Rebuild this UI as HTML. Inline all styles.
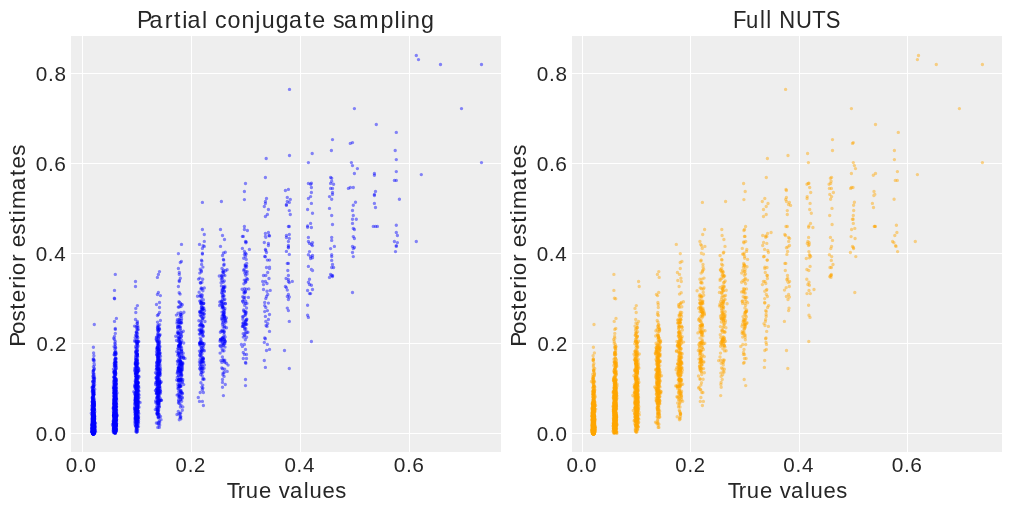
<!DOCTYPE html>
<html><head><meta charset="utf-8"><title>plot</title>
<style>
html,body{margin:0;padding:0;background:#fff;}
body{width:1011px;height:511px;overflow:hidden;font-family:"Liberation Sans",sans-serif;}
svg{display:block;position:absolute;left:0;top:0;will-change:transform;}
text{font-family:"Liberation Sans",sans-serif;fill:#262626;}
</style></head><body>
<svg width="1011" height="511" viewBox="0 0 1011 511">
<rect x="0" y="0" width="1011" height="511" fill="#ffffff"/>
<rect x="71" y="36" width="430" height="416" fill="#eeeeee"/>
<rect x="82" y="36" width="1" height="416" fill="#ffffff"/>
<rect x="191" y="36" width="1" height="416" fill="#ffffff"/>
<rect x="300" y="36" width="1" height="416" fill="#ffffff"/>
<rect x="409" y="36" width="1" height="416" fill="#ffffff"/>
<rect x="71" y="433" width="430" height="1" fill="#ffffff"/>
<rect x="71" y="343" width="430" height="1" fill="#ffffff"/>
<rect x="71" y="253" width="430" height="1" fill="#ffffff"/>
<rect x="71" y="163" width="430" height="1" fill="#ffffff"/>
<rect x="71" y="73" width="430" height="1" fill="#ffffff"/>
<rect x="572" y="36" width="430" height="416" fill="#eeeeee"/>
<rect x="582" y="36" width="1" height="416" fill="#ffffff"/>
<rect x="690" y="36" width="1" height="416" fill="#ffffff"/>
<rect x="799" y="36" width="1" height="416" fill="#ffffff"/>
<rect x="907" y="36" width="1" height="416" fill="#ffffff"/>
<rect x="572" y="433" width="430" height="1" fill="#ffffff"/>
<rect x="572" y="343" width="430" height="1" fill="#ffffff"/>
<rect x="572" y="253" width="430" height="1" fill="#ffffff"/>
<rect x="572" y="163" width="430" height="1" fill="#ffffff"/>
<rect x="572" y="73" width="430" height="1" fill="#ffffff"/>
<g fill="none" stroke="#0000ff" stroke-opacity="0.46" stroke-width="3.4" stroke-linecap="round">
<path d="M461.5 108.6h0M481.5 162.6h0M374.4 173.5h0M312.5 242.6h0M307.6 290.5h0M329.5 196.6h0M352.5 219.3h0M353.3 228.4h0M375.5 191.4h0M374.4 195.5h0M396.3 246.4h0M245.5 256.4h0M268.4 243.4h0M265.4 256.7h0M289.3 238.4h0M286.1 278.5h0M263.5 289.5h0M266.1 325.5h0M269.5 349.4h0M243.3 358.5h0M223.4 395.6h0M198.3 397.5h0M93.0 432.4h0M92.4 390.9h0M93.2 431.6h0M93.1 411.2h0M93.1 433.2h0M93.9 424.2h0M92.8 431.5h0M93.8 414.1h0M93.3 433.7h0M93.9 431.9h0M93.5 432.6h0M93.3 430.2h0M94.8 411.8h0M94.0 432.7h0M93.1 426.0h0M93.3 432.1h0M93.1 395.4h0M93.4 433.4h0M92.9 397.0h0M93.1 430.3h0M93.6 431.7h0M93.5 432.3h0M94.0 432.7h0M93.3 429.0h0M94.1 421.9h0M92.6 419.0h0M93.6 426.3h0M94.2 431.1h0M93.9 420.1h0M93.1 432.6h0M94.4 416.4h0M93.1 431.5h0M93.0 433.4h0M93.6 433.7h0M93.6 433.8h0M93.6 429.7h0M93.4 433.6h0M94.0 411.9h0M93.8 433.6h0M92.7 412.8h0M92.7 432.8h0M93.7 433.7h0M92.2 428.5h0M93.2 419.3h0M94.1 428.0h0M93.7 397.3h0M93.1 413.6h0M93.2 433.7h0M92.8 429.6h0M93.6 432.6h0M93.6 432.1h0M92.9 429.2h0M92.6 431.8h0M94.0 425.6h0M93.1 424.8h0M92.7 419.9h0M94.0 432.0h0M93.7 432.0h0M92.4 431.2h0M93.4 432.7h0M93.2 433.2h0M92.9 415.9h0M93.5 432.1h0M92.8 424.8h0M93.4 432.9h0M93.4 429.7h0M93.3 429.4h0M93.5 420.2h0M93.0 432.2h0M93.2 425.4h0M93.6 433.3h0M93.6 431.6h0M93.4 428.7h0M93.3 433.8h0M93.6 409.0h0M93.5 433.8h0M94.5 431.5h0M93.5 431.6h0M93.6 432.6h0M93.7 431.7h0M93.4 430.8h0M93.1 416.8h0M93.4 408.4h0M93.2 433.8h0M93.6 419.0h0M93.4 432.6h0M93.2 433.7h0M92.2 391.6h0M91.9 424.5h0M93.0 425.3h0M93.5 433.3h0M93.1 417.0h0M94.5 417.5h0M93.8 423.9h0M93.6 403.7h0M94.3 426.5h0M93.3 423.5h0M94.6 427.5h0M93.2 431.1h0M93.6 430.7h0M93.1 433.8h0M93.3 433.7h0M93.3 433.6h0M93.3 433.5h0M94.5 422.0h0M92.9 433.5h0M93.6 432.5h0M92.9 431.2h0M93.4 433.8h0M93.0 422.0h0M93.3 429.3h0M93.1 412.4h0M93.7 386.9h0M92.8 422.5h0M94.1 423.7h0M94.0 429.7h0M95.5 423.3h0M93.8 431.5h0M93.6 433.1h0M93.1 432.3h0M93.4 417.4h0M93.2 430.0h0M92.3 401.4h0M93.2 432.7h0M94.4 430.9h0M93.0 433.7h0M92.7 429.6h0M94.3 427.2h0M93.6 433.3h0M114.1 346.6h0M114.8 429.3h0M116.0 427.4h0M115.7 421.3h0M116.2 415.7h0M114.5 377.2h0M114.2 412.9h0M116.6 399.0h0M115.5 380.7h0M115.6 396.7h0M114.8 420.6h0M114.3 408.4h0M115.3 412.0h0M116.0 409.8h0M114.2 411.7h0M115.2 404.7h0M114.7 420.6h0M114.4 387.5h0M115.5 414.8h0M114.7 410.6h0M115.5 379.3h0M115.6 406.5h0M115.0 416.0h0M115.0 412.2h0M115.7 415.2h0M114.7 418.1h0M114.6 346.4h0M115.3 424.9h0M114.5 403.0h0M115.1 380.2h0M113.6 414.8h0M115.4 425.9h0M116.5 426.2h0M115.2 404.7h0M114.5 401.2h0M115.8 425.9h0M115.2 379.1h0M114.7 408.0h0M114.6 402.0h0M115.7 347.7h0M116.1 423.9h0M115.6 419.5h0M115.6 412.9h0M114.1 426.0h0M114.0 414.2h0M114.9 431.3h0M115.5 417.5h0M115.5 372.5h0M116.3 415.6h0M113.4 385.9h0M114.1 415.6h0M114.3 401.5h0M116.7 400.9h0M114.5 390.7h0M114.6 409.3h0M137.7 396.3h0M137.3 411.2h0M136.2 367.4h0M137.2 383.2h0M136.5 379.0h0M137.7 407.7h0M137.1 417.1h0M137.1 354.2h0M136.1 425.9h0M136.4 379.3h0M135.3 392.8h0M137.9 376.5h0M136.5 408.6h0M137.5 371.4h0M137.8 393.8h0M136.7 409.0h0M138.3 389.7h0M138.2 398.6h0M136.3 351.5h0M137.6 410.2h0M137.1 416.5h0M136.9 432.0h0M136.8 385.7h0M137.3 395.9h0M136.7 402.1h0M136.7 412.4h0M134.9 417.8h0M137.4 359.1h0M135.8 381.5h0M134.8 340.5h0M136.5 416.3h0M136.1 363.6h0M137.5 393.4h0M137.9 396.8h0M136.8 400.7h0M136.7 404.5h0M138.8 397.8h0M136.4 392.0h0M136.2 395.8h0M135.7 422.7h0M136.7 386.1h0M158.9 391.6h0M158.2 326.1h0M158.4 330.8h0M157.4 347.5h0M158.6 390.3h0M159.5 349.7h0M159.6 335.4h0M160.3 359.5h0M158.0 394.4h0M158.5 403.5h0M160.0 383.1h0M157.4 413.8h0M158.6 337.9h0M157.1 388.5h0M156.5 407.4h0M158.2 394.3h0M157.4 413.5h0M161.0 400.4h0M160.6 391.4h0M158.6 361.3h0M157.5 360.1h0M157.8 427.4h0M178.6 380.0h0M180.3 343.3h0M180.2 330.1h0M178.7 326.3h0M180.8 370.0h0M181.9 375.1h0M178.7 346.0h0M180.7 375.1h0M180.1 294.1h0M177.6 372.2h0M178.0 348.7h0M200.8 312.6h0M202.8 346.0h0M201.1 362.0h0M202.3 376.0h0M199.6 311.7h0M201.0 302.8h0M202.7 368.5h0M199.7 344.4h0M200.7 303.5h0M201.9 282.3h0M201.9 261.1h0M203.0 318.2h0M222.1 280.4h0M224.5 312.7h0M222.9 342.7h0M224.3 372.2h0M222.6 341.7h0M222.4 278.5h0M224.4 290.9h0M222.7 368.7h0M225.3 303.7h0M246.8 332.5h0M246.8 278.5h0M245.8 313.9h0M246.0 331.5h0M247.0 274.1h0M245.2 323.8h0M244.8 292.9h0M244.7 305.4h0"/>
<path d="M396.3 171.6h0M311.4 192.5h0M331.7 178.2h0M331.7 181.2h0M332.5 192.5h0M331.7 215.5h0M331.7 254.7h0M354.4 238.5h0M374.4 194.4h0M225.3 252.3h0M244.4 251.4h0M266.5 198.5h0M265.4 236.4h0M265.8 237.3h0M264.3 242.5h0M269.5 260.1h0M289.3 202.4h0M288.4 246.9h0M288.4 263.4h0M288.4 279.4h0M292.3 281.4h0M285.4 286.5h0M288.4 294.5h0M266.5 296.5h0M264.7 305.6h0M267.4 310.6h0M245.5 385.6h0M114.5 290.4h0M114.5 321.4h0M93.0 427.4h0M93.4 431.5h0M92.9 421.5h0M92.3 430.1h0M93.5 433.1h0M94.8 416.2h0M93.3 424.1h0M93.5 433.7h0M93.9 431.9h0M93.0 418.2h0M93.3 381.9h0M92.7 381.5h0M92.8 433.4h0M93.3 426.2h0M92.7 421.6h0M93.3 433.8h0M94.1 433.3h0M93.4 433.8h0M93.7 392.2h0M93.9 427.3h0M93.9 429.7h0M93.0 432.3h0M93.2 420.6h0M94.0 424.9h0M92.9 432.4h0M93.3 427.4h0M93.5 393.2h0M92.4 422.7h0M93.6 433.4h0M92.5 428.8h0M93.5 431.2h0M93.1 431.3h0M94.4 402.3h0M94.2 431.3h0M93.0 432.8h0M93.4 416.2h0M93.6 432.0h0M93.5 425.9h0M92.5 425.0h0M93.1 429.9h0M93.7 429.1h0M93.6 433.8h0M92.9 426.0h0M92.4 429.9h0M93.8 426.8h0M92.8 420.6h0M92.2 405.6h0M93.5 433.8h0M93.5 406.2h0M93.4 430.4h0M92.8 426.9h0M93.2 431.7h0M93.3 384.9h0M93.3 431.9h0M93.5 433.5h0M92.7 390.1h0M94.4 429.9h0M93.1 397.3h0M93.7 417.9h0M93.6 423.6h0M93.6 433.0h0M92.7 416.3h0M93.6 433.0h0M93.7 426.4h0M93.3 433.8h0M92.3 427.8h0M92.8 430.2h0M92.2 421.3h0M93.4 424.5h0M93.1 420.2h0M93.4 432.8h0M93.2 433.8h0M94.0 432.4h0M93.2 425.1h0M93.3 433.6h0M93.2 433.5h0M93.3 433.3h0M93.5 432.5h0M92.5 426.7h0M93.4 408.6h0M93.4 431.3h0M93.4 433.8h0M93.4 432.3h0M93.0 432.3h0M93.6 425.4h0M93.6 421.9h0M94.0 430.7h0M93.7 424.6h0M93.3 418.3h0M93.4 433.8h0M93.5 414.9h0M93.5 405.0h0M92.9 433.4h0M93.5 382.7h0M93.5 422.0h0M94.1 369.4h0M93.3 424.3h0M92.4 431.1h0M93.4 433.8h0M93.3 408.0h0M93.3 433.8h0M94.3 413.1h0M93.3 428.5h0M92.2 421.4h0M115.1 413.8h0M115.0 392.4h0M115.1 421.3h0M115.3 397.1h0M116.4 417.3h0M115.1 430.5h0M115.1 428.8h0M115.5 395.2h0M115.1 403.1h0M115.4 361.1h0M115.0 390.2h0M115.4 391.3h0M114.4 404.7h0M116.2 367.0h0M113.8 404.0h0M115.4 432.0h0M115.5 392.9h0M115.7 380.8h0M114.1 428.4h0M115.6 428.5h0M114.6 432.6h0M115.0 406.2h0M115.8 415.5h0M113.9 423.0h0M115.3 420.1h0M114.1 426.3h0M115.4 423.3h0M115.5 423.6h0M114.1 404.2h0M116.2 424.9h0M114.3 373.8h0M113.9 422.7h0M115.9 420.7h0M114.9 415.2h0M114.8 408.0h0M116.1 417.4h0M114.5 425.0h0M115.5 405.9h0M113.6 415.7h0M114.4 427.3h0M115.7 427.6h0M114.0 390.5h0M115.0 410.5h0M116.2 429.0h0M115.2 424.9h0M115.8 423.1h0M114.7 416.7h0M115.5 423.3h0M115.8 378.7h0M136.5 390.0h0M136.6 408.5h0M137.9 382.9h0M136.8 423.8h0M136.1 405.5h0M135.8 406.1h0M136.8 417.8h0M136.6 423.4h0M135.3 408.3h0M136.5 413.5h0M137.1 408.1h0M135.0 414.8h0M136.7 410.4h0M138.0 402.4h0M137.4 372.1h0M135.1 394.9h0M136.6 364.6h0M137.2 356.1h0M137.6 342.8h0M137.0 411.3h0M136.6 377.8h0M136.0 382.0h0M136.9 372.3h0M137.0 366.9h0M136.3 388.0h0M135.6 386.7h0M135.2 388.4h0M157.2 368.7h0M158.2 343.2h0M157.2 369.7h0M157.3 380.9h0M158.8 373.4h0M157.5 412.8h0M160.5 393.2h0M158.2 386.9h0M158.9 397.5h0M158.2 396.0h0M158.3 391.5h0M158.6 338.1h0M158.2 392.4h0M158.6 393.2h0M157.4 390.3h0M158.4 417.9h0M159.1 393.9h0M157.4 411.2h0M157.5 377.3h0M158.0 364.0h0M157.8 348.6h0M181.6 353.7h0M177.9 331.4h0M178.4 320.4h0M177.0 414.5h0M179.5 358.0h0M179.4 346.8h0M178.6 358.9h0M181.9 314.3h0M178.9 361.1h0M180.6 322.6h0M181.1 372.5h0M180.8 363.7h0M178.6 380.0h0M177.4 319.6h0M180.5 328.7h0M181.5 316.5h0M181.0 386.2h0M178.8 319.8h0M182.2 365.9h0M180.7 361.3h0M182.4 382.4h0M198.9 320.8h0M204.4 350.8h0M202.7 314.8h0M202.4 332.9h0M201.3 287.9h0M200.0 359.4h0M203.1 357.9h0M200.7 283.0h0M202.2 351.1h0M201.5 329.4h0M203.2 371.8h0M202.9 388.1h0M224.1 376.4h0M222.6 306.1h0M223.0 345.3h0M223.1 318.8h0M222.2 320.0h0M223.8 295.4h0M224.3 361.3h0M222.5 338.1h0M223.3 318.1h0M224.3 281.0h0M221.1 282.7h0M222.5 324.4h0M222.1 316.0h0M221.2 340.5h0M224.1 334.8h0M245.7 280.4h0M248.8 288.9h0M245.5 321.4h0M246.0 320.9h0"/>
<path d="M354.4 108.6h0M352.5 165.6h0M308.4 266.4h0M309.5 279.3h0M309.5 284.5h0M331.7 199.3h0M202.4 254.1h0M244.4 191.5h0M267.4 214.5h0M286.4 287.6h0M287.3 296.5h0M289.3 321.4h0M270.2 290.4h0M265.4 338.7h0M222.5 379.5h0M115.3 274.4h0M115.3 333.4h0M135.8 312.5h0M93.5 433.1h0M93.0 421.0h0M92.6 430.9h0M94.4 417.3h0M92.5 423.4h0M93.0 432.6h0M93.3 431.8h0M93.3 431.5h0M92.8 427.7h0M93.0 431.1h0M93.5 433.8h0M93.3 433.6h0M92.9 433.8h0M93.7 390.8h0M93.4 433.7h0M93.5 424.4h0M92.5 430.7h0M93.7 433.1h0M93.0 392.3h0M93.4 420.8h0M93.0 431.3h0M93.8 432.2h0M93.4 433.6h0M93.5 418.1h0M93.6 432.5h0M93.5 433.7h0M93.6 432.0h0M93.7 430.1h0M93.3 432.0h0M93.5 433.7h0M93.0 431.4h0M92.6 422.1h0M93.0 404.5h0M92.4 397.1h0M93.9 433.5h0M93.5 432.9h0M93.3 432.8h0M93.0 431.4h0M92.9 410.9h0M92.5 430.3h0M94.2 432.0h0M93.2 433.8h0M93.3 433.8h0M93.8 417.4h0M93.9 433.8h0M92.2 419.2h0M94.2 423.8h0M92.0 425.6h0M93.8 406.8h0M94.4 422.3h0M93.6 430.3h0M94.1 433.0h0M92.9 416.6h0M93.8 429.7h0M92.1 418.9h0M94.6 424.4h0M93.5 418.7h0M93.1 411.8h0M93.9 430.8h0M94.2 430.6h0M93.3 433.4h0M94.2 427.6h0M93.4 433.8h0M93.0 433.8h0M94.1 416.9h0M92.5 421.4h0M94.9 423.2h0M94.0 431.4h0M94.1 392.0h0M93.1 426.2h0M93.3 433.7h0M93.5 431.9h0M93.2 433.4h0M93.6 433.8h0M93.9 355.8h0M94.1 427.7h0M93.0 418.1h0M93.6 430.9h0M93.6 425.0h0M93.0 433.2h0M93.8 417.4h0M92.8 432.7h0M93.6 370.4h0M93.6 421.0h0M93.0 432.4h0M93.7 426.5h0M92.8 432.0h0M93.3 433.7h0M93.8 428.2h0M92.7 399.5h0M93.6 433.7h0M93.6 433.8h0M92.8 433.0h0M93.4 433.8h0M93.6 427.5h0M93.3 396.8h0M93.1 429.8h0M93.1 425.1h0M93.4 433.7h0M94.0 420.2h0M93.1 432.5h0M93.3 421.4h0M93.9 430.7h0M93.4 433.8h0M93.4 433.4h0M93.5 433.8h0M93.8 432.8h0M93.6 433.7h0M93.3 433.6h0M93.2 433.7h0M92.9 426.2h0M93.1 430.9h0M93.2 433.2h0M93.5 394.3h0M92.4 425.0h0M92.6 426.7h0M93.3 433.8h0M92.9 433.1h0M93.5 429.1h0M93.5 433.6h0M93.5 433.8h0M92.9 433.2h0M93.0 418.1h0M93.6 427.6h0M93.5 429.6h0M93.5 412.5h0M93.5 433.6h0M93.3 433.7h0M93.5 433.7h0M93.8 429.8h0M114.2 426.4h0M115.7 409.4h0M114.6 412.5h0M114.1 416.0h0M114.5 407.9h0M114.0 380.2h0M115.1 385.2h0M115.5 424.3h0M114.7 394.1h0M114.6 423.9h0M114.3 431.8h0M115.3 422.0h0M114.1 371.4h0M114.7 397.1h0M115.0 403.2h0M114.4 376.0h0M114.4 396.6h0M115.9 431.2h0M115.7 428.2h0M114.2 399.8h0M115.6 430.2h0M115.9 394.2h0M115.2 404.0h0M115.5 420.6h0M115.1 391.1h0M114.2 412.2h0M114.0 409.4h0M115.2 409.6h0M115.3 390.5h0M115.7 385.3h0M114.6 430.5h0M115.2 415.6h0M114.4 406.3h0M115.7 393.4h0M115.3 433.3h0M115.1 417.3h0M114.1 418.6h0M114.7 426.7h0M115.5 365.5h0M115.2 401.6h0M116.3 414.9h0M115.2 423.1h0M114.5 421.7h0M114.2 363.5h0M114.3 416.5h0M115.0 398.4h0M114.7 412.2h0M115.4 396.3h0M114.0 380.6h0M114.0 425.1h0M115.2 352.2h0M115.5 429.3h0M115.1 416.2h0M113.9 416.5h0M115.9 417.5h0M115.7 419.2h0M114.5 404.5h0M114.2 415.5h0M136.4 392.7h0M136.1 420.2h0M136.2 326.4h0M136.2 360.2h0M136.7 336.6h0M135.1 409.9h0M136.6 382.4h0M136.9 376.1h0M136.2 374.1h0M135.8 417.6h0M136.9 365.8h0M137.3 360.9h0M136.2 409.1h0M137.2 391.7h0M138.1 341.5h0M139.1 394.9h0M136.5 385.0h0M137.3 407.8h0M139.0 407.3h0M136.8 364.3h0M134.8 400.3h0M136.7 378.8h0M134.7 403.4h0M138.5 423.5h0M137.9 382.3h0M136.8 406.9h0M137.7 356.8h0M136.4 335.4h0M136.1 359.8h0M136.0 403.5h0M136.9 329.0h0M136.1 425.1h0M136.7 398.1h0M158.5 417.0h0M158.0 391.1h0M159.2 384.6h0M156.3 369.4h0M158.9 414.4h0M159.2 350.7h0M158.8 369.4h0M158.5 390.2h0M157.7 402.1h0M158.6 391.5h0M157.0 379.1h0M158.3 409.0h0M159.3 391.4h0M156.8 355.0h0M159.3 401.3h0M157.5 327.3h0M157.5 378.8h0M159.0 374.5h0M157.6 390.9h0M157.3 347.7h0M157.9 331.6h0M158.4 372.4h0M158.2 329.2h0M159.8 352.4h0M181.6 369.7h0M177.1 395.1h0M180.5 399.5h0M179.2 385.5h0M178.2 332.9h0M177.4 361.3h0M182.9 363.3h0M180.6 343.3h0M179.4 386.9h0M201.3 347.9h0M201.6 365.7h0M202.6 308.3h0M202.7 313.2h0M201.0 321.5h0M204.0 368.2h0M202.6 349.5h0M203.4 326.2h0M200.6 343.8h0M201.7 368.1h0M200.4 352.7h0M223.4 286.8h0M223.0 306.5h0M222.6 299.4h0M243.3 337.1h0M245.3 266.8h0M245.5 275.3h0M243.5 324.4h0M242.1 289.2h0M245.2 311.6h0"/>
<path d="M311.4 187.5h0M308.4 254.7h0M310.6 258.5h0M330.6 177.4h0M329.5 208.4h0M329.5 277.4h0M396.3 245.6h0M204.3 234.5h0M204.3 241.4h0M220.5 246.4h0M268.4 232.5h0M265.4 249.4h0M288.4 189.4h0M290.3 214.5h0M288.4 226.5h0M289.3 282.6h0M263.5 284.6h0M241.4 344.5h0M242.4 346.4h0M243.3 352.5h0M246.5 354.4h0M222.5 382.4h0M203.4 392.5h0M199.5 401.4h0M114.6 298.8h0M116.4 318.4h0M159.5 307.5h0M93.3 433.8h0M93.4 433.8h0M93.1 433.7h0M94.5 431.5h0M93.2 433.8h0M92.7 429.7h0M92.5 419.9h0M94.2 429.4h0M93.8 420.4h0M93.3 433.3h0M93.3 432.9h0M93.6 431.3h0M93.6 433.3h0M93.7 430.4h0M93.8 428.9h0M92.8 422.5h0M94.4 429.0h0M92.9 433.7h0M92.9 432.3h0M93.0 415.2h0M94.1 427.8h0M93.3 433.7h0M94.0 425.3h0M93.8 432.3h0M94.3 368.4h0M94.1 432.2h0M93.0 432.2h0M93.6 432.8h0M94.0 425.1h0M93.4 433.7h0M93.1 427.2h0M92.2 431.7h0M94.2 420.8h0M92.9 422.8h0M93.3 422.3h0M92.9 415.0h0M93.0 432.7h0M92.5 426.1h0M92.7 432.8h0M93.3 421.0h0M93.6 433.8h0M92.8 426.3h0M92.9 423.4h0M93.2 432.6h0M92.6 421.5h0M93.1 425.8h0M92.6 424.5h0M92.4 401.5h0M94.0 428.2h0M93.2 427.8h0M93.4 433.1h0M92.8 428.7h0M93.0 420.5h0M92.9 433.5h0M93.3 433.8h0M93.1 433.7h0M93.4 433.7h0M93.2 432.6h0M93.9 432.7h0M93.1 433.6h0M94.7 429.5h0M93.3 430.5h0M93.4 425.5h0M93.9 423.0h0M93.3 432.0h0M93.7 431.7h0M93.4 433.5h0M93.4 433.7h0M92.8 433.2h0M93.1 425.0h0M93.3 433.7h0M93.3 420.6h0M94.1 426.0h0M93.2 433.7h0M93.4 433.8h0M93.5 432.1h0M93.5 408.8h0M93.7 418.3h0M93.5 404.4h0M93.3 433.8h0M93.5 420.6h0M94.5 430.3h0M93.3 433.3h0M92.8 424.0h0M93.9 408.9h0M93.3 433.8h0M93.4 432.1h0M93.8 418.1h0M93.3 426.9h0M92.3 424.8h0M93.1 426.8h0M93.5 432.6h0M93.1 433.2h0M94.1 432.0h0M93.2 433.8h0M94.0 431.4h0M92.9 433.4h0M93.2 432.7h0M94.0 428.5h0M93.2 433.8h0M93.8 432.3h0M93.6 433.6h0M94.8 425.4h0M93.9 425.7h0M93.5 433.7h0M93.4 433.0h0M93.2 400.7h0M93.7 428.8h0M93.6 432.2h0M93.3 433.6h0M93.5 428.2h0M93.3 433.1h0M93.3 429.8h0M93.0 408.6h0M92.8 432.7h0M93.7 404.6h0M93.0 429.4h0M92.9 398.9h0M93.2 431.0h0M93.8 431.6h0M92.7 415.8h0M92.8 429.9h0M95.6 432.0h0M93.8 433.0h0M93.1 429.7h0M93.6 433.8h0M93.3 433.4h0M92.9 433.8h0M93.8 430.3h0M93.3 431.3h0M93.3 422.5h0M93.6 433.7h0M93.1 433.0h0M93.1 424.2h0M94.0 432.6h0M93.3 408.0h0M93.1 373.0h0M93.8 422.0h0M93.2 433.3h0M93.8 386.3h0M93.7 427.2h0M93.9 431.9h0M94.2 428.1h0M116.3 415.8h0M115.7 431.0h0M116.0 419.6h0M116.2 431.2h0M115.5 387.8h0M115.0 425.2h0M114.9 391.4h0M115.7 373.8h0M114.8 425.0h0M114.8 420.0h0M114.2 377.7h0M115.1 405.8h0M115.8 423.5h0M114.7 431.0h0M115.1 413.1h0M114.9 397.7h0M114.0 414.8h0M116.3 380.4h0M115.3 403.2h0M115.8 428.9h0M114.3 422.7h0M114.8 412.1h0M113.8 418.9h0M114.3 380.6h0M114.9 423.2h0M113.9 388.1h0M114.8 417.2h0M114.5 411.4h0M114.9 414.6h0M114.7 407.0h0M116.4 416.0h0M114.5 419.4h0M115.2 423.9h0M114.5 415.2h0M115.7 401.7h0M115.1 382.5h0M115.6 383.6h0M114.3 414.9h0M115.6 411.2h0M114.3 403.2h0M114.8 399.7h0M116.5 429.9h0M115.1 403.5h0M115.5 405.5h0M115.2 414.7h0M115.6 426.9h0M114.8 385.1h0M115.4 366.6h0M113.6 423.7h0M113.9 421.8h0M116.2 424.0h0M116.2 425.9h0M115.6 423.8h0M114.0 417.7h0M114.9 405.3h0M114.8 413.7h0M136.6 333.0h0M136.3 376.7h0M134.9 368.2h0M137.4 380.3h0M137.3 322.9h0M135.8 361.7h0M136.6 401.7h0M137.0 369.0h0M135.8 415.3h0M135.8 417.0h0M136.5 381.2h0M137.5 421.1h0M137.5 395.5h0M136.1 420.9h0M136.6 375.4h0M137.4 394.0h0M137.1 416.9h0M137.9 406.8h0M135.7 397.9h0M138.2 413.0h0M136.2 365.9h0M136.7 387.1h0M138.2 394.8h0M136.5 428.3h0M136.6 429.3h0M137.4 383.2h0M136.4 396.8h0M138.5 368.1h0M138.6 386.1h0M137.5 408.5h0M136.0 416.9h0M159.6 342.2h0M158.6 362.0h0M159.7 324.7h0M158.2 345.4h0M158.9 369.1h0M158.8 370.2h0M157.4 406.7h0M159.6 362.1h0M157.3 384.9h0M158.2 382.1h0M156.8 368.2h0M156.7 397.5h0M157.2 405.4h0M157.4 381.0h0M158.0 384.0h0M158.8 327.4h0M159.0 371.5h0M159.2 385.6h0M159.2 386.2h0M181.6 364.3h0M178.7 333.1h0M178.2 372.5h0M179.1 352.8h0M177.2 373.3h0M180.5 380.2h0M180.8 416.8h0M179.6 302.5h0M180.6 303.4h0M180.4 361.7h0M183.7 384.6h0M178.4 380.4h0M180.1 344.7h0M178.5 381.2h0M181.8 355.9h0M178.7 401.1h0M180.8 391.9h0M180.3 347.0h0M179.7 350.0h0M177.9 384.2h0M181.6 322.9h0M180.0 363.6h0M178.1 313.2h0M178.8 350.9h0M179.4 386.5h0M183.2 353.3h0M202.8 379.4h0M201.2 316.1h0M201.5 303.1h0M202.9 335.9h0M200.6 355.0h0M201.9 362.1h0M200.1 369.0h0M222.1 338.3h0M223.7 274.8h0M221.8 275.2h0M222.9 318.9h0M221.9 362.4h0M221.4 285.9h0M224.8 299.3h0M244.3 299.2h0M245.7 301.2h0M245.9 324.4h0"/>
<path d="M418.5 59.6h0M312.2 153.5h0M308.4 162.6h0M310.6 184.2h0M310.6 196.6h0M312.5 289.5h0M330.6 248.6h0M331.7 267.5h0M353.3 236.6h0M395.5 251.6h0M244.4 226.5h0M244.4 254.4h0M287.3 197.4h0M286.4 237.5h0M288.4 281.4h0M267.0 283.5h0M289.3 368.5h0M245.5 362.4h0M157.4 294.5h0M159.5 302.5h0M181.4 261.4h0M179.3 272.5h0M92.9 425.2h0M93.3 433.0h0M93.7 432.6h0M94.4 429.2h0M94.9 426.6h0M93.6 432.5h0M93.4 433.7h0M92.4 418.8h0M93.7 429.3h0M93.4 433.4h0M92.9 394.1h0M93.8 430.1h0M93.7 433.7h0M93.6 414.8h0M93.0 428.9h0M93.1 412.3h0M92.6 429.5h0M93.5 433.8h0M93.3 429.2h0M93.4 433.8h0M93.1 430.3h0M93.0 433.4h0M93.7 433.0h0M93.9 430.1h0M92.5 424.6h0M94.2 425.0h0M93.7 425.3h0M93.4 433.4h0M92.8 433.2h0M93.3 433.1h0M92.4 430.6h0M93.5 418.5h0M93.0 416.3h0M93.9 432.7h0M92.8 432.5h0M94.4 401.7h0M93.9 422.4h0M93.1 433.3h0M93.5 433.6h0M93.3 433.0h0M93.5 433.8h0M93.2 431.5h0M93.5 433.4h0M93.4 430.2h0M93.0 433.7h0M94.0 425.7h0M93.8 433.8h0M93.3 433.8h0M93.5 429.9h0M94.1 417.7h0M93.7 429.6h0M92.9 415.4h0M93.3 433.8h0M92.9 428.1h0M92.9 432.7h0M92.5 432.1h0M93.4 423.7h0M93.9 423.3h0M93.2 433.8h0M93.3 429.7h0M93.0 432.6h0M93.3 431.3h0M94.3 432.6h0M93.0 429.6h0M94.2 423.5h0M93.5 433.8h0M93.7 431.2h0M93.3 433.6h0M93.7 427.4h0M93.8 424.5h0M92.9 433.3h0M92.8 429.0h0M93.5 433.1h0M93.5 427.6h0M93.3 409.0h0M93.5 433.8h0M94.4 409.9h0M93.7 433.6h0M93.5 433.4h0M94.4 431.0h0M93.4 433.7h0M92.9 432.6h0M94.6 429.7h0M93.8 400.8h0M92.2 397.9h0M93.4 433.7h0M94.4 430.6h0M94.2 427.4h0M93.8 429.4h0M93.4 433.0h0M93.5 433.4h0M93.9 426.6h0M93.4 392.1h0M93.5 432.3h0M92.6 400.9h0M93.9 428.6h0M93.7 430.6h0M93.5 426.8h0M93.1 430.0h0M93.0 418.3h0M92.9 432.1h0M93.0 431.9h0M94.2 403.3h0M92.9 427.9h0M93.8 415.6h0M93.3 426.4h0M114.9 431.6h0M116.3 429.9h0M115.7 406.2h0M116.1 417.4h0M115.8 402.4h0M115.3 399.1h0M114.6 425.7h0M114.5 429.8h0M115.4 417.5h0M114.7 408.7h0M115.8 431.6h0M115.0 374.8h0M116.1 354.0h0M115.5 416.9h0M114.6 373.4h0M114.6 403.2h0M115.1 379.7h0M115.0 400.2h0M115.1 424.0h0M114.9 432.2h0M113.7 425.3h0M115.9 431.3h0M114.9 363.1h0M114.7 401.6h0M115.0 433.4h0M116.1 425.6h0M116.4 420.4h0M115.3 414.8h0M114.7 425.7h0M115.0 416.9h0M115.2 420.7h0M115.3 382.4h0M114.5 384.1h0M115.5 384.6h0M114.5 398.8h0M113.9 423.5h0M115.7 429.4h0M114.9 403.1h0M116.3 413.2h0M112.5 424.5h0M114.4 422.6h0M115.1 414.2h0M136.9 406.8h0M137.6 429.7h0M135.2 397.5h0M136.0 393.5h0M134.7 393.7h0M134.8 412.2h0M135.1 392.4h0M136.3 370.8h0M137.1 401.4h0M135.4 368.0h0M135.9 394.1h0M135.8 388.2h0M138.7 368.9h0M136.5 390.0h0M137.3 371.8h0M136.6 391.8h0M137.3 402.2h0M136.5 343.1h0M136.1 417.0h0M136.9 383.8h0M138.0 327.4h0M136.9 376.1h0M136.7 372.7h0M136.3 392.3h0M137.5 401.8h0M135.9 395.1h0M135.8 357.0h0M134.5 326.1h0M137.1 385.1h0M138.1 329.3h0M136.1 364.4h0M136.2 396.5h0M136.5 403.4h0M135.9 362.0h0M137.5 333.5h0M137.0 336.1h0M136.0 376.6h0M135.9 383.3h0M136.1 414.2h0M138.7 397.8h0M157.8 409.3h0M159.5 381.2h0M157.6 353.9h0M157.7 414.2h0M159.1 407.1h0M159.5 329.2h0M160.1 390.4h0M158.3 359.4h0M158.7 409.9h0M155.3 409.6h0M157.2 354.9h0M158.6 392.0h0M156.6 349.1h0M158.7 383.8h0M158.4 343.2h0M160.1 334.6h0M159.6 400.2h0M157.2 347.2h0M182.8 379.5h0M179.7 355.9h0M180.3 371.3h0M178.1 368.0h0M177.4 332.9h0M178.9 346.3h0M180.4 369.1h0M180.2 334.5h0M182.3 304.8h0M179.9 326.6h0M180.7 314.8h0M177.2 321.3h0M178.9 370.1h0M180.1 380.8h0M180.1 362.8h0M183.4 358.2h0M203.1 361.9h0M202.9 290.7h0M204.2 343.8h0M200.8 353.3h0M203.3 378.6h0M202.8 326.7h0M201.0 332.4h0M199.1 292.2h0M201.4 271.8h0M199.9 342.6h0M202.4 359.5h0M201.8 297.1h0M204.3 287.9h0M201.1 350.2h0M224.7 327.7h0M224.8 343.8h0M221.8 368.0h0M223.3 272.1h0M224.6 310.1h0M223.9 314.2h0M219.3 276.0h0M223.6 287.4h0M222.9 307.3h0M245.3 265.5h0M245.3 291.9h0M246.9 303.4h0M246.5 289.1h0"/>
<path d="M357.4 168.6h0M312.5 245.6h0M394.4 180.4h0M399.4 199.3h0M202.4 202.4h0M202.4 253.3h0M223.4 259.4h0M265.8 250.5h0M289.3 226.5h0M287.3 308.1h0M267.7 294.5h0M222.5 387.2h0M115.3 329.4h0M113.7 338.3h0M158.4 274.4h0M156.5 304.5h0M160.4 320.5h0M93.9 431.3h0M93.0 399.6h0M93.5 433.7h0M93.5 428.8h0M92.9 428.2h0M93.5 433.8h0M93.7 414.4h0M92.6 429.7h0M92.9 424.1h0M93.1 428.2h0M92.3 431.4h0M93.9 419.9h0M93.1 433.8h0M94.1 428.3h0M94.5 430.6h0M94.4 427.8h0M93.2 433.8h0M93.4 433.7h0M93.3 426.8h0M93.0 415.9h0M93.9 423.3h0M93.9 429.6h0M94.7 389.2h0M94.4 415.9h0M94.1 432.2h0M93.6 433.4h0M92.4 429.8h0M93.3 433.8h0M92.8 429.3h0M93.4 433.5h0M93.0 432.4h0M93.1 431.7h0M93.2 421.7h0M94.3 376.5h0M93.7 432.1h0M92.9 425.5h0M93.7 425.3h0M93.0 425.5h0M92.6 416.3h0M93.3 432.9h0M93.3 414.2h0M92.1 428.8h0M94.0 432.4h0M92.9 424.2h0M94.3 430.1h0M93.8 431.8h0M93.8 433.4h0M93.6 422.4h0M93.5 420.0h0M93.5 410.9h0M93.9 428.3h0M94.3 418.0h0M93.5 417.2h0M93.6 433.1h0M92.6 431.8h0M93.6 433.8h0M92.4 418.1h0M92.7 420.8h0M93.8 433.7h0M93.2 433.5h0M93.5 427.7h0M93.9 428.3h0M93.1 430.3h0M92.7 422.6h0M93.0 433.5h0M94.4 429.4h0M93.0 433.5h0M93.4 432.5h0M93.7 429.1h0M93.3 433.3h0M93.0 391.2h0M94.5 423.4h0M93.3 433.3h0M93.7 427.4h0M93.2 433.7h0M93.3 433.8h0M93.5 433.6h0M93.5 432.1h0M92.8 432.8h0M92.6 432.9h0M93.6 432.4h0M93.9 407.8h0M92.7 420.3h0M94.5 429.3h0M92.6 419.0h0M93.3 410.4h0M93.5 416.4h0M92.9 429.4h0M93.6 433.3h0M92.5 412.4h0M93.4 426.3h0M93.3 433.6h0M93.2 410.2h0M93.6 433.7h0M93.6 432.0h0M93.6 433.4h0M93.2 431.6h0M94.0 433.1h0M94.4 426.8h0M93.6 419.7h0M93.1 433.8h0M93.0 429.2h0M94.1 425.6h0M93.4 423.1h0M93.9 399.5h0M94.0 428.7h0M93.2 429.3h0M93.4 366.8h0M93.9 423.9h0M94.0 427.9h0M92.9 391.0h0M94.0 421.7h0M93.6 432.5h0M94.3 405.6h0M92.6 430.6h0M93.4 432.0h0M93.0 433.5h0M92.8 420.0h0M93.4 433.6h0M93.4 432.6h0M92.8 430.7h0M93.1 433.1h0M94.2 423.5h0M93.1 433.8h0M93.0 375.9h0M92.8 420.5h0M93.4 409.3h0M93.2 425.9h0M94.1 430.2h0M93.2 433.5h0M93.2 433.8h0M93.2 428.8h0M93.3 433.8h0M93.1 391.6h0M93.4 433.8h0M92.5 430.8h0M93.3 399.5h0M114.6 425.2h0M114.7 417.8h0M115.7 415.9h0M116.2 394.4h0M115.4 419.6h0M115.3 414.8h0M114.2 400.9h0M115.1 423.4h0M115.3 414.7h0M116.0 365.2h0M115.0 409.9h0M114.7 405.0h0M114.7 389.1h0M114.6 431.2h0M114.8 410.1h0M115.4 387.9h0M115.3 425.6h0M115.3 408.5h0M116.1 398.8h0M114.7 431.3h0M115.5 401.2h0M115.1 392.5h0M114.1 354.8h0M113.5 382.3h0M115.3 398.4h0M114.7 424.2h0M115.8 415.5h0M114.4 410.8h0M113.6 428.0h0M115.4 414.3h0M113.6 392.9h0M115.0 381.7h0M115.8 413.7h0M114.7 397.2h0M116.0 396.9h0M113.2 420.9h0M114.6 419.7h0M114.6 352.6h0M114.9 413.7h0M114.9 399.1h0M116.0 424.8h0M115.4 404.0h0M115.4 432.9h0M114.7 387.4h0M115.9 411.2h0M114.8 424.6h0M115.2 391.4h0M115.6 390.9h0M115.7 404.0h0M116.0 407.2h0M115.4 387.2h0M114.6 406.7h0M115.2 395.9h0M135.3 409.1h0M136.9 397.3h0M136.7 405.9h0M136.9 360.0h0M136.2 414.1h0M137.0 421.7h0M137.5 396.8h0M137.1 419.7h0M136.8 404.7h0M136.4 398.2h0M138.9 370.8h0M136.2 359.4h0M136.0 363.5h0M135.7 398.3h0M137.9 383.0h0M137.4 373.9h0M137.3 400.7h0M135.8 399.2h0M137.6 384.2h0M137.7 418.3h0M138.3 375.9h0M137.1 377.9h0M137.2 345.4h0M136.9 387.6h0M136.9 354.0h0M135.9 352.8h0M137.4 426.8h0M156.4 340.0h0M157.1 388.6h0M158.4 405.8h0M158.1 403.5h0M158.2 364.7h0M157.7 351.3h0M157.6 400.6h0M160.5 368.3h0M158.0 362.0h0M157.1 337.3h0M159.2 402.2h0M157.9 356.7h0M159.0 340.5h0M159.8 383.2h0M159.4 380.3h0M159.2 368.7h0M157.6 365.6h0M157.5 380.7h0M159.7 345.9h0M159.3 378.8h0M178.3 307.1h0M183.3 356.6h0M179.6 365.3h0M182.2 397.3h0M180.4 379.6h0M181.5 392.6h0M181.2 320.5h0M178.2 380.5h0M179.2 387.1h0M179.5 403.5h0M181.7 349.5h0M178.8 340.6h0M181.0 383.1h0M179.6 396.0h0M180.2 343.4h0M181.6 347.9h0M177.9 388.5h0M179.2 402.4h0M178.3 341.5h0M203.7 313.7h0M201.5 301.1h0M200.2 343.6h0M201.6 342.8h0M203.0 309.2h0M201.8 368.6h0M201.2 294.7h0M200.8 331.1h0M200.9 370.6h0M202.9 267.1h0M203.3 299.7h0M201.6 264.4h0M200.3 338.1h0M202.8 343.3h0M222.7 337.6h0M223.7 272.4h0M222.4 294.0h0M224.7 369.2h0M225.7 320.8h0M222.1 348.7h0M224.1 316.5h0M223.1 360.2h0M223.1 326.6h0M224.1 264.3h0M222.0 268.5h0M225.5 270.7h0M245.2 314.0h0M243.7 326.2h0M245.8 281.7h0M244.0 293.0h0M247.6 279.4h0M245.3 339.7h0"/>
<path d="M352.5 142.6h0M311.4 203.4h0M312.5 255.5h0M332.5 224.5h0M221.4 201.5h0M223.4 253.0h0M246.2 254.1h0M269.0 235.5h0M289.3 210.6h0M269.0 278.5h0M269.5 331.4h0M178.4 268.5h0M178.4 253.6h0M94.7 422.1h0M93.3 406.8h0M93.4 433.8h0M93.3 433.7h0M93.9 428.4h0M93.4 433.8h0M93.1 412.7h0M94.4 404.8h0M93.6 406.5h0M94.4 431.6h0M93.2 433.1h0M93.1 432.2h0M93.3 432.7h0M92.4 424.5h0M93.5 415.5h0M93.1 431.0h0M94.4 414.6h0M92.9 430.4h0M93.4 433.7h0M94.4 424.2h0M93.1 433.8h0M93.6 430.1h0M93.6 432.8h0M93.0 430.8h0M93.2 359.3h0M93.7 426.5h0M92.2 429.6h0M93.2 424.8h0M93.9 431.1h0M93.4 428.4h0M93.2 433.6h0M92.8 431.3h0M94.2 429.4h0M93.2 421.5h0M93.9 421.6h0M94.4 429.1h0M93.4 432.3h0M93.1 433.3h0M93.9 433.2h0M93.3 433.8h0M93.5 406.8h0M93.1 428.0h0M94.3 430.5h0M93.6 431.5h0M94.1 418.6h0M93.0 433.4h0M93.6 427.8h0M93.4 432.7h0M92.7 432.7h0M93.6 430.2h0M92.7 426.7h0M93.1 409.0h0M93.3 432.1h0M93.9 413.0h0M93.1 419.5h0M93.3 424.5h0M93.2 432.6h0M93.4 422.1h0M93.4 433.1h0M93.9 432.6h0M94.3 433.2h0M93.0 433.1h0M93.4 433.5h0M93.5 433.8h0M93.2 413.1h0M93.6 426.4h0M93.4 433.8h0M93.8 430.3h0M93.5 427.6h0M93.8 415.2h0M92.7 413.9h0M93.0 433.1h0M92.7 397.1h0M92.6 431.3h0M93.1 432.9h0M93.4 433.8h0M93.4 432.5h0M94.6 427.2h0M93.8 431.3h0M94.1 427.7h0M93.1 432.0h0M94.1 431.1h0M93.3 421.7h0M93.3 433.8h0M94.0 429.8h0M93.7 433.1h0M94.2 381.0h0M93.1 406.2h0M93.2 428.8h0M92.7 426.4h0M93.7 419.2h0M93.1 432.8h0M93.6 432.7h0M94.1 422.5h0M92.8 432.6h0M93.3 426.3h0M94.0 431.5h0M94.6 378.3h0M94.6 419.0h0M94.3 427.4h0M93.4 431.6h0M93.2 432.6h0M93.2 428.6h0M93.2 410.2h0M92.7 403.8h0M94.1 429.1h0M93.5 433.1h0M94.2 404.7h0M92.6 410.1h0M93.6 425.2h0M93.5 430.2h0M93.2 407.7h0M93.3 433.4h0M93.4 415.6h0M93.3 433.5h0M93.3 433.7h0M93.5 432.2h0M94.4 427.7h0M93.0 425.3h0M93.2 431.1h0M93.8 430.8h0M94.6 426.0h0M93.2 383.6h0M93.3 433.8h0M93.4 427.6h0M93.3 411.3h0M92.8 415.3h0M93.1 433.8h0M92.4 428.7h0M92.7 396.9h0M93.4 433.8h0M92.8 433.7h0M92.9 429.8h0M93.4 425.2h0M93.6 428.8h0M93.7 423.9h0M93.4 431.0h0M93.1 432.6h0M94.1 424.9h0M93.8 425.5h0M93.3 386.7h0M93.8 421.6h0M93.6 432.4h0M93.4 433.0h0M114.9 418.2h0M114.7 406.5h0M115.9 399.7h0M115.6 425.2h0M115.2 426.0h0M114.5 419.7h0M115.3 359.0h0M114.7 430.7h0M114.8 420.8h0M114.9 416.6h0M114.7 394.3h0M115.4 390.9h0M114.0 427.4h0M116.4 417.6h0M114.5 380.6h0M114.3 377.2h0M114.8 421.2h0M114.2 421.3h0M115.0 411.4h0M115.1 397.6h0M114.3 403.1h0M115.7 420.4h0M114.3 401.8h0M113.4 415.4h0M115.1 432.0h0M115.3 426.5h0M114.1 402.7h0M114.9 422.6h0M115.5 374.9h0M114.9 420.4h0M115.3 400.4h0M114.7 417.0h0M116.0 418.3h0M114.3 413.9h0M113.9 401.3h0M115.2 415.8h0M114.7 420.6h0M114.0 417.3h0M115.1 405.9h0M114.6 364.6h0M115.3 427.1h0M115.5 420.5h0M115.0 376.9h0M114.9 387.8h0M114.6 418.6h0M114.7 428.9h0M114.4 420.5h0M116.4 382.7h0M116.8 416.1h0M114.5 388.0h0M115.7 379.1h0M115.3 429.6h0M115.8 416.3h0M114.9 416.7h0M116.1 388.0h0M113.9 393.1h0M113.5 395.8h0M114.9 428.9h0M114.3 396.1h0M140.1 402.5h0M136.9 419.1h0M136.8 368.5h0M135.6 425.7h0M137.0 344.4h0M137.1 403.0h0M137.5 407.5h0M137.1 396.6h0M136.1 419.5h0M136.7 408.8h0M137.1 390.4h0M135.7 335.1h0M135.9 431.8h0M136.2 396.9h0M136.9 339.3h0M137.9 415.5h0M136.8 374.5h0M137.5 420.4h0M136.0 401.2h0M137.3 412.2h0M136.8 416.4h0M137.2 384.0h0M135.7 359.1h0M136.6 388.4h0M138.8 387.8h0M136.7 400.6h0M135.7 397.4h0M137.4 398.3h0M135.9 382.2h0M137.5 405.1h0M157.7 402.5h0M158.7 352.2h0M158.1 375.8h0M158.0 375.3h0M156.4 337.3h0M158.1 417.1h0M157.1 398.0h0M158.9 350.8h0M156.7 377.0h0M156.9 362.4h0M157.1 402.0h0M160.2 382.8h0M157.2 377.4h0M157.3 374.7h0M156.7 393.0h0M158.1 397.8h0M158.2 371.0h0M159.6 372.3h0M158.3 348.6h0M158.1 375.0h0M159.8 353.5h0M158.5 363.7h0M157.8 371.2h0M180.5 386.6h0M177.7 355.3h0M178.9 323.1h0M179.7 364.8h0M180.3 327.1h0M181.6 318.9h0M179.8 396.5h0M180.6 399.8h0M178.4 338.1h0M181.0 306.5h0M180.2 417.9h0M177.6 327.3h0M178.6 399.9h0M181.7 332.6h0M179.4 345.3h0M178.6 326.6h0M179.9 379.6h0M180.2 361.6h0M201.3 309.2h0M202.2 318.2h0M201.9 369.7h0M201.9 359.4h0M199.8 330.0h0M204.1 379.2h0M200.6 356.6h0M201.0 300.7h0M204.6 310.6h0M201.3 363.9h0M222.7 271.7h0M222.2 343.2h0M224.1 332.2h0M220.3 346.3h0M222.9 290.3h0M226.4 317.9h0M223.1 282.3h0M223.6 288.6h0M219.6 305.5h0M223.3 303.3h0M222.4 356.9h0M223.4 308.8h0M223.1 315.0h0M245.3 324.2h0M246.9 319.2h0"/>
<path d="M416.3 55.5h0M332.5 139.6h0M396.3 159.6h0M308.4 241.5h0M332.5 188.4h0M350.3 187.5h0M307.6 315.2h0M311.4 341.5h0M204.3 246.4h0M224.5 239.5h0M265.4 177.5h0M268.4 209.5h0M265.4 233.4h0M264.7 256.4h0M286.4 205.4h0M286.4 235.5h0M286.4 251.4h0M267.0 326.4h0M267.4 344.4h0M245.8 363.2h0M114.3 298.3h0M114.5 336.4h0M114.5 339.4h0M137.4 321.4h0M180.3 278.2h0M93.1 415.4h0M93.0 428.9h0M94.4 424.4h0M93.3 386.8h0M94.1 407.1h0M93.1 399.6h0M93.0 422.1h0M93.0 423.0h0M93.2 428.2h0M93.9 429.2h0M92.9 418.4h0M93.3 430.9h0M93.5 427.5h0M93.2 415.2h0M93.6 432.2h0M93.1 432.0h0M94.7 419.1h0M93.7 429.2h0M93.6 433.1h0M94.1 404.3h0M93.6 423.5h0M93.9 433.1h0M93.9 428.8h0M92.9 431.1h0M93.2 429.4h0M94.0 431.0h0M93.5 433.6h0M92.7 433.1h0M93.5 424.3h0M93.3 431.1h0M93.3 433.1h0M93.3 422.5h0M93.5 433.1h0M92.6 424.7h0M93.3 396.5h0M94.1 399.0h0M93.4 432.5h0M94.0 431.3h0M93.4 433.7h0M94.2 432.1h0M93.1 426.9h0M93.3 432.8h0M92.6 433.0h0M92.8 429.0h0M93.3 432.9h0M93.8 419.1h0M93.5 425.0h0M92.9 428.1h0M93.5 433.6h0M94.6 428.6h0M93.8 432.1h0M94.3 423.9h0M93.0 424.1h0M93.2 433.5h0M93.2 432.6h0M93.1 427.7h0M93.1 433.5h0M92.1 428.7h0M93.5 433.8h0M93.1 432.2h0M92.7 431.0h0M93.0 401.2h0M93.2 431.4h0M93.6 427.9h0M93.4 429.2h0M93.5 431.7h0M93.6 374.3h0M93.7 420.6h0M92.8 413.3h0M93.2 433.0h0M93.1 433.5h0M93.3 430.0h0M93.4 410.7h0M93.8 410.3h0M93.3 433.1h0M92.8 428.9h0M93.7 374.9h0M93.2 432.6h0M93.7 433.5h0M94.1 429.0h0M94.0 429.5h0M94.1 401.3h0M92.7 428.4h0M93.1 433.4h0M93.2 433.5h0M93.1 371.2h0M92.3 426.9h0M94.5 426.1h0M93.2 414.4h0M93.5 402.2h0M92.9 404.3h0M93.0 419.4h0M94.3 406.5h0M93.0 428.7h0M92.6 422.7h0M93.7 431.6h0M93.5 433.7h0M93.2 433.6h0M93.5 429.1h0M92.1 432.4h0M92.5 431.0h0M93.2 428.5h0M93.0 432.2h0M93.3 393.1h0M94.1 408.6h0M94.0 420.8h0M93.0 414.8h0M93.4 433.8h0M93.7 433.8h0M93.1 432.9h0M94.4 406.2h0M92.9 419.1h0M93.3 428.3h0M92.4 431.2h0M94.0 432.9h0M92.7 427.0h0M93.1 433.7h0M93.3 432.3h0M93.5 431.7h0M93.3 432.2h0M93.7 433.0h0M93.8 431.8h0M92.5 431.1h0M93.4 426.1h0M93.9 426.6h0M115.5 362.2h0M115.3 398.3h0M114.8 372.8h0M113.4 422.0h0M114.8 417.3h0M114.8 373.1h0M115.5 413.1h0M115.1 384.9h0M114.8 417.4h0M115.7 418.3h0M113.4 432.4h0M116.6 410.2h0M115.3 389.0h0M114.5 414.7h0M114.3 388.7h0M115.9 421.6h0M114.3 403.7h0M115.6 407.8h0M115.4 406.9h0M114.5 423.1h0M114.4 384.2h0M114.9 407.3h0M115.5 419.7h0M114.8 374.3h0M115.6 426.2h0M114.3 407.2h0M114.5 366.8h0M116.5 421.5h0M115.3 404.1h0M115.2 399.5h0M115.8 426.2h0M114.2 426.3h0M114.2 393.3h0M116.1 399.4h0M115.2 408.6h0M114.9 400.9h0M115.7 417.4h0M114.5 354.8h0M115.1 429.3h0M115.2 413.4h0M115.3 388.7h0M115.3 406.0h0M115.7 417.1h0M115.1 426.3h0M115.6 429.0h0M114.5 425.7h0M115.0 393.9h0M114.6 423.1h0M116.0 363.7h0M115.7 416.4h0M114.6 420.1h0M114.8 394.7h0M116.0 396.0h0M115.3 400.9h0M115.3 403.8h0M114.0 424.9h0M116.5 423.4h0M115.1 395.9h0M114.3 415.0h0M115.1 426.9h0M137.9 393.7h0M136.7 350.4h0M135.2 400.4h0M136.2 416.0h0M137.6 412.1h0M137.7 417.3h0M137.8 371.3h0M136.6 403.9h0M137.9 401.0h0M137.1 403.1h0M135.7 418.9h0M137.2 392.1h0M135.6 420.4h0M137.3 421.4h0M137.2 370.9h0M135.8 363.4h0M136.3 389.9h0M135.6 374.1h0M136.7 390.8h0M135.9 412.7h0M136.7 396.9h0M138.1 393.4h0M136.5 406.1h0M136.5 392.1h0M134.6 370.7h0M137.4 401.3h0M136.1 402.9h0M137.8 377.3h0M135.7 420.8h0M137.0 389.2h0M138.0 402.2h0M138.1 404.0h0M136.0 376.6h0M138.0 421.4h0M136.7 420.2h0M136.1 379.3h0M137.6 407.7h0M137.0 371.9h0M136.7 428.4h0M136.3 384.6h0M135.9 413.8h0M137.0 343.8h0M136.6 399.0h0M137.1 336.2h0M157.8 358.3h0M155.5 372.7h0M157.5 329.4h0M159.6 386.9h0M158.3 392.8h0M157.9 358.5h0M157.2 404.0h0M159.2 416.9h0M157.8 411.2h0M156.9 412.9h0M157.5 408.3h0M158.8 366.5h0M158.1 393.2h0M158.8 371.6h0M158.8 384.4h0M158.8 358.5h0M158.6 370.3h0M159.6 422.7h0M159.1 372.5h0M155.6 382.7h0M160.0 375.3h0M158.7 400.8h0M157.7 385.6h0M156.2 378.2h0M157.9 423.3h0M160.1 365.8h0M158.8 349.9h0M181.0 367.3h0M179.7 370.8h0M181.8 363.3h0M180.1 369.7h0M180.2 416.5h0M180.2 353.1h0M181.1 375.1h0M182.2 367.5h0M179.1 366.7h0M181.7 351.2h0M178.6 388.5h0M178.9 340.0h0M179.8 345.0h0M181.0 346.6h0M183.7 343.0h0M180.6 362.3h0M200.9 303.0h0M201.6 322.6h0M200.2 269.3h0M202.6 330.7h0M202.3 334.3h0M202.9 330.6h0M201.9 328.1h0M201.2 327.3h0M199.8 368.4h0M199.9 362.7h0M202.0 325.7h0M202.7 385.1h0M199.4 362.0h0M224.1 323.4h0M222.7 322.8h0M224.1 331.0h0M220.1 353.1h0M224.0 350.7h0M221.6 318.5h0M223.4 345.4h0M224.4 339.5h0M221.2 301.2h0M223.5 314.0h0M245.9 320.7h0M246.4 267.3h0M246.6 266.3h0M244.5 288.8h0M243.6 310.0h0"/>
<path d="M396.3 132.4h0M374.4 175.2h0M307.6 209.5h0M311.4 244.5h0M310.6 256.6h0M330.6 188.4h0M334.4 246.4h0M332.5 276.6h0M353.3 205.3h0M353.3 256.6h0M375.5 207.5h0M397.4 235.5h0M308.4 317.4h0M222.5 235.5h0M223.7 260.1h0M242.4 236.4h0M290.3 199.4h0M289.3 234.5h0M288.4 247.8h0M289.3 254.4h0M265.8 275.5h0M264.7 338.0h0M265.4 367.4h0M115.3 344.4h0M180.3 262.5h0M178.4 286.5h0M93.7 431.9h0M92.8 423.7h0M94.7 426.6h0M93.4 433.1h0M93.3 429.5h0M93.8 422.8h0M93.6 433.1h0M93.8 427.8h0M93.2 408.2h0M93.8 433.8h0M93.0 433.0h0M93.0 432.9h0M93.0 431.1h0M93.5 433.7h0M93.3 428.2h0M93.6 402.6h0M93.4 432.9h0M94.3 430.1h0M93.1 433.0h0M93.1 431.2h0M93.5 433.8h0M93.3 433.8h0M93.3 433.7h0M93.9 432.6h0M93.1 433.3h0M91.3 413.3h0M93.6 433.4h0M93.4 420.2h0M93.2 433.2h0M93.8 420.9h0M93.2 425.3h0M94.2 430.2h0M93.2 433.7h0M93.5 429.1h0M93.5 427.8h0M93.3 427.2h0M92.4 427.7h0M94.2 414.5h0M93.4 433.4h0M94.0 428.3h0M94.0 422.7h0M93.1 432.4h0M93.7 432.6h0M93.3 433.8h0M93.1 433.7h0M93.1 433.8h0M93.2 431.0h0M94.1 429.3h0M93.3 430.4h0M93.2 412.0h0M92.5 416.7h0M93.5 433.7h0M94.3 360.5h0M92.2 431.1h0M92.9 431.7h0M93.8 433.4h0M92.8 432.9h0M93.2 433.8h0M94.2 426.2h0M93.6 433.1h0M93.4 403.8h0M93.9 425.9h0M94.4 425.1h0M93.1 429.4h0M93.4 427.2h0M93.4 430.2h0M92.8 429.1h0M93.3 415.9h0M92.7 420.7h0M93.0 433.6h0M93.5 403.5h0M93.3 433.8h0M94.0 430.4h0M93.9 425.5h0M93.4 433.5h0M93.2 415.1h0M92.9 419.3h0M93.8 418.8h0M93.4 430.8h0M94.0 426.8h0M94.2 423.6h0M93.2 433.3h0M94.2 421.5h0M93.3 430.6h0M92.6 403.1h0M93.7 433.6h0M94.0 432.7h0M92.9 433.4h0M93.5 430.8h0M94.1 431.1h0M92.7 432.8h0M94.7 426.9h0M93.7 422.2h0M93.4 433.7h0M93.3 433.8h0M92.4 425.0h0M93.8 428.7h0M93.1 418.8h0M93.9 421.1h0M92.5 422.2h0M92.5 428.4h0M93.5 433.2h0M93.2 433.2h0M93.9 420.2h0M93.6 433.5h0M93.6 428.2h0M93.6 424.5h0M93.5 433.8h0M93.6 430.6h0M94.1 415.0h0M93.2 433.4h0M114.6 409.4h0M114.8 428.6h0M115.0 394.9h0M114.7 401.6h0M116.2 403.6h0M115.2 427.9h0M114.9 429.3h0M115.2 421.6h0M115.3 428.6h0M114.3 412.6h0M114.6 420.4h0M115.7 367.1h0M115.7 430.9h0M114.8 360.2h0M113.7 372.2h0M114.9 422.7h0M115.1 424.5h0M114.7 409.5h0M115.2 353.0h0M114.6 426.1h0M115.7 402.5h0M114.7 408.9h0M116.1 384.1h0M114.7 431.8h0M114.2 423.8h0M115.4 371.8h0M115.1 421.6h0M114.7 405.5h0M113.5 408.0h0M113.9 405.9h0M115.2 393.0h0M115.5 429.8h0M115.4 406.3h0M116.3 425.3h0M114.7 423.5h0M114.5 397.3h0M115.7 413.0h0M116.2 368.6h0M114.6 414.9h0M114.2 422.6h0M115.0 405.8h0M115.0 419.2h0M114.4 420.8h0M114.6 415.2h0M115.2 422.4h0M113.6 415.7h0M115.5 417.0h0M116.4 379.3h0M114.3 389.0h0M115.9 404.5h0M114.8 418.5h0M113.9 398.9h0M113.7 387.8h0M115.8 417.8h0M114.8 428.0h0M136.1 386.8h0M136.4 357.7h0M137.7 417.1h0M135.2 398.5h0M135.7 408.2h0M137.6 383.2h0M136.9 360.5h0M137.4 350.9h0M134.6 407.2h0M135.0 405.5h0M136.2 385.9h0M136.0 393.5h0M135.7 402.9h0M137.4 390.6h0M137.8 363.6h0M135.1 409.8h0M136.1 371.7h0M137.8 406.6h0M138.2 411.2h0M137.1 323.6h0M136.1 359.8h0M135.8 402.8h0M135.3 362.8h0M136.5 358.4h0M135.6 405.7h0M135.9 357.8h0M138.3 382.5h0M136.8 432.1h0M136.4 341.2h0M134.8 386.4h0M137.0 410.3h0M136.9 425.5h0M135.9 416.3h0M158.0 376.1h0M160.1 398.3h0M160.5 416.5h0M157.5 357.7h0M159.4 421.0h0M155.6 384.5h0M157.9 390.5h0M158.6 403.7h0M159.3 343.8h0M158.4 393.4h0M159.7 381.4h0M157.6 397.2h0M159.4 396.4h0M159.1 401.3h0M158.5 378.7h0M155.9 402.8h0M159.4 400.4h0M159.7 425.1h0M155.4 390.4h0M156.7 381.4h0M157.9 396.9h0M158.2 393.2h0M181.3 350.1h0M176.7 380.0h0M180.3 379.0h0M180.0 371.3h0M180.7 371.4h0M178.0 361.2h0M182.5 393.6h0M180.2 323.5h0M185.0 358.4h0M178.8 345.3h0M180.8 380.6h0M180.1 391.3h0M182.2 362.4h0M180.7 413.0h0M177.0 323.1h0M181.1 370.8h0M198.5 279.1h0M200.3 334.1h0M199.6 355.3h0M202.3 325.4h0M199.8 273.1h0M203.0 307.1h0M201.2 332.9h0M202.7 332.0h0M200.5 324.4h0M201.3 372.6h0M203.4 332.1h0M200.1 315.0h0M199.9 342.9h0M201.2 311.7h0M220.9 360.6h0M221.3 330.9h0M222.1 290.6h0M220.0 341.3h0M225.0 362.6h0M224.0 299.9h0M227.1 269.7h0M222.3 301.6h0M220.7 339.6h0M223.3 288.4h0M224.6 316.3h0M225.3 341.2h0M222.9 360.0h0M223.4 311.7h0M222.1 307.9h0M224.8 286.3h0M242.9 319.3h0M244.6 329.2h0M242.8 326.3h0"/>
<path d="M354.4 173.5h0M310.6 223.4h0M312.5 257.7h0M309.5 293.6h0M332.5 194.4h0M331.7 240.4h0M353.3 187.5h0M352.5 210.5h0M375.5 226.4h0M394.4 241.5h0M416.3 241.5h0M247.4 230.5h0M245.8 242.7h0M265.4 203.5h0M265.4 216.5h0M266.5 252.5h0M267.7 272.5h0M203.4 405.5h0M94.3 324.5h0M179.3 280.5h0M93.4 347.2h0M93.4 433.7h0M93.6 433.1h0M93.6 433.1h0M92.8 424.0h0M93.4 428.6h0M93.2 427.2h0M92.8 430.6h0M93.3 433.3h0M93.9 426.6h0M93.1 430.2h0M92.7 415.5h0M93.4 433.8h0M92.8 426.9h0M93.0 433.8h0M93.8 433.1h0M93.5 433.7h0M93.4 433.3h0M93.3 433.1h0M93.2 433.6h0M93.7 392.6h0M93.5 432.1h0M92.8 429.6h0M93.7 433.8h0M93.3 432.6h0M92.1 408.5h0M93.2 378.5h0M93.2 423.4h0M93.8 425.8h0M93.3 433.5h0M93.4 433.5h0M93.4 416.5h0M92.5 419.8h0M92.5 422.3h0M93.3 426.8h0M93.5 420.8h0M93.1 423.9h0M94.6 384.7h0M93.4 433.1h0M93.1 421.8h0M93.4 433.8h0M94.1 431.8h0M91.6 431.9h0M93.0 410.2h0M93.2 429.6h0M92.4 424.1h0M92.8 411.4h0M93.0 423.6h0M93.6 433.0h0M94.0 422.6h0M92.9 429.7h0M93.3 433.8h0M93.1 431.3h0M92.6 425.4h0M93.8 433.0h0M93.3 423.1h0M94.6 409.7h0M93.8 425.0h0M93.8 432.9h0M93.6 433.8h0M93.3 432.8h0M94.6 429.0h0M92.4 426.8h0M93.2 429.7h0M92.6 430.4h0M93.1 433.6h0M94.6 428.7h0M94.3 424.8h0M93.2 433.8h0M93.0 430.6h0M93.7 432.7h0M93.6 433.3h0M93.1 432.3h0M94.0 429.5h0M93.0 413.9h0M93.2 431.2h0M94.0 427.1h0M93.4 427.4h0M93.2 433.3h0M93.5 431.3h0M93.7 433.7h0M93.7 433.7h0M93.3 381.3h0M94.1 431.4h0M92.2 402.2h0M93.5 431.4h0M93.7 432.1h0M94.0 431.8h0M92.5 420.6h0M93.6 413.1h0M93.5 424.7h0M93.5 411.3h0M92.5 430.4h0M93.6 422.8h0M93.5 429.8h0M93.1 433.3h0M92.8 387.1h0M92.8 430.5h0M93.0 432.1h0M92.8 411.8h0M93.7 433.7h0M93.3 429.3h0M93.0 433.7h0M93.9 417.4h0M92.9 412.2h0M93.0 418.2h0M92.9 423.9h0M93.3 432.9h0M93.7 395.3h0M93.0 433.8h0M93.3 429.1h0M93.4 433.2h0M93.7 431.9h0M93.5 430.5h0M93.7 433.5h0M93.5 432.7h0M93.4 427.9h0M93.8 432.5h0M94.2 429.4h0M92.9 417.2h0M93.5 406.1h0M93.3 424.8h0M92.8 430.7h0M93.2 413.5h0M93.0 390.3h0M92.9 428.3h0M93.5 433.8h0M93.1 413.4h0M92.7 427.3h0M93.6 426.5h0M92.8 428.1h0M94.5 427.4h0M93.1 430.9h0M93.4 370.6h0M94.1 422.4h0M93.5 431.2h0M92.8 433.6h0M93.4 421.6h0M92.9 431.0h0M115.0 348.8h0M115.3 416.0h0M116.1 352.6h0M115.0 418.8h0M115.8 369.0h0M115.2 430.0h0M115.4 417.3h0M115.3 417.2h0M114.4 431.1h0M115.2 364.1h0M114.4 405.3h0M114.1 417.3h0M115.4 420.8h0M115.5 391.6h0M115.5 357.9h0M114.9 422.1h0M114.7 377.6h0M113.0 426.0h0M115.3 418.7h0M114.3 426.5h0M115.8 406.4h0M114.4 410.2h0M115.4 426.0h0M116.0 417.1h0M115.1 402.4h0M115.3 416.5h0M114.0 416.6h0M114.4 399.3h0M114.7 433.0h0M114.6 420.4h0M113.7 423.6h0M115.4 362.5h0M114.6 413.9h0M114.8 349.1h0M115.8 425.0h0M114.7 380.0h0M114.9 408.1h0M114.0 428.4h0M115.5 403.3h0M115.5 420.4h0M116.3 398.6h0M113.5 408.2h0M114.2 397.0h0M115.9 391.7h0M114.0 414.3h0M114.4 426.4h0M115.2 413.6h0M115.1 421.0h0M116.0 403.2h0M115.2 403.2h0M115.5 425.6h0M114.4 383.2h0M116.4 390.7h0M114.5 409.5h0M115.3 428.6h0M114.2 419.9h0M114.8 429.4h0M115.1 414.2h0M114.3 417.7h0M115.6 403.3h0M115.5 389.8h0M137.5 347.6h0M136.7 407.4h0M137.4 387.0h0M136.0 364.5h0M136.6 422.3h0M136.4 385.5h0M137.2 415.5h0M136.8 379.4h0M137.2 405.2h0M137.7 325.7h0M136.2 427.0h0M135.5 375.7h0M134.5 408.5h0M137.0 353.9h0M135.7 395.5h0M136.9 386.1h0M137.8 330.1h0M135.3 425.4h0M138.1 387.3h0M137.2 431.5h0M136.2 399.5h0M137.8 404.8h0M137.8 337.8h0M135.6 346.5h0M135.2 381.3h0M136.2 426.7h0M136.9 424.3h0M136.5 407.5h0M137.0 381.4h0M136.4 379.8h0M138.0 400.1h0M135.2 404.4h0M135.4 374.0h0M135.7 351.2h0M136.4 365.9h0M137.4 426.8h0M135.5 418.5h0M137.7 394.3h0M137.0 407.6h0M136.8 404.9h0M136.0 411.4h0M136.0 401.8h0M135.0 424.3h0M136.8 421.6h0M158.1 353.7h0M156.3 393.8h0M158.0 373.5h0M158.3 383.2h0M158.6 403.4h0M158.0 396.2h0M159.3 427.4h0M158.0 374.8h0M158.0 368.8h0M158.9 356.8h0M158.2 388.0h0M157.5 360.8h0M159.2 405.7h0M159.1 347.9h0M160.1 373.2h0M157.8 347.8h0M158.7 422.1h0M158.9 383.5h0M159.5 392.9h0M156.9 414.0h0M158.2 346.2h0M158.1 401.3h0M158.0 390.3h0M156.9 409.5h0M159.1 392.4h0M179.0 319.6h0M180.4 361.2h0M180.6 338.1h0M180.3 363.8h0M179.0 307.0h0M177.7 370.7h0M180.9 373.6h0M182.6 381.1h0M181.7 340.5h0M180.4 407.0h0M181.6 335.4h0M179.5 306.8h0M178.5 402.9h0M180.4 339.7h0M178.6 375.7h0M181.3 357.5h0M182.3 410.2h0M203.2 303.6h0M202.3 389.5h0M202.0 372.8h0M201.4 347.8h0M202.0 343.3h0M200.6 362.5h0M202.3 389.9h0M200.8 341.9h0M202.5 366.4h0M201.3 270.5h0M201.4 307.3h0M200.2 325.1h0M223.9 296.1h0M224.9 341.3h0M222.2 289.3h0M223.8 331.9h0M221.3 279.1h0M225.0 347.1h0M223.8 311.7h0M226.5 327.8h0M242.4 326.4h0M243.8 297.5h0M243.9 311.3h0M245.8 328.8h0M245.1 321.5h0M245.1 315.4h0"/>
<path d="M309.5 243.4h0M309.5 251.6h0M333.6 184.2h0M331.7 256.6h0M331.7 260.4h0M353.3 215.5h0M352.5 223.4h0M352.5 246.4h0M377.4 226.4h0M396.3 225.3h0M181.5 244.4h0M199.5 244.4h0M203.1 245.7h0M201.5 260.1h0M222.5 255.5h0M245.5 183.5h0M264.3 206.5h0M285.4 190.5h0M288.4 275.5h0M288.4 299.5h0M288.4 310.6h0M262.7 281.5h0M265.4 316.4h0M266.5 350.5h0M244.4 354.4h0M200.2 392.5h0M115.3 328.5h0M179.3 274.4h0M93.9 429.4h0M92.8 432.8h0M93.8 415.9h0M92.9 432.1h0M93.6 433.0h0M93.6 433.5h0M93.2 433.8h0M93.4 433.4h0M93.3 427.1h0M93.9 423.3h0M92.7 416.4h0M93.6 431.4h0M93.5 384.7h0M94.3 432.6h0M93.3 424.8h0M93.5 432.9h0M94.1 414.8h0M93.3 432.8h0M93.1 431.3h0M92.7 431.9h0M92.9 386.5h0M93.1 419.4h0M93.3 430.4h0M93.2 414.3h0M94.1 430.7h0M93.6 433.8h0M93.4 430.5h0M93.4 426.0h0M92.7 429.2h0M92.6 432.4h0M94.1 427.9h0M93.5 429.5h0M92.8 426.2h0M93.4 418.5h0M92.7 431.1h0M92.6 432.7h0M94.1 431.0h0M94.0 428.8h0M93.4 431.1h0M93.5 412.5h0M94.4 419.5h0M93.8 427.3h0M92.8 422.9h0M93.0 422.1h0M93.5 425.1h0M93.1 405.2h0M93.7 417.4h0M92.8 410.1h0M93.1 433.5h0M93.5 433.8h0M93.6 430.9h0M93.3 433.8h0M92.7 419.5h0M93.7 415.3h0M93.4 433.4h0M92.7 432.3h0M93.0 419.2h0M93.4 430.7h0M93.0 421.1h0M93.1 433.7h0M93.6 425.9h0M93.7 429.0h0M94.6 429.6h0M94.0 404.0h0M93.4 433.7h0M92.9 431.3h0M93.1 388.6h0M94.2 426.8h0M93.3 432.1h0M94.0 402.2h0M93.1 418.0h0M93.1 433.2h0M93.9 432.4h0M94.2 426.4h0M92.7 432.1h0M93.2 432.4h0M93.3 433.8h0M92.6 410.9h0M93.3 406.4h0M93.2 432.9h0M92.3 427.6h0M93.1 432.6h0M93.6 417.6h0M93.6 425.6h0M94.2 430.0h0M94.1 412.4h0M94.2 417.0h0M93.5 433.4h0M93.5 420.8h0M92.9 431.9h0M92.4 428.7h0M93.1 432.9h0M93.4 433.7h0M92.8 394.4h0M93.6 432.9h0M91.7 430.0h0M94.6 430.8h0M92.1 425.3h0M93.6 429.0h0M93.4 433.8h0M93.5 433.7h0M93.2 431.8h0M93.6 427.7h0M93.7 432.4h0M93.6 352.9h0M92.9 430.7h0M94.0 430.6h0M93.6 428.6h0M92.9 432.0h0M93.5 433.5h0M92.9 432.3h0M92.9 424.6h0M92.5 423.3h0M93.5 423.8h0M93.3 433.6h0M93.5 433.8h0M92.9 432.0h0M93.0 433.6h0M93.4 431.2h0M93.5 433.0h0M93.5 431.9h0M92.3 409.1h0M93.8 433.0h0M93.5 424.6h0M92.7 429.9h0M92.8 430.4h0M93.6 428.3h0M92.7 421.8h0M93.2 433.8h0M94.4 430.6h0M93.4 433.2h0M93.7 433.8h0M93.3 431.4h0M93.2 433.6h0M93.9 433.2h0M93.5 427.2h0M92.8 432.6h0M93.2 431.6h0M93.3 401.8h0M93.7 432.7h0M92.8 433.1h0M94.1 431.3h0M93.4 433.6h0M93.3 432.6h0M116.2 395.8h0M113.6 377.1h0M114.6 371.0h0M113.8 430.4h0M116.1 406.5h0M115.2 425.2h0M115.7 395.5h0M113.6 403.6h0M114.8 397.7h0M114.5 419.7h0M116.1 390.8h0M115.3 426.0h0M114.4 408.9h0M116.7 414.7h0M114.8 432.3h0M114.2 431.7h0M115.2 424.4h0M115.7 425.9h0M114.9 429.4h0M115.5 421.9h0M114.1 421.5h0M116.0 409.8h0M115.1 417.4h0M114.1 428.2h0M113.4 369.1h0M114.2 397.8h0M113.9 420.1h0M114.3 406.5h0M115.2 429.7h0M115.4 428.8h0M115.6 421.8h0M114.3 421.1h0M115.0 409.4h0M114.5 386.3h0M113.6 427.5h0M114.3 408.6h0M115.6 430.0h0M115.2 417.7h0M115.2 423.5h0M115.8 395.0h0M115.5 421.6h0M115.2 417.5h0M114.6 426.1h0M113.8 412.9h0M115.8 358.2h0M136.2 411.0h0M136.5 420.8h0M136.2 395.2h0M138.2 418.6h0M136.9 409.4h0M135.8 394.9h0M136.6 389.6h0M138.6 419.3h0M136.8 409.9h0M136.2 370.6h0M135.4 372.7h0M136.5 416.4h0M137.9 405.1h0M135.5 379.3h0M137.3 365.1h0M138.0 383.1h0M136.3 364.3h0M138.8 341.6h0M137.8 390.8h0M135.2 410.5h0M137.3 415.9h0M137.1 385.5h0M136.8 416.7h0M138.8 413.6h0M135.7 355.2h0M136.6 392.0h0M136.5 404.7h0M136.1 392.7h0M137.6 425.5h0M137.9 398.0h0M137.0 354.1h0M138.0 415.5h0M136.5 396.6h0M137.5 423.8h0M136.8 388.6h0M136.2 376.9h0M136.6 347.8h0M136.3 385.6h0M135.9 394.1h0M137.0 400.1h0M135.7 400.2h0M136.3 384.9h0M136.9 404.2h0M134.9 341.6h0M136.7 408.0h0M135.6 373.4h0M157.8 334.5h0M157.0 364.3h0M158.4 400.0h0M158.6 380.9h0M157.5 398.4h0M158.2 373.3h0M157.1 398.5h0M158.0 325.0h0M158.6 355.0h0M158.5 390.3h0M156.4 423.0h0M158.2 391.5h0M158.1 363.9h0M158.9 341.3h0M157.5 409.6h0M157.9 412.3h0M158.0 357.0h0M157.7 396.3h0M156.6 389.4h0M157.2 401.2h0M159.5 384.0h0M159.5 354.3h0M157.8 340.8h0M157.5 399.3h0M159.8 347.0h0M159.2 382.0h0M157.3 366.6h0M156.1 390.8h0M178.9 301.8h0M181.4 363.2h0M181.7 401.3h0M181.5 351.8h0M178.2 336.6h0M179.7 359.8h0M181.5 366.5h0M179.3 380.7h0M179.4 394.0h0M182.6 364.3h0M178.3 411.4h0M180.4 390.4h0M179.2 337.9h0M178.8 369.8h0M180.7 312.5h0M178.9 326.7h0M178.5 334.9h0M178.5 367.7h0M181.2 322.5h0M181.0 304.1h0M200.3 282.7h0M202.0 353.8h0M201.9 387.1h0M202.7 309.4h0M200.8 340.9h0M199.7 301.1h0M201.1 342.8h0M203.5 303.5h0M223.1 292.4h0M222.9 374.7h0M220.7 339.1h0M224.4 317.0h0M225.3 319.3h0M224.3 291.8h0M222.5 296.2h0M226.5 363.3h0M219.8 301.9h0M227.2 371.4h0M225.9 322.1h0M245.8 271.7h0M244.6 335.4h0M245.2 333.2h0M242.5 316.7h0M243.5 302.7h0M242.7 301.3h0M246.4 319.4h0"/>
<path d="M440.5 64.5h0M311.4 183.2h0M311.4 227.5h0M308.4 282.3h0M332.5 264.5h0M354.4 247.5h0M352.5 252.5h0M374.4 203.4h0M396.3 180.4h0M396.3 232.5h0M244.4 199.6h0M245.5 241.4h0M286.4 204.5h0M266.5 267.5h0M263.5 275.5h0M265.8 298.6h0M264.7 311.6h0M264.3 360.5h0M135.5 281.5h0M137.4 305.6h0M93.6 426.7h0M92.8 431.5h0M93.3 409.0h0M93.5 429.3h0M92.9 416.9h0M93.2 433.3h0M94.0 432.6h0M92.7 431.1h0M93.0 402.9h0M93.3 433.8h0M93.0 427.1h0M92.7 424.8h0M93.3 432.3h0M93.3 433.1h0M93.6 433.8h0M93.0 433.1h0M93.2 426.8h0M92.8 433.6h0M93.5 433.6h0M93.6 427.6h0M93.6 428.6h0M93.5 433.7h0M94.3 429.2h0M92.7 398.5h0M92.9 433.1h0M92.3 431.7h0M93.3 433.7h0M92.9 429.9h0M93.1 406.8h0M94.6 429.3h0M93.2 416.4h0M92.6 429.0h0M92.6 388.3h0M94.9 431.2h0M93.6 431.5h0M92.7 420.3h0M94.2 379.2h0M93.3 433.8h0M93.6 422.5h0M91.9 423.4h0M94.1 424.7h0M92.9 410.1h0M93.2 406.2h0M93.3 427.0h0M93.0 421.0h0M93.1 416.5h0M93.3 433.6h0M93.4 433.0h0M93.5 427.2h0M93.9 432.5h0M92.3 423.1h0M93.2 408.8h0M93.7 394.3h0M93.5 432.3h0M93.6 427.4h0M93.9 433.2h0M94.6 427.9h0M93.9 433.0h0M93.6 433.8h0M94.0 428.6h0M93.5 433.3h0M93.2 432.0h0M93.5 431.6h0M93.3 412.9h0M93.1 430.0h0M93.2 433.8h0M93.2 427.0h0M93.4 430.5h0M92.5 419.7h0M94.1 424.9h0M93.6 418.0h0M93.4 433.2h0M93.7 418.1h0M93.4 433.8h0M92.9 432.4h0M93.4 418.9h0M93.6 409.3h0M93.7 433.3h0M93.5 391.2h0M93.2 433.4h0M92.9 433.1h0M93.2 415.2h0M93.5 433.7h0M93.5 433.3h0M93.2 402.1h0M93.4 406.0h0M93.5 430.5h0M92.4 431.8h0M92.8 381.6h0M92.5 425.8h0M93.4 393.4h0M93.5 431.5h0M93.5 431.8h0M93.5 430.9h0M93.2 428.8h0M93.9 373.7h0M93.4 430.2h0M93.5 429.3h0M93.3 430.1h0M93.6 430.6h0M93.2 428.8h0M93.5 433.7h0M93.3 432.1h0M92.9 427.4h0M94.1 419.0h0M92.7 430.8h0M93.5 430.1h0M93.4 433.8h0M94.0 403.6h0M93.4 431.1h0M93.4 433.3h0M93.5 424.8h0M92.5 427.7h0M94.1 423.2h0M93.3 422.3h0M92.3 425.2h0M93.1 403.6h0M93.1 409.3h0M92.8 419.7h0M92.7 427.3h0M92.9 429.1h0M93.6 432.6h0M92.2 427.8h0M92.6 419.2h0M94.0 432.8h0M93.7 422.8h0M92.6 433.4h0M93.6 433.2h0M93.5 413.9h0M93.3 433.8h0M93.4 432.7h0M93.7 425.1h0M92.9 432.9h0M93.5 419.3h0M93.1 416.0h0M92.6 432.3h0M92.2 428.1h0M93.4 433.7h0M93.9 416.4h0M93.3 432.7h0M93.3 433.6h0M93.3 433.6h0M94.1 379.8h0M93.5 433.0h0M93.2 431.7h0M93.8 428.7h0M92.8 409.2h0M93.7 433.4h0M93.3 425.9h0M93.7 433.8h0M92.8 430.8h0M93.2 423.6h0M113.5 410.1h0M114.8 392.6h0M115.1 405.9h0M115.6 414.0h0M114.5 403.0h0M114.9 409.8h0M114.5 392.5h0M114.9 410.8h0M114.5 427.2h0M114.7 423.2h0M115.1 417.8h0M115.2 418.9h0M115.2 421.4h0M115.3 431.2h0M115.3 426.4h0M114.1 424.9h0M115.7 431.5h0M113.6 429.3h0M114.1 420.8h0M114.1 420.5h0M116.1 430.6h0M114.3 430.0h0M113.8 423.9h0M116.4 428.8h0M115.5 416.8h0M114.2 405.9h0M115.1 406.8h0M115.0 409.4h0M115.5 351.0h0M115.2 427.5h0M114.5 406.1h0M115.4 428.1h0M115.0 426.5h0M117.0 392.9h0M114.8 420.9h0M115.1 407.7h0M115.8 390.4h0M116.1 408.8h0M114.1 392.5h0M115.0 427.4h0M114.8 406.3h0M116.5 388.6h0M114.8 423.3h0M114.0 415.5h0M114.8 430.9h0M115.6 429.2h0M115.5 392.5h0M113.8 423.6h0M114.2 404.4h0M114.7 397.4h0M114.5 400.9h0M115.2 378.1h0M115.6 407.1h0M115.3 354.9h0M115.2 408.5h0M114.9 394.4h0M115.4 423.3h0M114.9 353.6h0M115.0 413.1h0M115.6 362.1h0M114.5 386.7h0M114.1 426.8h0M115.0 413.7h0M116.1 359.0h0M115.0 394.4h0M115.1 410.3h0M115.0 409.2h0M137.0 395.9h0M136.6 411.4h0M137.9 341.2h0M137.0 390.5h0M136.0 348.3h0M136.1 383.6h0M136.4 411.5h0M135.5 399.1h0M135.5 414.1h0M136.0 389.0h0M137.1 416.2h0M136.6 360.2h0M136.7 407.7h0M136.0 418.7h0M136.9 416.7h0M136.4 394.9h0M136.8 429.6h0M138.9 391.1h0M137.4 417.5h0M136.4 424.5h0M138.8 402.1h0M137.4 355.5h0M136.2 430.4h0M136.8 397.2h0M137.4 399.9h0M136.0 413.8h0M135.2 337.6h0M135.5 372.9h0M136.6 341.5h0M135.6 418.7h0M136.6 362.2h0M136.1 410.2h0M137.1 408.5h0M135.7 415.9h0M138.6 416.9h0M157.7 375.8h0M157.7 381.5h0M161.0 419.8h0M161.5 400.3h0M157.1 341.0h0M158.0 350.3h0M158.1 390.5h0M159.8 375.4h0M158.5 424.2h0M158.1 360.7h0M157.5 322.1h0M157.0 362.1h0M157.2 386.3h0M157.5 391.4h0M159.2 407.1h0M158.1 376.0h0M159.3 362.3h0M157.9 378.2h0M158.4 393.0h0M159.4 387.6h0M157.7 391.8h0M160.0 390.4h0M157.3 393.0h0M176.4 315.1h0M179.2 337.5h0M178.9 353.0h0M183.4 357.7h0M181.0 365.0h0M178.4 333.1h0M180.7 314.5h0M177.3 377.3h0M179.5 385.9h0M180.3 367.7h0M180.2 367.2h0M180.0 368.8h0M180.9 373.0h0M176.5 340.5h0M179.6 341.8h0M178.2 370.1h0M181.7 379.2h0M178.2 394.4h0M179.2 292.8h0M205.0 321.5h0M203.4 359.0h0M204.3 314.0h0M200.6 366.8h0M201.2 324.4h0M203.9 308.5h0M203.2 347.6h0M203.7 362.0h0M201.1 339.8h0M201.6 351.0h0M199.9 278.1h0M201.3 330.7h0M201.7 356.6h0M224.4 339.8h0M221.8 277.0h0M221.0 304.2h0M224.6 318.0h0M221.5 302.0h0M222.4 340.0h0M223.6 270.3h0M224.9 308.5h0M247.2 271.6h0M248.4 297.4h0M245.5 291.4h0"/>
<path d="M395.2 150.5h0M351.4 162.6h0M289.5 89.4h0M266.2 158.5h0M307.6 227.3h0M330.6 183.4h0M333.6 267.5h0M330.6 274.4h0M332.5 275.5h0M354.4 229.5h0M397.4 242.6h0M288.4 245.5h0M269.5 267.1h0M269.5 268.5h0M267.0 291.2h0M268.4 303.1h0M245.5 349.4h0M245.5 379.5h0M225.3 384.5h0M114.8 343.3h0M135.5 286.5h0M135.5 319.5h0M160.4 295.6h0M92.7 424.0h0M93.2 433.7h0M93.6 426.5h0M93.1 429.9h0M94.7 431.0h0M93.7 427.4h0M93.3 433.6h0M93.2 433.8h0M93.2 433.0h0M93.6 432.7h0M92.9 433.4h0M93.9 408.5h0M93.5 430.7h0M93.1 430.5h0M92.7 427.9h0M92.9 428.7h0M93.6 420.3h0M92.7 411.6h0M92.2 432.1h0M94.1 433.0h0M93.7 422.8h0M92.8 430.6h0M94.5 431.0h0M92.6 430.2h0M92.6 427.9h0M93.5 433.4h0M93.4 403.9h0M93.6 432.2h0M93.5 433.3h0M92.9 432.4h0M92.9 422.9h0M92.1 410.0h0M93.6 433.7h0M93.9 433.2h0M93.5 430.7h0M93.6 391.3h0M93.6 424.0h0M92.4 428.3h0M93.3 432.9h0M94.0 422.2h0M92.8 429.4h0M93.5 421.0h0M93.9 427.4h0M93.5 411.1h0M94.3 427.6h0M93.6 432.3h0M93.2 433.2h0M93.9 424.6h0M93.0 427.1h0M93.6 427.0h0M93.1 431.2h0M93.8 427.7h0M93.2 433.8h0M93.1 424.4h0M94.8 428.4h0M93.8 433.3h0M93.3 430.1h0M92.7 410.4h0M93.9 430.0h0M94.1 429.4h0M92.9 417.9h0M93.4 432.5h0M93.3 430.4h0M93.9 430.6h0M92.9 417.4h0M94.2 430.3h0M93.2 432.6h0M94.0 405.7h0M93.6 432.9h0M93.4 428.0h0M93.6 425.3h0M92.0 387.4h0M93.9 412.8h0M92.7 404.0h0M93.4 430.3h0M92.8 433.7h0M93.2 413.3h0M93.3 429.9h0M93.2 431.5h0M94.0 417.8h0M92.0 405.8h0M93.5 431.6h0M93.1 426.0h0M93.5 403.1h0M93.1 433.1h0M94.1 423.8h0M93.4 433.7h0M92.4 417.0h0M93.7 425.7h0M93.5 390.6h0M93.2 432.7h0M93.7 431.5h0M93.9 431.5h0M93.9 432.3h0M93.3 431.1h0M94.5 382.2h0M93.5 433.7h0M94.0 378.7h0M92.7 423.0h0M93.2 424.7h0M93.1 432.8h0M92.8 432.9h0M93.3 433.8h0M94.3 420.3h0M93.4 425.8h0M94.1 428.8h0M93.3 433.4h0M93.1 422.9h0M93.2 430.8h0M93.2 433.7h0M93.3 411.7h0M93.3 433.3h0M93.4 431.2h0M93.0 428.5h0M93.3 433.4h0M93.1 428.7h0M93.8 433.8h0M94.0 432.3h0M93.3 433.7h0M94.2 422.2h0M93.8 432.4h0M93.9 409.1h0M93.4 433.8h0M93.1 418.4h0M93.5 431.9h0M93.5 433.6h0M93.3 432.0h0M93.2 432.4h0M93.5 427.0h0M93.4 427.7h0M92.2 407.1h0M93.1 433.7h0M92.6 429.9h0M94.0 381.0h0M93.0 412.4h0M114.6 400.5h0M115.4 369.2h0M114.0 415.1h0M116.0 409.7h0M113.4 411.8h0M114.3 406.7h0M115.4 426.7h0M115.1 362.2h0M115.1 402.9h0M115.0 411.5h0M115.4 384.1h0M114.9 391.9h0M114.6 397.0h0M115.5 408.9h0M114.7 402.4h0M114.3 389.0h0M115.9 403.3h0M115.2 429.0h0M115.2 388.4h0M114.5 417.8h0M114.2 399.3h0M114.7 405.1h0M116.3 384.4h0M115.2 423.6h0M114.7 402.2h0M115.2 393.9h0M114.7 401.5h0M115.2 409.7h0M116.1 426.0h0M114.8 383.6h0M114.2 410.6h0M114.3 419.6h0M115.8 397.7h0M114.2 383.9h0M114.2 404.4h0M115.5 381.6h0M115.7 388.5h0M114.1 416.1h0M115.2 409.0h0M115.7 431.5h0M114.4 389.7h0M114.9 415.7h0M114.5 417.8h0M113.3 431.0h0M115.2 426.2h0M114.6 426.8h0M115.5 417.6h0M113.9 402.5h0M114.5 429.8h0M136.7 418.0h0M136.3 410.1h0M135.9 407.9h0M136.5 396.8h0M135.6 397.8h0M137.5 391.6h0M134.8 422.0h0M134.9 419.8h0M136.3 402.4h0M136.7 400.6h0M136.4 397.2h0M136.6 388.3h0M137.4 362.9h0M138.5 421.5h0M137.0 390.7h0M136.5 404.3h0M137.5 385.7h0M138.1 386.7h0M138.5 391.2h0M137.5 410.2h0M137.1 419.1h0M136.6 406.9h0M137.5 381.7h0M137.5 343.6h0M136.0 352.3h0M137.5 349.9h0M136.6 383.8h0M137.4 416.6h0M137.0 400.5h0M136.3 332.4h0M136.4 386.7h0M137.2 383.3h0M137.5 372.2h0M135.5 401.5h0M157.4 348.4h0M157.8 382.4h0M160.8 400.1h0M158.3 398.8h0M157.7 327.9h0M156.8 353.8h0M157.1 379.1h0M158.1 333.7h0M157.1 372.0h0M158.1 378.0h0M159.4 336.0h0M158.3 357.8h0M157.8 344.4h0M159.9 360.7h0M158.5 336.1h0M160.1 373.6h0M157.3 341.8h0M157.4 410.4h0M158.4 369.3h0M160.1 388.4h0M156.2 338.9h0M157.0 382.3h0M159.9 353.2h0M157.9 374.7h0M158.6 357.0h0M158.0 384.8h0M158.5 365.6h0M157.3 355.0h0M157.7 385.3h0M156.8 363.0h0M157.0 368.4h0M180.7 358.0h0M180.0 316.4h0M178.9 368.1h0M177.7 328.0h0M179.5 384.0h0M182.0 369.6h0M178.7 397.3h0M181.5 376.2h0M177.7 325.9h0M178.7 391.5h0M180.0 413.8h0M178.8 375.7h0M180.7 379.2h0M180.6 342.9h0M178.2 353.2h0M203.6 345.1h0M200.8 343.4h0M202.1 288.8h0M201.0 311.9h0M202.0 312.3h0M199.1 330.0h0M199.4 351.1h0M201.9 331.5h0M204.4 365.0h0M201.1 316.2h0M220.1 345.4h0M221.2 346.0h0M223.6 314.6h0M222.7 330.0h0M223.1 373.1h0M225.3 303.4h0M225.1 336.9h0M222.5 350.9h0M223.3 315.2h0M243.2 333.8h0M246.5 308.0h0M244.1 269.4h0M244.0 291.1h0M244.5 334.7h0"/>
<path d="M289.5 155.5h0M312.5 213.3h0M307.6 225.9h0M308.4 237.4h0M311.4 285.3h0M310.6 293.6h0M307.6 305.3h0M331.7 237.4h0M348.4 188.4h0M355.5 202.3h0M356.3 219.3h0M202.4 229.5h0M244.4 229.5h0M246.2 241.9h0M242.4 248.4h0M249.4 249.4h0M245.5 253.3h0M246.2 259.4h0M269.5 235.9h0M267.4 260.1h0M287.3 263.4h0M265.4 281.5h0M265.8 307.5h0M268.4 319.5h0M265.8 321.4h0M264.3 342.4h0M284.5 350.5h0M135.8 308.4h0M159.5 271.6h0M157.4 277.4h0M179.3 281.5h0M93.3 419.5h0M93.5 415.9h0M93.7 433.2h0M92.9 407.0h0M93.7 417.2h0M93.0 425.9h0M93.5 433.8h0M94.2 414.9h0M93.2 429.8h0M94.1 418.0h0M93.7 424.4h0M92.9 433.1h0M93.4 408.3h0M92.5 429.8h0M92.8 404.0h0M93.5 427.8h0M93.2 433.7h0M93.5 406.3h0M93.6 433.5h0M94.0 407.2h0M93.5 414.8h0M92.6 412.1h0M93.4 360.5h0M93.6 433.2h0M93.2 427.0h0M94.0 433.2h0M93.5 414.5h0M92.6 431.2h0M93.3 418.0h0M92.8 431.9h0M93.1 404.4h0M92.9 423.6h0M94.0 430.5h0M92.5 422.4h0M93.3 430.3h0M92.9 431.3h0M93.6 433.3h0M93.2 420.2h0M93.5 433.0h0M93.7 404.7h0M94.2 432.2h0M93.1 428.4h0M93.5 427.1h0M93.9 425.0h0M93.2 427.6h0M93.4 430.0h0M94.3 431.6h0M93.3 421.8h0M92.7 419.9h0M93.3 433.8h0M93.9 430.9h0M93.4 411.5h0M93.3 432.8h0M92.5 425.6h0M92.3 425.4h0M94.1 393.9h0M93.7 425.7h0M93.4 431.7h0M93.7 431.4h0M93.0 422.6h0M93.6 432.3h0M93.9 431.6h0M93.1 433.8h0M94.1 406.1h0M93.2 429.0h0M93.1 433.0h0M93.7 430.0h0M92.4 431.9h0M93.8 433.6h0M92.4 430.7h0M92.5 431.8h0M93.4 419.8h0M93.3 433.6h0M94.3 426.5h0M93.9 427.5h0M93.7 428.2h0M93.3 428.4h0M93.6 420.4h0M93.3 427.3h0M93.5 400.1h0M93.5 433.7h0M94.3 431.7h0M93.5 377.7h0M94.0 406.3h0M92.5 412.6h0M93.4 428.8h0M93.2 433.5h0M93.4 413.1h0M93.2 433.8h0M92.9 427.5h0M93.8 410.0h0M93.4 433.1h0M93.1 424.5h0M93.1 433.5h0M92.6 429.1h0M92.6 424.4h0M92.7 427.1h0M93.9 431.9h0M92.8 418.5h0M93.9 433.1h0M93.4 433.7h0M93.2 432.0h0M92.4 418.5h0M93.6 416.4h0M93.2 431.9h0M94.1 420.0h0M93.1 433.8h0M93.4 433.7h0M93.5 433.4h0M94.8 429.8h0M93.5 433.7h0M93.7 432.4h0M93.1 433.1h0M93.6 428.9h0M93.6 431.5h0M93.0 433.8h0M93.2 430.4h0M93.5 428.0h0M94.0 424.2h0M115.1 392.0h0M114.5 415.7h0M113.9 418.3h0M114.6 422.4h0M113.5 407.0h0M116.2 415.8h0M114.3 402.8h0M116.0 397.6h0M115.3 414.1h0M114.9 370.3h0M115.8 422.5h0M114.4 425.5h0M115.8 419.4h0M115.6 417.8h0M115.5 372.3h0M113.5 423.1h0M115.2 421.8h0M115.6 396.0h0M115.4 419.6h0M114.7 426.9h0M113.4 428.6h0M114.6 393.3h0M114.6 429.7h0M116.6 413.8h0M114.8 365.1h0M115.5 406.3h0M114.5 411.2h0M114.8 428.7h0M115.0 405.0h0M115.5 375.1h0M116.0 428.4h0M115.5 411.1h0M114.7 408.3h0M113.6 429.0h0M116.1 418.0h0M116.1 381.0h0M114.8 413.6h0M114.1 405.8h0M114.3 365.7h0M114.6 417.4h0M115.6 397.8h0M114.9 412.9h0M114.2 399.6h0M116.6 419.4h0M114.1 421.2h0M114.9 408.1h0M115.3 380.4h0M114.7 431.7h0M115.8 416.7h0M115.7 373.3h0M114.7 419.4h0M115.1 417.4h0M136.7 400.3h0M136.4 331.8h0M136.0 422.2h0M137.3 354.0h0M136.8 412.8h0M138.2 400.9h0M137.1 403.5h0M136.3 399.9h0M137.2 361.0h0M139.1 376.7h0M136.3 403.5h0M136.7 367.4h0M137.7 362.9h0M137.7 410.2h0M136.0 417.3h0M137.7 406.0h0M136.0 408.9h0M135.7 413.0h0M135.2 364.0h0M136.3 383.9h0M137.0 422.5h0M137.0 327.8h0M136.3 361.5h0M137.8 408.7h0M136.5 420.9h0M136.9 388.4h0M137.7 368.7h0M136.2 429.2h0M136.5 368.3h0M138.0 377.9h0M137.4 419.8h0M135.5 401.6h0M137.9 395.4h0M134.9 386.7h0M135.6 386.6h0M136.9 366.7h0M157.0 365.8h0M159.3 369.1h0M158.5 353.3h0M159.5 382.6h0M159.3 393.0h0M156.8 388.9h0M161.3 381.9h0M155.6 401.0h0M156.5 351.6h0M159.8 363.9h0M159.5 328.9h0M157.0 393.7h0M158.1 388.4h0M159.8 361.2h0M157.2 383.2h0M158.0 390.9h0M158.1 403.0h0M157.7 341.6h0M158.2 413.8h0M159.0 369.6h0M179.5 338.2h0M178.7 372.6h0M181.0 332.2h0M182.8 406.9h0M179.6 344.6h0M178.7 368.1h0M182.2 398.2h0M179.2 379.1h0M178.7 322.2h0M180.8 379.0h0M181.7 364.9h0M179.9 360.2h0M176.8 351.6h0M180.9 364.5h0M200.2 345.4h0M202.1 308.3h0M201.7 306.8h0M201.5 297.0h0M200.1 311.6h0M202.4 360.3h0M202.5 361.5h0M197.5 296.2h0M202.3 295.2h0M203.3 359.1h0M202.3 343.2h0M200.5 295.9h0M201.3 302.6h0M199.4 334.1h0M222.3 331.4h0M223.4 339.9h0M224.9 320.2h0M222.0 312.1h0M220.3 339.8h0M221.9 276.0h0M223.8 265.2h0M224.9 342.1h0M224.8 287.4h0M222.1 304.0h0M244.8 327.8h0M244.9 297.1h0M242.7 296.8h0M246.6 337.2h0M245.3 264.6h0M246.1 265.6h0M245.6 303.4h0M246.7 263.4h0"/>
<path d="M308.4 183.4h0M331.7 275.5h0M353.3 248.6h0M373.3 226.4h0M202.4 248.4h0M220.5 229.5h0M243.3 236.4h0M265.4 201.5h0M264.7 302.5h0M267.7 323.6h0M244.4 344.5h0M115.3 341.4h0M158.4 314.5h0M93.8 417.4h0M93.4 433.1h0M93.3 433.6h0M93.2 422.1h0M92.6 411.2h0M93.6 433.3h0M92.9 425.7h0M92.7 432.9h0M93.4 411.1h0M93.9 426.5h0M93.5 433.0h0M93.5 433.7h0M92.0 428.4h0M93.1 431.8h0M93.8 421.8h0M93.2 433.8h0M94.0 433.1h0M94.1 431.3h0M93.6 421.6h0M94.1 427.2h0M93.1 433.8h0M93.0 409.0h0M93.2 422.6h0M91.7 428.1h0M92.8 431.6h0M93.0 429.2h0M93.4 433.7h0M93.6 411.0h0M93.5 416.8h0M94.0 433.1h0M93.6 422.8h0M93.6 424.0h0M93.8 394.7h0M93.9 402.9h0M93.6 433.0h0M93.8 431.5h0M92.3 417.4h0M92.9 422.8h0M93.4 432.8h0M93.3 424.3h0M94.5 417.1h0M94.0 421.0h0M94.0 432.5h0M94.1 424.6h0M93.1 418.3h0M92.2 420.9h0M93.6 433.8h0M93.4 421.1h0M92.6 403.6h0M93.1 433.4h0M94.3 409.7h0M93.6 433.3h0M93.7 429.5h0M93.6 432.9h0M93.1 433.4h0M94.1 431.7h0M92.6 428.8h0M93.4 433.3h0M93.6 403.6h0M93.1 423.9h0M93.3 427.3h0M93.3 424.3h0M93.2 433.5h0M93.9 427.3h0M93.5 433.0h0M93.5 415.6h0M93.0 432.7h0M93.3 433.8h0M93.5 433.7h0M93.1 431.8h0M93.6 433.6h0M92.0 410.1h0M93.8 430.1h0M93.2 407.6h0M93.0 430.0h0M93.7 426.7h0M92.8 431.5h0M93.2 430.5h0M93.1 427.5h0M93.4 433.0h0M93.9 433.4h0M93.9 428.2h0M93.7 425.6h0M93.4 433.5h0M92.9 432.6h0M93.6 408.9h0M92.7 432.2h0M94.4 424.4h0M93.8 430.6h0M94.0 416.2h0M93.9 432.2h0M95.0 427.0h0M93.3 433.7h0M93.2 432.5h0M93.9 417.9h0M93.7 433.7h0M93.1 433.4h0M93.8 424.6h0M92.7 430.4h0M93.8 431.2h0M93.2 433.4h0M92.9 430.0h0M94.3 428.1h0M92.5 426.4h0M92.8 399.0h0M93.2 424.3h0M93.7 425.7h0M93.0 416.0h0M94.0 431.9h0M94.1 433.5h0M93.3 433.7h0M92.7 413.8h0M93.9 428.6h0M92.1 431.7h0M93.4 429.9h0M93.5 433.6h0M92.9 429.6h0M93.3 401.1h0M93.5 427.6h0M93.8 424.5h0M93.4 430.5h0M94.5 416.3h0M92.7 429.5h0M93.0 430.2h0M93.4 431.4h0M93.0 432.2h0M92.8 433.7h0M92.9 407.9h0M91.8 414.9h0M93.4 433.5h0M93.2 431.0h0M93.2 433.8h0M93.1 430.5h0M93.4 432.5h0M93.7 432.7h0M93.7 427.1h0M93.2 433.6h0M93.0 432.6h0M93.4 433.7h0M93.3 433.5h0M93.2 433.8h0M93.5 432.7h0M115.1 408.3h0M114.4 408.1h0M115.7 405.3h0M114.3 372.0h0M115.8 424.1h0M114.6 388.3h0M115.7 424.8h0M115.0 409.0h0M116.5 386.8h0M115.3 346.9h0M113.8 415.9h0M114.6 427.7h0M117.2 415.4h0M113.8 428.4h0M115.1 424.5h0M114.7 417.6h0M115.7 354.3h0M114.7 423.2h0M115.9 419.3h0M116.6 404.3h0M115.2 394.4h0M114.1 395.2h0M115.3 398.7h0M114.7 428.3h0M115.9 412.4h0M115.0 415.8h0M113.2 408.3h0M114.2 409.7h0M115.3 415.1h0M116.4 406.8h0M115.0 407.8h0M115.8 383.7h0M115.4 407.1h0M114.8 399.0h0M114.3 431.2h0M115.3 424.1h0M115.9 425.5h0M115.0 383.3h0M115.4 415.9h0M114.6 413.7h0M115.4 423.7h0M115.1 419.8h0M114.9 419.7h0M115.6 382.1h0M115.4 418.6h0M115.9 383.9h0M114.8 431.0h0M115.3 390.8h0M115.0 408.1h0M113.7 413.3h0M115.2 405.6h0M114.3 400.0h0M115.3 371.3h0M115.5 406.2h0M114.4 426.4h0M114.1 423.0h0M114.5 404.5h0M115.7 407.7h0M114.9 421.2h0M114.2 429.3h0M114.4 402.7h0M113.7 414.8h0M115.7 403.8h0M136.3 353.3h0M137.4 354.6h0M137.0 351.9h0M136.9 341.8h0M135.3 412.2h0M138.1 404.8h0M136.7 391.3h0M136.7 392.8h0M137.1 355.3h0M138.5 370.7h0M135.5 396.2h0M136.3 384.8h0M137.6 412.8h0M137.3 390.0h0M136.9 410.9h0M136.7 378.0h0M136.0 370.9h0M138.2 411.1h0M137.6 418.5h0M136.1 411.4h0M136.2 422.4h0M136.3 422.0h0M137.2 394.5h0M134.8 384.8h0M138.0 346.0h0M136.3 373.6h0M160.5 356.2h0M158.9 394.8h0M159.1 404.2h0M157.8 369.1h0M158.6 351.1h0M158.5 393.4h0M158.4 399.6h0M158.8 401.2h0M156.5 365.9h0M158.8 348.8h0M159.8 386.5h0M159.7 371.5h0M158.4 411.3h0M157.3 379.4h0M158.9 374.1h0M158.3 359.1h0M180.7 372.0h0M183.3 331.2h0M180.1 385.9h0M179.0 414.0h0M181.1 342.1h0M179.0 367.9h0M182.2 392.9h0M183.9 312.2h0M180.9 405.1h0M177.8 364.2h0M181.4 336.7h0M179.9 345.3h0M175.7 336.2h0M178.2 348.4h0M182.1 370.3h0M179.6 356.3h0M181.1 374.2h0M180.8 335.8h0M179.7 348.7h0M182.1 368.4h0M203.2 336.0h0M202.5 319.5h0M199.5 343.2h0M199.4 325.6h0M200.1 312.6h0M199.9 296.0h0M199.7 365.1h0M202.1 319.9h0M201.8 309.6h0M222.8 297.1h0M223.6 321.8h0M224.6 326.2h0M224.1 343.7h0M228.1 365.1h0M222.7 304.1h0M224.9 275.6h0M224.8 360.1h0M222.4 306.8h0M223.6 337.2h0M244.3 280.1h0M245.6 282.3h0M245.2 312.0h0M243.4 322.6h0M247.9 332.2h0"/>
<path d="M481.5 64.5h0M376.3 124.5h0M350.3 143.4h0M331.4 150.5h0M421.3 174.6h0M308.4 198.5h0M311.4 269.5h0M312.5 270.5h0M352.5 292.5h0M243.7 258.3h0M268.4 245.5h0M287.3 201.5h0M288.4 241.4h0M287.8 270.5h0M287.3 290.1h0M289.3 297.0h0M269.5 314.5h0M246.5 358.5h0M202.4 401.4h0M158.4 292.4h0M159.5 312.5h0M157.4 315.5h0M92.7 392.3h0M93.0 432.2h0M93.8 405.5h0M93.2 432.9h0M93.2 433.6h0M94.2 418.9h0M93.9 432.3h0M94.1 424.4h0M93.3 427.8h0M93.2 432.1h0M93.1 433.0h0M94.0 428.1h0M93.2 376.5h0M93.5 432.7h0M92.9 424.8h0M93.6 433.6h0M93.2 432.8h0M93.1 433.2h0M93.7 419.3h0M94.5 425.9h0M93.9 432.3h0M93.3 428.6h0M93.5 432.9h0M93.1 431.9h0M92.9 426.1h0M93.5 429.0h0M93.1 433.4h0M92.8 431.7h0M94.0 431.8h0M92.4 419.4h0M93.7 433.5h0M93.3 433.3h0M93.4 432.3h0M93.6 433.7h0M94.3 426.0h0M93.3 433.7h0M93.4 431.7h0M93.3 431.5h0M94.3 425.6h0M94.1 363.4h0M93.6 433.5h0M92.7 425.5h0M93.9 430.3h0M93.5 433.8h0M93.7 433.8h0M93.0 424.4h0M92.8 427.1h0M93.2 422.0h0M92.7 424.9h0M92.8 432.3h0M93.5 424.5h0M93.1 422.1h0M93.3 414.8h0M93.4 417.7h0M93.9 433.0h0M93.2 433.7h0M93.3 424.0h0M93.4 433.7h0M94.3 404.7h0M92.1 426.1h0M93.8 394.2h0M93.5 433.4h0M93.6 428.4h0M93.4 433.3h0M94.3 427.6h0M94.8 425.6h0M93.1 433.0h0M93.5 429.2h0M92.9 405.9h0M93.6 430.0h0M93.3 402.1h0M93.3 432.3h0M93.2 419.5h0M92.9 423.1h0M93.2 427.0h0M94.0 431.2h0M92.9 429.3h0M93.7 429.1h0M93.4 416.1h0M94.5 418.3h0M93.1 415.4h0M93.9 423.9h0M95.0 430.9h0M93.8 425.9h0M92.6 425.4h0M93.3 433.5h0M93.8 432.2h0M93.9 428.4h0M93.5 414.0h0M93.3 432.5h0M93.9 415.7h0M93.5 433.8h0M93.6 433.1h0M93.8 408.6h0M93.3 408.2h0M93.6 359.0h0M93.4 429.4h0M93.7 433.8h0M93.1 433.8h0M93.1 431.6h0M93.4 432.2h0M93.6 429.8h0M93.4 432.5h0M93.6 410.7h0M93.1 433.8h0M93.4 433.8h0M92.8 390.2h0M93.5 433.7h0M93.9 413.0h0M92.8 429.3h0M93.2 421.6h0M93.2 422.2h0M92.1 431.9h0M93.4 433.1h0M93.0 427.2h0M93.2 432.8h0M92.6 429.7h0M94.4 365.1h0M93.3 429.0h0M93.4 433.8h0M93.5 422.6h0M93.0 433.5h0M93.1 433.5h0M94.3 427.8h0M93.0 431.2h0M93.5 433.5h0M93.3 431.5h0M92.9 429.5h0M93.2 433.5h0M94.4 428.4h0M93.4 409.8h0M94.0 429.7h0M92.5 424.5h0M93.4 432.8h0M116.6 423.8h0M115.6 430.2h0M114.6 421.1h0M114.6 422.8h0M116.6 412.0h0M115.9 424.8h0M114.8 404.6h0M116.2 361.9h0M113.7 390.7h0M114.3 428.7h0M115.7 428.3h0M115.7 411.8h0M115.0 359.2h0M115.0 372.7h0M115.2 385.7h0M113.4 431.1h0M114.8 415.7h0M115.2 426.0h0M114.9 412.7h0M115.1 361.8h0M116.5 420.0h0M114.5 423.0h0M114.8 361.9h0M113.3 423.7h0M116.6 406.8h0M114.4 413.2h0M114.5 396.6h0M115.0 426.3h0M113.4 388.1h0M115.5 412.9h0M115.1 365.4h0M115.8 403.7h0M114.7 415.2h0M114.3 420.6h0M115.9 392.9h0M114.4 420.2h0M115.4 418.6h0M114.8 397.7h0M114.9 409.4h0M113.8 400.7h0M113.3 429.9h0M115.8 398.4h0M113.9 432.2h0M114.8 403.7h0M115.8 406.4h0M115.0 432.4h0M114.6 418.0h0M114.8 427.6h0M114.3 398.2h0M116.2 404.4h0M114.8 401.8h0M114.9 371.8h0M114.7 392.3h0M136.9 408.4h0M133.8 391.8h0M136.1 365.8h0M136.4 403.8h0M138.0 378.5h0M136.8 424.1h0M136.0 414.9h0M136.3 380.5h0M136.2 388.5h0M135.2 369.7h0M136.9 370.6h0M136.1 395.5h0M136.7 402.3h0M137.8 378.4h0M137.3 366.9h0M135.2 402.6h0M136.1 387.5h0M136.1 414.5h0M135.8 387.4h0M138.5 426.6h0M135.3 385.7h0M137.2 425.6h0M136.3 399.1h0M136.2 426.9h0M138.3 418.3h0M137.8 385.2h0M135.5 364.6h0M159.0 355.6h0M156.1 377.4h0M156.5 392.8h0M160.5 370.3h0M158.8 388.3h0M157.7 414.9h0M158.4 345.0h0M157.6 383.8h0M159.3 372.8h0M158.0 350.5h0M158.8 366.2h0M159.7 380.6h0M159.0 414.5h0M156.7 373.9h0M157.3 383.5h0M158.3 330.3h0M158.7 361.4h0M158.7 362.1h0M158.4 403.4h0M158.4 353.3h0M157.9 355.5h0M158.6 330.8h0M157.9 374.7h0M159.0 360.0h0M158.9 367.6h0M158.0 376.7h0M158.3 396.4h0M158.2 335.4h0M181.2 390.8h0M178.6 354.3h0M178.1 386.3h0M179.7 369.4h0M180.9 395.6h0M179.7 319.9h0M180.5 385.4h0M179.0 379.7h0M180.8 393.3h0M179.4 396.7h0M179.3 419.8h0M178.4 345.9h0M179.6 397.0h0M180.8 418.9h0M180.0 385.2h0M179.5 341.5h0M179.7 322.6h0M200.9 382.8h0M200.7 374.5h0M201.8 360.2h0M202.7 279.2h0M201.0 289.1h0M202.5 325.0h0M203.9 317.0h0M201.8 351.0h0M200.8 332.1h0M203.3 350.5h0M202.9 358.2h0M201.5 304.2h0M203.8 303.3h0M220.4 332.2h0M221.6 292.8h0M242.8 323.5h0M242.8 301.2h0M243.9 283.8h0M246.7 324.2h0M246.3 312.2h0M244.8 273.1h0M243.4 316.6h0M246.3 312.3h0M243.8 270.4h0"/>
</g>
<g fill="none" stroke="#ffa500" stroke-opacity="0.46" stroke-width="3.4" stroke-linecap="round">
<path d="M832.5 139.6h0M855.5 168.6h0M811.3 213.3h0M830.4 237.4h0M831.3 260.4h0M853.2 219.3h0M765.7 237.3h0M763.6 242.5h0M786.4 197.4h0M785.5 235.5h0M767.4 278.5h0M765.0 281.5h0M765.7 310.6h0M743.5 363.2h0M744.2 379.5h0M615.4 344.4h0M638.5 321.4h0M681.3 281.5h0M593.5 417.4h0M593.0 421.5h0M592.8 428.8h0M592.3 429.5h0M593.7 431.5h0M593.8 433.3h0M592.5 426.6h0M593.6 417.2h0M593.8 431.1h0M593.5 430.4h0M593.7 433.2h0M594.0 399.6h0M593.8 432.8h0M593.8 424.4h0M594.1 433.1h0M593.6 428.2h0M594.4 411.8h0M592.7 414.8h0M593.2 433.4h0M593.5 426.9h0M593.4 433.0h0M593.6 433.4h0M593.1 431.6h0M592.6 426.5h0M593.6 433.8h0M592.9 431.7h0M593.6 430.5h0M592.6 432.0h0M593.1 431.5h0M594.0 429.0h0M593.5 420.1h0M592.8 417.1h0M593.4 431.7h0M593.8 425.0h0M593.4 433.8h0M593.4 433.8h0M593.4 433.8h0M593.6 432.4h0M593.7 384.7h0M593.5 424.5h0M593.8 431.7h0M593.7 433.8h0M594.5 396.5h0M592.8 430.0h0M593.6 433.8h0M593.2 432.3h0M593.4 419.2h0M593.7 432.8h0M593.2 425.6h0M593.7 430.3h0M593.7 433.5h0M593.4 432.7h0M593.3 430.1h0M593.7 402.1h0M594.4 417.9h0M593.9 427.4h0M593.2 432.5h0M594.2 415.9h0M594.2 429.7h0M594.6 427.6h0M593.7 432.2h0M594.6 420.6h0M595.1 419.8h0M592.3 413.3h0M593.5 433.8h0M593.4 430.0h0M593.4 427.2h0M592.7 432.5h0M593.3 412.4h0M592.4 431.5h0M593.1 427.0h0M593.5 419.0h0M593.6 433.7h0M593.6 413.1h0M593.6 433.8h0M593.2 432.2h0M592.9 428.8h0M594.1 421.0h0M593.6 401.3h0M592.8 378.7h0M593.7 409.9h0M593.3 432.4h0M593.4 433.4h0M592.8 415.6h0M593.7 433.4h0M593.9 433.5h0M593.8 430.7h0M593.9 431.1h0M593.4 433.4h0M593.6 431.9h0M593.5 431.7h0M594.0 431.6h0M592.2 414.9h0M593.6 433.6h0M592.8 395.3h0M593.3 433.7h0M592.5 432.7h0M593.4 422.2h0M593.0 430.7h0M593.2 433.8h0M593.4 422.2h0M593.2 432.0h0M593.8 431.4h0M593.5 432.9h0M593.6 423.5h0M592.7 428.7h0M593.8 423.7h0M593.2 432.3h0M593.7 430.6h0M594.5 423.3h0M594.6 430.0h0M594.5 428.9h0M593.3 432.6h0M592.6 431.9h0M594.1 430.4h0M594.1 431.3h0M592.3 431.9h0M615.8 408.1h0M614.6 415.8h0M616.1 409.0h0M614.5 369.2h0M616.6 431.6h0M615.5 430.2h0M614.9 426.7h0M614.9 364.1h0M616.6 395.2h0M616.3 422.0h0M614.9 420.6h0M615.3 380.6h0M614.8 418.3h0M615.4 389.0h0M614.1 403.3h0M615.0 411.7h0M615.1 397.6h0M616.1 398.7h0M615.2 414.7h0M615.2 384.4h0M613.8 420.6h0M614.6 422.7h0M614.6 402.7h0M615.6 427.5h0M615.4 416.9h0M614.3 426.5h0M615.6 372.3h0M614.6 420.9h0M614.5 415.5h0M615.2 400.2h0M614.2 424.2h0M615.3 407.2h0M615.8 385.3h0M615.6 407.0h0M615.2 383.3h0M616.2 426.3h0M614.8 425.6h0M616.0 422.7h0M614.5 354.8h0M615.2 414.9h0M613.4 411.2h0M615.9 399.7h0M614.3 376.9h0M615.7 409.4h0M615.1 405.5h0M615.3 406.2h0M613.6 409.5h0M615.8 406.4h0M616.1 423.7h0M615.8 402.7h0M616.0 425.1h0M615.2 414.8h0M614.0 426.8h0M614.8 403.3h0M637.5 411.4h0M637.0 367.4h0M637.4 415.5h0M638.4 405.2h0M634.8 403.5h0M636.0 376.1h0M637.0 404.7h0M637.0 419.8h0M635.4 392.8h0M636.6 362.9h0M637.6 405.5h0M637.6 385.9h0M634.8 402.9h0M637.7 371.7h0M634.7 420.4h0M637.0 410.2h0M635.3 417.0h0M636.6 363.4h0M636.5 408.7h0M637.7 405.7h0M635.4 428.3h0M637.1 342.8h0M637.3 399.9h0M637.4 382.0h0M635.2 416.3h0M636.2 333.5h0M635.6 386.4h0M636.7 352.8h0M636.4 388.0h0M657.6 326.1h0M657.6 358.3h0M656.4 364.3h0M655.6 369.7h0M661.5 375.8h0M659.3 329.4h0M655.9 369.1h0M657.5 358.5h0M656.9 351.6h0M657.7 390.5h0M659.1 338.1h0M657.2 374.7h0M656.1 374.7h0M657.8 365.6h0M658.3 372.5h0M658.6 409.5h0M659.9 396.4h0M658.9 393.2h0M680.3 414.5h0M681.3 302.5h0M681.3 395.6h0M682.1 327.1h0M680.7 379.1h0M679.1 366.5h0M679.8 367.9h0M678.9 405.1h0M678.7 341.8h0M680.3 335.4h0M679.6 380.0h0M680.7 319.6h0M678.3 375.1h0M679.0 334.9h0M681.5 396.0h0M678.3 346.0h0M679.8 345.3h0M676.4 350.9h0M700.9 282.7h0M701.7 374.5h0M699.6 303.1h0M700.7 332.1h0M699.4 296.2h0M702.5 271.8h0M701.4 326.2h0M702.1 339.8h0M701.5 372.6h0M703.5 310.6h0M701.0 316.2h0M699.5 366.4h0M719.4 292.4h0M723.0 296.1h0M723.5 320.2h0M722.1 294.0h0M726.1 350.7h0M720.2 279.1h0M724.2 286.8h0M723.2 360.0h0M722.4 286.3h0M725.1 315.0h0M744.1 271.7h0M746.7 297.4h0"/>
<path d="M832.5 150.5h0M810.1 255.5h0M809.3 257.7h0M831.4 188.4h0M832.5 240.4h0M853.3 223.4h0M874.8 194.4h0M873.9 195.5h0M872.4 203.4h0M875.4 226.4h0M894.1 199.3h0M810.0 317.4h0M704.9 246.4h0M702.2 248.4h0M723.3 253.0h0M743.6 183.5h0M766.3 177.5h0M766.2 206.5h0M764.2 256.4h0M786.5 201.5h0M787.3 214.5h0M766.3 311.6h0M677.4 272.5h0M594.6 431.9h0M593.3 426.7h0M593.4 433.1h0M593.7 429.9h0M593.5 431.5h0M593.4 433.8h0M593.3 432.3h0M593.8 433.4h0M592.7 431.0h0M593.2 431.6h0M593.5 433.4h0M593.0 394.1h0M593.9 431.1h0M593.2 433.6h0M594.0 418.2h0M594.0 428.4h0M593.2 431.3h0M592.8 430.2h0M592.8 415.9h0M592.7 425.9h0M593.4 427.8h0M593.6 402.6h0M594.7 427.5h0M593.4 433.8h0M593.6 433.7h0M593.9 431.9h0M592.2 430.6h0M593.3 415.9h0M593.5 433.4h0M593.6 433.8h0M593.8 411.0h0M593.2 427.2h0M592.4 403.9h0M593.3 424.8h0M593.1 429.1h0M592.4 416.4h0M593.4 431.1h0M592.5 431.2h0M593.5 402.3h0M593.7 429.5h0M593.2 433.3h0M594.7 431.5h0M593.6 379.2h0M593.9 428.0h0M594.3 431.5h0M593.9 423.4h0M593.7 432.9h0M592.9 412.8h0M592.9 431.1h0M594.4 424.4h0M593.2 425.8h0M594.0 422.5h0M594.8 429.6h0M593.6 433.8h0M593.4 432.1h0M593.8 433.0h0M593.5 433.2h0M593.7 433.5h0M593.5 428.6h0M592.9 433.0h0M593.8 433.6h0M592.9 425.5h0M593.2 433.8h0M593.3 433.2h0M595.0 427.5h0M593.3 428.7h0M593.5 433.3h0M593.6 432.6h0M592.7 416.9h0M593.2 432.9h0M593.0 430.0h0M593.5 433.8h0M593.5 433.8h0M593.3 425.6h0M594.3 415.2h0M593.4 423.5h0M594.6 421.7h0M593.9 408.9h0M593.2 422.5h0M594.0 381.3h0M593.8 426.0h0M594.0 420.8h0M593.8 433.1h0M593.4 432.2h0M594.2 431.4h0M593.5 431.6h0M593.5 433.8h0M593.7 429.0h0M592.6 430.0h0M593.5 428.8h0M593.2 433.4h0M593.8 429.0h0M593.4 433.8h0M593.1 433.1h0M594.3 406.3h0M594.1 430.5h0M593.4 433.5h0M592.5 425.4h0M594.6 417.0h0M593.4 433.8h0M594.3 425.6h0M593.6 415.1h0M593.6 382.2h0M593.3 432.4h0M593.3 424.8h0M593.1 426.5h0M593.2 433.1h0M593.9 424.4h0M593.6 426.5h0M592.9 428.8h0M593.0 418.3h0M593.1 404.3h0M594.0 421.6h0M594.2 421.7h0M593.2 428.7h0M593.4 433.8h0M593.6 433.5h0M593.7 432.9h0M593.7 433.1h0M593.1 432.4h0M594.1 429.6h0M593.7 433.2h0M594.0 428.5h0M593.2 420.0h0M593.9 393.1h0M593.4 433.0h0M593.1 425.1h0M594.0 429.7h0M593.5 433.8h0M594.2 431.0h0M592.4 426.5h0M593.6 427.6h0M593.7 432.7h0M593.0 428.5h0M591.8 424.5h0M594.1 386.3h0M593.2 409.2h0M593.3 415.6h0M593.6 430.8h0M616.5 406.5h0M614.0 428.6h0M615.0 417.3h0M615.3 401.6h0M616.2 403.6h0M614.7 421.6h0M614.3 402.8h0M615.0 397.0h0M616.3 412.6h0M615.8 354.3h0M615.4 419.7h0M616.0 391.3h0M615.8 419.6h0M615.1 397.7h0M615.1 357.9h0M615.7 399.3h0M615.1 405.1h0M614.8 405.9h0M615.3 389.1h0M615.0 354.0h0M616.0 416.6h0M614.6 403.2h0M615.2 405.5h0M615.7 425.0h0M616.4 380.0h0M615.0 397.8h0M615.1 423.3h0M614.9 426.9h0M615.5 399.5h0M614.1 433.4h0M615.7 399.4h0M615.0 420.7h0M615.6 408.6h0M615.3 381.7h0M616.8 433.3h0M616.4 392.9h0M614.5 389.7h0M614.6 426.2h0M615.2 420.9h0M614.0 404.7h0M615.0 406.0h0M614.5 414.9h0M615.6 426.7h0M614.1 428.7h0M615.6 418.6h0M614.9 405.8h0M615.6 419.5h0M614.5 412.9h0M615.1 412.2h0M616.7 366.6h0M614.8 426.8h0M614.4 407.2h0M614.9 413.7h0M614.1 380.4h0M615.3 413.2h0M614.4 404.4h0M616.1 424.5h0M614.8 409.2h0M636.4 396.3h0M635.6 407.9h0M638.7 422.2h0M636.4 393.7h0M636.3 361.0h0M636.7 398.2h0M636.0 416.0h0M636.5 395.5h0M636.0 431.5h0M636.5 398.6h0M637.2 424.5h0M636.5 406.1h0M636.5 415.5h0M636.8 368.1h0M636.8 346.0h0M635.2 359.1h0M637.6 394.1h0M635.9 377.9h0M636.1 403.5h0M635.0 400.7h0M636.0 418.5h0M636.3 397.8h0M636.9 336.2h0M637.5 398.1h0M659.9 376.1h0M658.7 343.2h0M660.1 353.9h0M660.0 381.5h0M657.7 372.0h0M658.2 427.4h0M657.9 412.8h0M657.9 377.0h0M658.3 341.8h0M658.0 390.5h0M659.7 411.2h0M658.2 354.9h0M658.7 401.2h0M657.2 390.2h0M657.8 388.4h0M657.3 393.2h0M658.3 391.4h0M659.5 396.4h0M659.3 383.2h0M655.9 330.8h0M657.8 422.7h0M658.2 380.7h0M659.2 381.4h0M679.4 390.8h0M679.5 355.9h0M680.1 398.2h0M678.6 304.8h0M681.6 338.1h0M679.8 369.6h0M679.8 320.5h0M678.5 373.6h0M679.0 322.2h0M680.4 413.8h0M679.3 379.0h0M679.6 358.4h0M680.7 348.4h0M680.0 382.4h0M701.8 345.1h0M699.9 343.4h0M703.2 292.2h0M698.6 308.3h0M700.4 357.9h0M700.2 343.3h0M702.9 335.9h0M700.0 368.1h0M723.6 339.8h0M721.9 297.1h0M724.4 345.4h0M724.4 338.3h0M725.5 320.8h0M723.3 361.3h0M724.2 282.3h0M724.3 342.1h0M722.6 340.0h0M722.9 362.4h0M723.3 308.8h0M723.1 304.0h0M745.2 293.0h0M744.3 264.6h0"/>
<path d="M875.5 124.5h0M898.3 132.4h0M767.4 158.5h0M810.1 203.4h0M810.7 256.6h0M807.9 284.5h0M830.8 248.6h0M830.9 275.5h0M745.6 226.5h0M744.6 256.4h0M785.7 199.4h0M787.3 226.5h0M789.6 238.4h0M788.7 241.4h0M787.7 278.5h0M786.2 287.6h0M766.3 294.5h0M786.5 350.5h0M745.7 344.5h0M740.8 346.4h0M745.7 385.6h0M702.9 392.5h0M657.4 274.4h0M657.6 295.6h0M658.4 315.5h0M681.9 261.4h0M593.2 424.0h0M595.6 405.5h0M592.3 428.9h0M592.9 417.3h0M593.5 407.0h0M593.6 433.1h0M593.6 433.1h0M594.1 433.3h0M593.3 433.8h0M593.6 433.3h0M594.2 429.3h0M593.0 412.7h0M593.7 423.3h0M592.9 431.5h0M594.0 430.4h0M594.4 424.2h0M593.0 415.5h0M594.8 429.6h0M593.5 427.3h0M592.5 429.7h0M593.1 432.1h0M594.6 389.2h0M591.8 408.3h0M593.8 431.0h0M593.8 430.1h0M593.9 433.4h0M592.9 404.3h0M593.7 426.0h0M593.6 431.2h0M593.5 421.9h0M593.6 431.5h0M593.4 433.2h0M593.3 432.1h0M592.6 431.2h0M593.3 420.3h0M593.8 432.8h0M593.7 404.4h0M592.9 429.9h0M593.1 426.8h0M592.5 411.9h0M594.0 433.3h0M592.7 421.0h0M592.3 430.2h0M593.8 405.2h0M593.2 433.1h0M593.8 428.3h0M592.4 422.1h0M593.8 427.3h0M593.5 432.6h0M592.4 427.9h0M593.2 432.1h0M593.8 431.2h0M593.5 432.0h0M592.9 419.1h0M593.8 428.3h0M593.2 432.6h0M593.8 417.7h0M593.5 433.8h0M593.9 433.2h0M594.5 423.6h0M593.5 425.6h0M593.5 432.1h0M593.4 432.9h0M594.2 429.4h0M593.4 432.9h0M593.7 432.4h0M593.7 433.7h0M593.5 433.6h0M594.2 431.6h0M593.8 417.6h0M593.8 433.3h0M593.5 429.4h0M593.3 432.6h0M593.6 426.9h0M593.8 420.6h0M593.0 415.9h0M593.5 420.7h0M594.1 423.8h0M593.6 433.7h0M593.0 416.8h0M593.5 408.4h0M593.0 430.4h0M592.8 429.8h0M593.4 431.6h0M593.6 433.7h0M593.2 387.1h0M593.4 432.7h0M593.6 412.6h0M593.2 433.8h0M594.5 431.1h0M593.6 417.5h0M593.7 433.8h0M592.9 425.2h0M593.5 407.7h0M593.7 433.7h0M593.3 390.2h0M593.6 433.7h0M593.4 433.7h0M592.6 413.0h0M592.9 424.5h0M593.2 424.6h0M593.9 429.1h0M592.7 425.1h0M593.0 430.6h0M594.1 429.9h0M592.4 431.9h0M593.4 405.0h0M593.8 433.4h0M592.4 415.8h0M593.4 432.5h0M593.9 433.1h0M594.0 430.2h0M593.4 426.6h0M593.7 432.7h0M593.7 432.2h0M593.6 433.5h0M593.3 425.9h0M593.8 430.7h0M592.5 431.2h0M593.5 418.1h0M593.5 432.5h0M593.8 432.7h0M592.0 412.5h0M593.2 401.8h0M593.7 370.6h0M614.3 418.2h0M614.0 392.6h0M613.5 405.9h0M615.6 413.8h0M613.6 416.0h0M615.8 386.8h0M614.8 407.9h0M615.1 417.3h0M613.8 371.0h0M615.6 427.9h0M615.0 359.0h0M615.1 431.8h0M614.3 415.8h0M613.3 397.7h0M614.0 424.9h0M615.4 361.1h0M614.2 385.7h0M616.4 360.2h0M615.1 421.3h0M614.3 410.2h0M615.5 404.3h0M613.9 423.4h0M615.2 426.0h0M615.8 432.0h0M616.1 388.7h0M614.1 426.5h0M616.4 405.0h0M615.1 391.1h0M614.5 415.8h0M614.7 409.7h0M615.9 428.5h0M614.3 431.8h0M614.9 417.1h0M614.5 380.6h0M615.6 417.0h0M614.8 417.4h0M614.5 409.4h0M614.9 431.2h0M615.1 423.0h0M615.0 398.4h0M615.6 417.2h0M615.8 413.2h0M615.4 366.8h0M614.1 432.2h0M613.1 431.3h0M616.7 393.3h0M614.6 427.4h0M615.5 420.2h0M614.9 429.3h0M614.5 403.2h0M615.7 382.4h0M614.4 423.1h0M615.1 421.7h0M615.5 418.0h0M615.3 397.4h0M614.1 383.2h0M615.4 428.6h0M615.4 429.4h0M614.9 417.5h0M614.9 403.8h0M615.5 416.7h0M615.1 431.7h0M615.7 400.9h0M615.5 358.2h0M637.3 351.9h0M636.4 391.8h0M635.2 379.0h0M637.2 383.6h0M636.4 344.4h0M636.8 379.3h0M636.4 390.7h0M636.5 370.6h0M636.5 395.5h0M635.2 418.9h0M637.1 389.9h0M637.0 390.4h0M636.8 416.7h0M636.7 381.3h0M636.1 410.9h0M635.9 370.7h0M635.8 407.3h0M636.5 372.7h0M635.4 362.8h0M634.9 351.2h0M637.4 388.6h0M636.3 345.4h0M636.3 387.8h0M637.1 404.9h0M636.7 398.3h0M637.5 421.6h0M659.7 340.0h0M658.4 377.4h0M658.7 353.3h0M657.4 379.1h0M657.7 404.2h0M659.0 383.2h0M658.0 405.8h0M658.2 403.5h0M657.7 421.0h0M660.0 386.9h0M656.5 351.3h0M658.0 338.9h0M659.2 383.5h0M657.6 391.5h0M659.1 366.5h0M657.6 356.7h0M657.5 377.4h0M656.7 384.0h0M655.3 353.3h0M655.5 422.1h0M657.4 383.2h0M658.3 371.5h0M659.8 365.6h0M660.6 340.8h0M660.2 341.6h0M659.1 371.2h0M658.2 359.1h0M658.7 360.1h0M659.4 348.6h0M680.9 357.7h0M678.5 365.0h0M682.7 401.3h0M679.0 326.6h0M679.6 344.7h0M678.9 399.8h0M680.3 312.2h0M679.5 380.7h0M677.6 364.3h0M680.0 393.6h0M678.6 328.7h0M680.8 340.6h0M680.9 343.4h0M680.3 322.5h0M681.0 319.8h0M677.0 341.5h0M700.5 321.5h0M701.9 297.0h0M699.5 346.0h0M701.5 332.4h0M699.9 279.2h0M700.4 351.0h0M700.3 362.5h0M701.4 362.0h0M723.1 271.7h0M724.4 369.2h0M720.6 360.2h0M722.7 265.2h0M723.3 290.9h0M723.0 301.2h0M722.6 341.2h0M724.2 324.4h0M721.4 322.1h0M744.4 289.2h0M745.6 324.4h0M745.2 337.2h0"/>
<path d="M936.3 64.5h0M853.3 162.6h0M829.1 184.2h0M831.6 196.6h0M853.6 248.6h0M874.0 191.4h0M896.4 225.3h0M721.7 259.4h0M762.7 245.5h0M789.4 202.4h0M787.5 275.5h0M786.8 279.4h0M788.0 299.5h0M765.8 283.5h0M766.8 289.5h0M721.1 382.4h0M701.8 392.5h0M593.4 347.2h0M593.1 422.1h0M593.2 423.4h0M593.6 426.5h0M593.2 433.1h0M593.6 433.8h0M593.7 433.8h0M593.8 433.0h0M593.4 433.3h0M593.4 427.1h0M594.3 429.8h0M593.2 418.0h0M592.5 428.2h0M593.3 432.3h0M592.4 429.8h0M593.6 433.7h0M593.4 429.5h0M594.1 429.2h0M594.0 431.7h0M593.5 431.8h0M593.0 429.2h0M593.5 433.5h0M593.7 428.8h0M593.6 429.2h0M593.2 421.7h0M593.3 376.5h0M592.7 414.5h0M593.7 424.6h0M594.1 420.2h0M593.8 421.1h0M592.3 422.9h0M593.5 432.7h0M594.3 433.1h0M592.6 426.8h0M593.2 427.2h0M592.6 412.5h0M593.5 433.3h0M593.4 422.0h0M594.4 425.1h0M592.8 410.9h0M593.4 432.1h0M593.4 414.8h0M593.6 431.7h0M594.0 433.0h0M593.1 433.1h0M593.2 433.8h0M593.4 433.5h0M593.3 433.8h0M592.8 404.7h0M593.2 430.3h0M593.5 424.9h0M593.7 393.9h0M593.4 431.0h0M593.6 433.0h0M593.4 416.6h0M593.8 432.3h0M593.5 426.8h0M593.9 423.3h0M593.3 418.9h0M593.2 426.0h0M593.7 409.3h0M592.8 432.4h0M592.7 417.4h0M593.5 433.8h0M593.4 432.7h0M593.4 433.8h0M593.7 432.2h0M592.9 427.4h0M592.8 402.1h0M594.7 408.9h0M593.7 425.1h0M593.6 433.4h0M593.5 432.7h0M593.3 433.7h0M593.6 429.3h0M593.5 403.5h0M593.7 429.1h0M593.8 428.1h0M594.2 429.8h0M594.4 429.0h0M593.2 433.3h0M593.4 433.7h0M593.1 400.7h0M593.7 371.2h0M593.5 429.3h0M593.1 403.6h0M594.0 429.1h0M593.8 416.0h0M593.4 433.7h0M594.1 430.6h0M593.5 433.1h0M593.6 419.4h0M593.3 433.6h0M593.4 413.8h0M593.3 428.6h0M593.0 423.9h0M594.1 404.6h0M593.2 430.8h0M593.2 432.0h0M592.9 430.6h0M594.1 432.0h0M593.4 433.8h0M593.6 433.7h0M594.2 432.8h0M593.3 433.6h0M593.2 433.8h0M593.8 429.3h0M593.4 433.7h0M593.6 433.2h0M592.3 430.2h0M593.6 433.2h0M593.4 428.7h0M592.9 427.0h0M593.6 433.6h0M593.3 433.8h0M592.8 432.4h0M592.9 427.4h0M592.9 430.9h0M594.2 432.7h0M593.4 429.9h0M592.4 427.9h0M594.0 425.9h0M615.4 348.8h0M614.6 421.3h0M614.8 403.0h0M614.6 415.9h0M614.4 391.4h0M614.8 421.4h0M615.3 431.2h0M616.1 397.6h0M615.2 428.3h0M615.0 377.2h0M615.7 430.9h0M615.5 413.1h0M616.1 396.6h0M614.9 412.0h0M616.5 388.4h0M614.5 414.8h0M614.7 353.0h0M614.1 428.8h0M615.0 404.0h0M613.8 406.8h0M615.8 412.1h0M615.9 424.4h0M613.8 425.6h0M614.2 419.4h0M614.5 407.3h0M615.0 423.8h0M615.4 383.7h0M614.6 423.0h0M614.6 379.7h0M615.2 423.7h0M615.2 424.1h0M615.1 410.8h0M614.0 405.9h0M616.8 424.9h0M615.5 406.3h0M614.6 406.3h0M614.8 415.2h0M613.8 403.7h0M616.1 365.1h0M615.9 364.6h0M615.5 415.5h0M615.0 421.8h0M615.5 409.4h0M615.7 430.9h0M614.5 411.1h0M615.3 387.4h0M614.2 408.1h0M614.8 429.0h0M614.2 426.9h0M615.0 416.1h0M615.5 423.5h0M615.3 432.4h0M616.9 398.2h0M614.7 416.7h0M614.1 387.8h0M615.8 416.2h0M614.9 416.7h0M616.2 415.0h0M615.6 421.6h0M615.4 422.6h0M636.8 400.3h0M635.6 410.1h0M635.1 408.4h0M636.2 411.2h0M638.5 364.5h0M638.1 383.2h0M637.2 412.8h0M637.7 385.5h0M636.3 396.8h0M635.2 412.2h0M638.0 423.4h0M637.4 370.6h0M637.5 399.1h0M637.1 407.5h0M637.6 379.3h0M635.5 371.3h0M635.9 368.9h0M636.9 402.3h0M636.9 407.7h0M636.7 416.7h0M634.8 402.6h0M636.7 383.8h0M638.8 406.8h0M636.5 397.9h0M637.0 424.3h0M636.9 392.7h0M636.3 403.4h0M637.8 394.8h0M636.8 416.4h0M636.8 389.2h0M636.7 386.7h0M636.2 383.2h0M636.3 422.0h0M636.9 372.3h0M637.0 372.9h0M634.9 407.7h0M636.9 432.1h0M636.4 418.7h0M634.4 359.8h0M636.0 396.8h0M638.2 426.8h0M636.4 400.2h0M637.4 336.1h0M635.9 397.4h0M635.8 388.4h0M657.5 334.5h0M657.7 416.5h0M657.6 414.2h0M657.8 333.7h0M657.6 419.8h0M659.2 392.8h0M657.4 400.3h0M657.3 350.8h0M658.1 350.3h0M657.7 396.0h0M657.7 413.8h0M659.6 392.4h0M658.5 337.9h0M659.2 362.0h0M658.3 365.9h0M657.3 361.4h0M659.0 348.8h0M658.5 381.4h0M658.1 397.5h0M656.8 357.0h0M657.9 383.8h0M657.8 334.6h0M657.4 378.2h0M657.8 387.6h0M658.7 353.5h0M657.9 367.6h0M657.8 364.0h0M678.8 350.1h0M680.3 307.1h0M679.2 356.6h0M679.2 323.1h0M677.9 320.4h0M680.3 371.3h0M680.1 369.4h0M679.4 358.0h0M681.1 395.1h0M680.1 385.9h0M679.0 306.5h0M678.8 379.7h0M679.0 321.3h0M679.1 370.7h0M681.2 340.5h0M680.5 375.1h0M679.4 419.8h0M680.9 366.7h0M681.8 306.8h0M678.3 351.6h0M679.6 370.3h0M678.9 349.5h0M679.5 379.2h0M680.5 362.4h0M678.5 343.3h0M677.6 386.9h0M700.8 309.2h0M705.0 330.7h0M698.6 319.5h0M700.3 366.8h0M700.8 389.9h0M699.8 328.1h0M700.0 368.5h0M701.2 297.1h0M702.2 302.6h0M702.6 270.5h0M723.8 331.4h0M723.8 326.2h0M722.6 332.2h0M721.8 331.0h0M722.9 272.4h0M724.6 350.9h0M723.7 282.7h0M721.6 268.5h0M720.3 334.8h0M744.9 326.4h0M741.6 282.3h0M742.3 331.5h0M746.4 316.7h0M747.6 302.7h0M743.5 288.8h0M745.0 312.3h0M744.4 289.1h0"/>
<path d="M959.4 108.6h0M806.8 279.3h0M831.3 274.4h0M853.0 187.5h0M874.3 226.4h0M725.0 246.4h0M762.3 201.5h0M787.3 210.6h0M764.9 267.1h0M768.4 326.4h0M766.0 342.4h0M787.8 368.5h0M658.8 271.6h0M657.5 314.5h0M680.3 268.5h0M593.9 432.2h0M592.4 419.5h0M593.5 390.9h0M593.4 433.1h0M593.0 430.9h0M593.8 428.2h0M594.0 414.4h0M593.7 433.8h0M594.1 406.5h0M593.5 433.8h0M594.3 432.6h0M592.6 430.6h0M593.7 433.8h0M593.8 419.3h0M593.3 433.4h0M594.6 426.0h0M593.4 415.2h0M592.9 426.8h0M593.5 433.8h0M594.1 433.1h0M594.2 427.6h0M593.4 428.6h0M593.4 429.0h0M593.1 428.1h0M593.2 433.7h0M594.1 429.3h0M592.5 431.3h0M593.3 433.8h0M593.7 433.3h0M593.3 360.5h0M592.9 428.8h0M594.4 432.6h0M593.6 433.2h0M593.3 425.5h0M592.5 418.0h0M593.7 433.4h0M594.2 422.3h0M593.7 432.9h0M594.0 432.8h0M593.4 433.0h0M593.7 432.9h0M593.2 433.8h0M593.5 433.8h0M592.6 431.5h0M593.3 408.8h0M593.0 409.0h0M593.5 424.5h0M593.4 428.7h0M592.5 425.0h0M594.4 422.6h0M593.3 417.7h0M593.3 419.5h0M594.1 415.3h0M593.7 433.8h0M593.4 432.6h0M594.1 418.1h0M593.9 406.8h0M593.3 394.2h0M593.7 432.8h0M594.0 426.4h0M593.3 433.6h0M594.9 430.5h0M593.8 423.0h0M592.9 432.0h0M593.2 418.1h0M592.5 416.7h0M594.1 413.9h0M593.6 432.4h0M592.9 423.4h0M592.5 429.7h0M593.1 423.9h0M593.7 433.5h0M594.8 430.4h0M593.6 433.0h0M593.5 432.3h0M592.8 427.0h0M593.2 391.2h0M593.8 430.6h0M593.5 433.8h0M593.7 432.9h0M593.4 433.1h0M593.9 431.8h0M593.4 431.4h0M594.1 427.1h0M594.4 431.2h0M593.0 432.2h0M593.4 432.1h0M594.1 431.3h0M593.9 427.4h0M593.1 432.8h0M593.0 424.5h0M593.7 430.2h0M594.8 406.0h0M592.3 414.0h0M592.4 416.4h0M593.8 403.1h0M594.3 431.5h0M593.3 425.8h0M593.3 433.0h0M593.6 431.4h0M593.1 355.8h0M593.2 433.6h0M593.6 432.6h0M593.7 432.5h0M592.7 426.8h0M593.2 432.1h0M593.1 425.7h0M593.3 413.1h0M593.8 429.2h0M594.1 419.3h0M593.6 433.5h0M593.1 425.7h0M593.7 432.9h0M594.4 419.7h0M593.3 427.5h0M593.3 433.7h0M593.3 418.5h0M593.9 432.0h0M592.6 422.2h0M593.4 433.5h0M593.9 430.7h0M593.7 411.7h0M592.8 429.1h0M593.5 427.4h0M594.1 432.8h0M593.3 422.0h0M593.6 431.9h0M593.7 432.5h0M593.3 433.8h0M592.3 426.2h0M594.2 431.1h0M592.9 433.7h0M593.6 433.8h0M592.8 425.0h0M594.0 400.9h0M594.0 408.0h0M593.3 430.6h0M593.9 431.7h0M593.3 433.1h0M593.8 433.7h0M593.4 433.7h0M593.9 433.8h0M593.6 426.1h0M593.8 432.6h0M593.8 433.7h0M594.0 403.3h0M593.4 433.6h0M593.4 433.8h0M613.3 409.4h0M615.0 352.6h0M615.3 409.8h0M614.3 424.3h0M614.6 410.8h0M615.2 408.9h0M614.7 420.8h0M615.0 403.2h0M615.4 372.7h0M614.8 429.8h0M615.2 417.8h0M613.7 380.4h0M613.9 399.8h0M614.9 430.2h0M614.8 416.8h0M616.0 406.4h0M615.3 409.4h0M615.4 403.7h0M615.1 402.4h0M614.9 384.2h0M616.7 416.5h0M615.5 429.4h0M615.5 399.3h0M614.7 406.2h0M615.3 423.6h0M614.4 411.4h0M614.6 416.0h0M616.0 419.4h0M615.5 408.2h0M614.7 397.0h0M614.7 425.3h0M615.0 400.9h0M615.5 413.7h0M615.0 417.3h0M614.6 368.6h0M614.8 383.9h0M615.6 413.7h0M616.2 371.3h0M614.8 347.7h0M615.4 424.6h0M615.6 398.4h0M614.9 408.5h0M614.1 402.5h0M613.8 424.9h0M614.1 420.1h0M614.7 424.9h0M615.8 390.7h0M616.3 417.7h0M635.1 390.0h0M635.9 409.1h0M637.8 418.6h0M636.7 361.7h0M635.1 401.7h0M636.7 391.3h0M635.2 424.1h0M636.3 394.1h0M638.3 359.4h0M635.4 406.0h0M635.5 393.5h0M636.8 371.8h0M639.3 414.8h0M637.2 391.8h0M637.4 370.9h0M634.3 384.8h0M636.4 355.2h0M637.5 323.6h0M636.2 395.1h0M637.1 357.0h0M635.3 384.0h0M637.0 422.4h0M635.8 421.4h0M636.5 381.5h0M636.0 365.9h0M636.3 371.9h0M636.8 397.8h0M635.6 386.7h0M635.3 422.7h0M657.3 368.7h0M656.9 352.2h0M656.9 369.1h0M658.1 393.8h0M658.0 375.3h0M657.3 403.4h0M658.1 369.1h0M654.7 386.9h0M657.9 406.7h0M659.0 368.8h0M658.1 384.5h0M658.2 383.1h0M658.0 388.4h0M659.8 403.7h0M658.3 417.9h0M656.7 393.0h0M658.7 384.8h0M657.3 371.5h0M658.9 355.0h0M658.2 403.4h0M656.1 376.0h0M659.0 355.5h0M658.5 370.3h0M657.4 346.2h0M655.7 354.3h0M658.5 401.3h0M658.8 378.2h0M678.3 372.6h0M680.5 373.3h0M679.1 328.0h0M680.5 361.7h0M679.9 379.0h0M678.3 371.3h0M681.4 384.6h0M679.3 338.1h0M682.0 363.7h0M680.7 381.1h0M679.6 367.5h0M678.2 360.2h0M679.6 326.6h0M681.2 353.2h0M678.5 386.5h0M700.1 378.6h0M701.7 309.4h0M701.4 288.8h0M701.5 318.2h0M702.3 324.4h0M702.6 317.0h0M700.9 360.3h0M701.2 361.5h0M702.4 347.6h0M701.4 334.3h0M702.5 312.6h0M702.5 341.9h0M703.1 267.1h0M700.7 303.5h0M699.6 318.2h0M701.2 307.3h0M724.0 314.6h0M719.5 306.1h0M722.1 291.8h0M721.2 343.8h0M725.0 331.9h0M723.3 365.1h0M724.3 296.2h0M724.2 339.6h0M720.4 326.6h0M723.8 276.0h0M723.5 316.3h0M723.7 301.9h0M720.6 270.3h0M723.6 287.4h0M745.2 299.2h0M742.5 301.2h0M745.1 269.4h0"/>
<path d="M808.4 162.6h0M873.3 175.2h0M809.7 187.5h0M809.2 244.5h0M807.0 293.6h0M832.0 208.4h0M853.7 210.5h0M851.6 229.5h0M873.5 207.5h0M744.5 236.4h0M763.5 209.5h0M765.7 235.9h0M767.2 260.1h0M789.0 308.1h0M784.4 321.4h0M767.0 267.5h0M763.4 281.5h0M767.6 307.5h0M766.3 349.4h0M743.5 352.5h0M744.5 358.5h0M720.9 384.5h0M721.2 387.2h0M700.9 397.5h0M639.2 286.5h0M679.5 274.4h0M680.3 253.6h0M594.0 429.4h0M594.1 421.0h0M593.9 433.8h0M593.9 399.6h0M593.4 433.8h0M593.7 415.9h0M593.1 433.0h0M593.9 427.8h0M593.9 432.6h0M593.9 433.0h0M593.9 433.0h0M593.3 432.7h0M593.1 428.9h0M593.1 376.5h0M593.2 433.0h0M594.4 422.5h0M593.5 433.7h0M593.4 433.8h0M593.1 433.4h0M593.8 421.8h0M593.6 433.7h0M593.7 433.8h0M594.1 432.7h0M594.2 421.6h0M593.6 414.8h0M593.3 433.8h0M593.0 426.1h0M593.5 422.8h0M593.6 430.2h0M594.3 420.6h0M592.6 432.2h0M593.1 427.9h0M593.5 432.4h0M593.3 433.7h0M593.4 418.1h0M594.2 398.5h0M594.1 422.8h0M593.6 393.2h0M593.3 392.6h0M594.3 432.3h0M592.9 426.3h0M593.5 432.8h0M594.4 432.4h0M593.6 431.3h0M593.1 432.7h0M594.0 424.6h0M594.2 429.7h0M593.0 426.1h0M592.9 433.2h0M592.6 419.8h0M593.9 404.5h0M593.8 425.5h0M593.7 433.5h0M594.0 420.8h0M594.6 416.3h0M593.1 432.5h0M594.3 424.2h0M593.9 430.1h0M594.2 427.8h0M593.4 433.4h0M593.1 422.9h0M593.4 431.9h0M593.3 433.1h0M593.9 429.4h0M593.6 433.7h0M593.9 433.5h0M593.1 427.4h0M593.7 419.5h0M593.6 433.8h0M593.4 433.5h0M593.3 433.8h0M592.5 417.2h0M593.4 433.2h0M593.6 433.0h0M594.5 422.1h0M593.7 390.1h0M594.0 423.1h0M593.2 432.6h0M593.5 433.8h0M592.4 426.1h0M592.2 417.9h0M593.9 433.0h0M594.0 431.7h0M593.5 428.6h0M593.6 431.3h0M594.2 424.8h0M593.3 418.7h0M593.9 418.9h0M594.1 426.7h0M593.6 433.7h0M593.1 433.6h0M593.9 411.8h0M593.7 433.5h0M593.6 433.3h0M593.0 432.1h0M592.7 431.2h0M592.8 415.4h0M594.1 430.9h0M593.1 431.0h0M593.2 387.4h0M593.4 430.3h0M593.2 381.0h0M593.3 417.8h0M594.2 431.4h0M593.4 433.7h0M593.6 433.8h0M594.1 429.3h0M592.9 431.4h0M593.7 410.4h0M593.5 433.8h0M592.9 431.9h0M593.4 431.6h0M593.8 429.4h0M594.3 426.3h0M593.7 433.8h0M593.2 431.8h0M592.5 427.4h0M593.9 432.1h0M593.6 419.0h0M592.5 391.6h0M594.0 428.9h0M593.3 431.5h0M592.9 427.5h0M593.5 433.8h0M593.2 427.7h0M592.7 430.8h0M593.6 433.0h0M592.6 425.2h0M593.5 433.4h0M593.9 432.2h0M592.5 403.1h0M593.5 429.8h0M593.4 432.5h0M593.2 433.1h0M593.7 398.9h0M594.2 419.2h0M593.3 433.4h0M593.6 431.2h0M593.2 431.2h0M593.7 433.0h0M592.9 419.1h0M593.5 425.0h0M594.5 428.3h0M594.1 431.4h0M594.2 373.0h0M593.7 432.3h0M593.5 433.2h0M593.7 431.0h0M593.6 433.7h0M593.4 432.8h0M615.6 414.0h0M615.8 427.4h0M615.3 400.5h0M615.1 369.0h0M614.6 419.6h0M614.3 431.2h0M615.3 422.4h0M616.2 387.8h0M614.3 417.3h0M614.8 415.4h0M613.9 406.5h0M614.8 431.1h0M615.7 394.1h0M615.0 416.6h0M616.2 405.8h0M615.2 428.7h0M613.5 423.5h0M614.9 396.7h0M615.2 397.1h0M614.2 390.8h0M614.4 429.0h0M613.7 422.5h0M615.7 431.2h0M614.0 409.5h0M615.5 389.0h0M615.3 412.7h0M616.2 387.5h0M613.5 380.8h0M613.7 407.8h0M614.4 433.0h0M615.2 419.6h0M615.6 407.7h0M614.9 414.6h0M615.9 426.3h0M613.1 392.5h0M616.5 415.2h0M615.1 416.1h0M614.0 409.0h0M614.5 408.0h0M615.6 419.8h0M614.4 397.2h0M613.8 418.6h0M615.6 388.7h0M615.9 397.7h0M614.8 414.9h0M615.1 405.9h0M615.2 424.8h0M615.6 429.0h0M615.0 363.5h0M614.0 413.6h0M613.9 428.9h0M614.9 426.0h0M615.2 429.6h0M614.4 417.6h0M615.1 418.0h0M616.3 419.4h0M615.7 425.9h0M613.7 395.9h0M614.4 423.3h0M614.8 423.8h0M615.1 373.3h0M615.0 394.4h0M615.2 419.2h0M616.2 417.5h0M615.7 428.9h0M636.8 376.7h0M637.6 418.0h0M635.3 326.4h0M635.9 405.9h0M639.3 354.0h0M636.1 405.5h0M636.6 421.7h0M636.8 394.9h0M636.0 376.7h0M636.8 325.7h0M636.1 417.1h0M635.6 414.9h0M637.0 350.9h0M636.0 376.5h0M635.5 421.5h0M637.6 420.9h0M634.7 369.7h0M636.3 408.6h0M635.9 363.6h0M636.7 393.8h0M637.3 419.1h0M636.0 394.9h0M638.2 391.1h0M636.2 385.7h0M636.1 387.4h0M635.2 377.3h0M639.0 412.2h0M638.1 411.4h0M636.2 420.9h0M635.0 326.1h0M637.0 372.2h0M635.3 335.4h0M634.7 386.1h0M638.3 401.6h0M637.6 416.9h0M660.6 342.2h0M658.9 370.3h0M659.2 400.1h0M658.0 384.6h0M656.8 362.0h0M658.9 380.9h0M659.5 350.7h0M657.2 344.4h0M660.0 401.0h0M657.9 357.7h0M657.5 404.0h0M657.1 356.8h0M658.9 386.3h0M661.1 391.4h0M658.1 363.9h0M659.7 390.3h0M656.1 388.5h0M659.3 397.2h0M657.2 407.4h0M659.0 380.3h0M658.4 363.7h0M657.9 378.8h0M657.7 423.3h0M679.1 315.1h0M679.3 331.4h0M680.1 352.8h0M680.9 333.1h0M680.1 370.0h0M680.9 401.1h0M679.5 417.9h0M680.2 361.2h0M680.2 332.9h0M679.2 323.5h0M678.3 336.2h0M679.7 403.5h0M679.3 410.2h0M702.7 343.8h0M700.7 353.8h0M701.0 360.2h0M702.9 314.0h0M700.8 308.5h0M703.1 379.2h0M700.4 351.1h0M700.3 370.6h0M699.0 359.1h0M704.8 343.2h0M698.6 388.1h0M701.0 342.6h0M701.5 365.1h0M723.9 323.4h0M722.5 339.9h0M725.2 322.8h0M720.5 353.1h0M727.1 303.7h0M722.1 340.5h0M722.2 270.7h0M745.0 271.6h0M745.1 297.5h0M743.1 280.4h0M744.0 328.8h0M743.9 292.9h0M745.3 315.4h0M743.5 319.4h0"/>
<path d="M854.4 165.6h0M875.5 173.5h0M808.6 227.3h0M809.0 282.3h0M814.0 289.5h0M831.1 181.2h0M829.7 276.6h0M850.4 252.5h0M854.8 292.5h0M892.6 241.5h0M895.6 245.6h0M699.9 241.4h0M701.6 245.7h0M725.6 201.5h0M743.9 230.5h0M746.8 249.4h0M747.6 259.4h0M766.8 236.4h0M762.7 235.5h0M763.6 256.7h0M786.4 247.8h0M784.5 290.1h0M764.4 367.4h0M593.0 432.4h0M593.7 433.7h0M593.5 433.2h0M593.6 432.6h0M592.6 416.9h0M593.3 425.7h0M593.6 432.5h0M593.1 407.1h0M593.3 433.7h0M594.3 431.4h0M594.1 404.8h0M593.5 433.8h0M593.5 433.8h0M592.6 426.6h0M593.8 422.1h0M593.0 424.8h0M593.2 415.5h0M593.3 433.6h0M594.1 431.0h0M592.3 414.6h0M594.0 430.9h0M593.5 423.3h0M593.8 433.6h0M593.6 392.2h0M593.3 431.9h0M594.1 386.5h0M593.5 433.6h0M592.8 419.4h0M592.6 429.2h0M593.7 432.2h0M592.2 419.1h0M594.3 431.7h0M594.1 394.7h0M594.1 433.3h0M592.4 415.0h0M593.7 425.8h0M593.6 433.7h0M593.3 432.0h0M593.9 418.5h0M594.0 420.9h0M593.0 425.5h0M593.1 432.4h0M593.9 423.6h0M593.5 397.1h0M593.8 421.0h0M593.3 433.6h0M593.9 424.0h0M592.7 418.6h0M592.5 422.4h0M593.4 424.9h0M593.5 410.1h0M593.9 427.3h0M593.0 432.6h0M594.0 429.7h0M593.8 432.4h0M594.4 429.0h0M593.7 433.3h0M592.7 428.4h0M592.7 412.9h0M593.5 433.8h0M594.5 422.3h0M593.8 425.9h0M593.6 425.4h0M593.3 429.5h0M592.7 410.4h0M593.4 433.7h0M593.5 433.6h0M593.6 416.3h0M593.7 433.1h0M594.5 431.1h0M593.3 430.6h0M594.1 418.3h0M592.6 423.1h0M593.1 431.3h0M593.5 432.8h0M591.8 416.1h0M594.1 433.0h0M593.8 420.2h0M593.8 433.7h0M592.3 425.9h0M592.4 425.4h0M593.4 433.6h0M593.8 429.8h0M592.8 433.3h0M593.8 426.4h0M593.7 418.1h0M594.0 428.4h0M594.3 408.6h0M593.3 432.9h0M592.7 430.9h0M594.5 373.7h0M594.6 417.0h0M592.4 429.4h0M593.7 433.7h0M593.2 430.0h0M593.4 433.7h0M594.1 430.6h0M594.6 425.4h0M593.7 428.4h0M593.4 432.8h0M593.8 422.3h0M593.2 426.1h0M592.5 427.7h0M593.5 433.7h0M593.6 429.7h0M593.6 432.7h0M593.6 420.2h0M594.4 418.5h0M593.8 433.5h0M593.9 432.2h0M593.6 433.7h0M593.5 433.8h0M594.0 424.3h0M592.8 408.6h0M593.6 433.8h0M593.4 432.9h0M594.1 406.1h0M593.8 429.9h0M593.0 429.8h0M594.1 433.5h0M592.3 431.5h0M593.3 433.6h0M593.8 427.7h0M592.5 431.5h0M593.7 407.1h0M593.7 433.8h0M593.4 433.5h0M593.7 431.1h0M593.7 433.7h0M593.7 412.4h0M592.5 427.2h0M593.1 399.5h0M593.9 386.7h0M593.5 433.6h0M613.4 431.0h0M615.1 412.5h0M615.4 417.2h0M614.8 430.4h0M613.6 428.8h0M614.7 384.9h0M614.9 403.1h0M614.7 426.0h0M615.9 391.6h0M614.9 430.0h0M614.9 414.8h0M614.5 400.9h0M616.2 403.1h0M615.2 431.7h0M614.4 414.8h0M615.6 428.4h0M615.1 420.0h0M615.9 374.9h0M615.6 351.0h0M616.5 417.8h0M615.5 379.3h0M615.6 383.9h0M614.1 390.5h0M616.2 423.1h0M616.2 408.0h0M615.0 396.6h0M616.1 420.1h0M615.7 382.5h0M615.5 391.7h0M615.2 423.3h0M615.5 419.7h0M616.0 428.8h0M614.1 401.6h0M614.7 387.8h0M614.6 400.9h0M615.2 408.0h0M615.2 414.7h0M614.4 390.7h0M615.6 393.9h0M614.0 390.9h0M613.3 423.1h0M614.6 417.4h0M615.2 400.9h0M614.6 395.9h0M615.1 395.0h0M615.8 429.3h0M615.7 413.7h0M636.0 333.0h0M636.3 411.0h0M638.8 419.1h0M637.1 397.5h0M635.2 403.5h0M635.8 350.4h0M637.6 402.4h0M636.3 417.6h0M636.1 367.4h0M635.5 392.8h0M635.8 362.9h0M637.7 355.3h0M636.9 388.5h0M636.1 371.4h0M635.5 330.1h0M637.9 410.4h0M633.3 410.5h0M636.1 421.4h0M635.9 385.5h0M637.1 396.2h0M635.3 413.0h0M637.0 396.9h0M636.5 412.8h0M637.5 385.0h0M638.1 390.0h0M637.0 426.7h0M636.9 359.8h0M635.9 349.9h0M637.2 407.5h0M638.3 399.2h0M636.7 400.5h0M636.3 397.2h0M634.6 387.1h0M636.5 357.8h0M636.5 359.1h0M636.1 376.9h0M635.6 329.3h0M636.9 428.4h0M636.7 416.3h0M635.9 401.8h0M636.9 415.9h0M636.1 366.7h0M656.8 394.8h0M658.7 353.8h0M658.4 388.3h0M657.2 390.3h0M659.0 345.0h0M658.4 360.8h0M655.9 353.2h0M659.0 340.5h0M657.9 392.0h0M658.2 386.5h0M656.6 381.0h0M657.3 389.4h0M656.1 400.4h0M656.8 400.4h0M658.3 368.4h0M658.5 413.8h0M657.7 365.8h0M658.9 427.4h0M681.2 380.0h0M679.2 353.0h0M681.5 316.4h0M678.8 326.3h0M680.5 318.9h0M678.7 361.1h0M676.9 396.7h0M677.9 322.9h0M679.5 345.3h0M680.3 322.6h0M679.9 304.1h0M700.1 379.4h0M704.4 314.8h0M701.2 311.6h0M704.0 312.3h0M700.3 369.7h0M702.9 301.1h0M700.6 332.0h0M701.8 369.0h0M723.1 312.7h0M722.8 274.8h0M722.5 339.8h0M721.5 368.0h0M722.0 317.9h0M721.6 264.3h0M721.6 272.1h0M725.2 311.7h0M745.0 327.8h0M744.6 319.2h0M743.2 296.8h0M744.3 320.9h0"/>
<path d="M918.5 55.5h0M894.4 150.5h0M808.9 183.2h0M810.7 192.5h0M808.5 245.6h0M829.4 188.4h0M829.8 194.4h0M895.3 180.4h0M896.0 246.4h0M808.8 341.5h0M704.6 229.5h0M701.1 260.1h0M721.8 229.5h0M768.4 252.5h0M785.8 263.4h0M767.4 296.5h0M768.6 305.6h0M700.3 401.4h0M613.9 274.4h0M614.4 298.3h0M614.2 321.4h0M658.3 307.5h0M657.2 320.5h0M679.1 286.5h0M593.4 433.7h0M592.0 430.1h0M593.5 433.7h0M594.0 429.7h0M593.1 419.9h0M592.5 428.6h0M593.9 430.6h0M593.5 390.8h0M594.2 414.9h0M593.9 433.7h0M594.1 430.5h0M593.4 421.6h0M594.1 427.2h0M592.7 430.4h0M592.8 432.3h0M593.1 427.4h0M593.6 432.8h0M593.4 433.0h0M592.4 420.8h0M593.8 433.8h0M593.7 433.8h0M593.0 431.2h0M594.1 430.3h0M594.1 433.2h0M593.4 431.1h0M593.8 431.5h0M593.4 429.4h0M593.3 433.8h0M593.7 425.0h0M592.8 430.5h0M593.4 426.3h0M593.6 430.3h0M593.1 432.8h0M593.3 433.4h0M593.9 427.8h0M592.8 432.3h0M593.1 426.7h0M593.5 433.8h0M593.5 431.6h0M593.9 424.5h0M593.5 433.8h0M592.8 429.2h0M593.1 427.7h0M593.3 432.9h0M593.7 427.6h0M592.8 430.3h0M593.2 433.3h0M593.1 430.1h0M594.6 415.4h0M593.4 410.1h0M594.0 433.7h0M593.7 433.3h0M593.6 433.8h0M593.6 433.3h0M593.2 432.0h0M594.0 432.0h0M593.0 432.6h0M594.4 405.7h0M593.2 432.1h0M592.6 428.2h0M593.1 420.2h0M593.7 428.0h0M592.9 406.4h0M593.2 433.5h0M593.3 419.2h0M594.4 428.7h0M592.3 412.4h0M593.5 432.6h0M594.3 432.0h0M593.7 432.6h0M594.0 427.7h0M593.1 394.4h0M594.2 425.3h0M593.2 425.7h0M593.0 424.6h0M593.7 433.8h0M593.5 404.7h0M593.3 408.6h0M593.9 428.8h0M594.5 410.7h0M594.8 418.8h0M593.2 433.8h0M594.0 431.9h0M593.5 399.5h0M593.6 426.9h0M594.0 425.3h0M593.4 427.3h0M593.6 433.8h0M594.1 429.8h0M594.4 429.4h0M593.8 427.6h0M593.9 401.1h0M594.0 427.6h0M592.6 431.9h0M594.3 430.5h0M592.9 431.6h0M592.7 424.5h0M593.5 369.4h0M593.5 433.8h0M593.4 433.5h0M594.7 430.3h0M593.3 433.8h0M592.9 431.3h0M593.5 433.8h0M593.6 433.7h0M594.7 390.3h0M594.1 428.8h0M593.0 420.2h0M593.5 433.6h0M593.3 433.6h0M593.5 428.2h0M593.3 432.7h0M593.9 433.0h0M594.6 431.0h0M616.3 392.0h0M614.8 425.2h0M614.6 422.0h0M614.6 409.7h0M615.4 427.7h0M614.4 422.8h0M614.4 392.5h0M615.0 424.8h0M615.3 399.1h0M613.8 412.9h0M615.3 423.9h0M614.6 362.2h0M614.3 403.6h0M614.4 420.4h0M614.1 411.8h0M614.0 359.2h0M615.8 371.4h0M613.7 432.4h0M616.5 408.9h0M613.9 409.8h0M615.9 422.7h0M616.0 424.5h0M614.6 404.0h0M615.3 393.9h0M614.0 415.1h0M614.1 410.1h0M614.7 422.6h0M614.8 406.9h0M615.1 398.8h0M616.4 400.4h0M616.2 401.3h0M614.5 420.4h0M615.0 421.6h0M614.5 388.1h0M615.1 399.0h0M615.3 354.8h0M614.9 409.6h0M614.7 413.9h0M615.2 428.0h0M615.5 406.8h0M615.7 424.0h0M616.0 393.0h0M615.8 423.9h0M614.8 388.1h0M615.4 380.2h0M616.6 431.5h0M616.2 421.0h0M615.7 417.8h0M615.8 379.1h0M615.6 416.5h0M615.1 420.8h0M614.7 385.1h0M615.6 420.5h0M614.5 403.7h0M615.0 431.3h0M615.3 386.7h0M616.1 429.4h0M614.0 403.1h0M614.4 406.7h0M616.3 423.1h0M615.9 417.8h0M615.5 393.1h0M615.0 416.5h0M614.2 404.5h0M614.8 409.3h0M613.9 426.9h0M637.7 402.5h0M637.6 331.8h0M637.6 420.8h0M636.6 422.3h0M635.6 403.8h0M638.2 427.0h0M637.5 400.4h0M635.7 425.9h0M636.6 417.3h0M636.8 365.1h0M637.1 383.1h0M636.5 416.2h0M635.3 351.5h0M637.1 410.2h0M635.6 416.5h0M635.7 378.0h0M638.0 422.5h0M637.2 429.3h0M637.0 382.3h0M635.4 376.6h0M637.1 384.8h0M636.6 363.6h0M635.0 407.6h0M634.9 416.9h0M658.8 375.8h0M658.0 373.5h0M658.9 391.1h0M658.4 357.8h0M658.4 335.4h0M658.5 381.9h0M658.8 393.2h0M659.0 341.0h0M659.5 400.6h0M657.0 402.2h0M657.5 409.6h0M658.6 405.4h0M656.1 343.2h0M658.5 371.0h0M656.8 348.6h0M657.8 382.7h0M659.4 375.3h0M657.4 391.8h0M657.8 385.6h0M658.1 360.0h0M658.9 414.0h0M655.9 377.3h0M658.9 331.6h0M658.8 345.9h0M659.4 386.2h0M658.3 392.4h0M682.2 353.7h0M678.5 332.2h0M679.1 343.3h0M682.2 336.6h0M679.9 359.8h0M679.9 314.8h0M679.2 307.0h0M677.2 385.5h0M681.9 327.3h0M680.2 391.9h0M680.1 361.3h0M676.5 351.2h0M682.4 370.1h0M678.3 375.7h0M681.1 375.1h0M678.8 335.8h0M680.4 413.0h0M697.1 290.7h0M702.7 326.7h0M699.8 355.3h0M704.0 287.9h0M702.2 311.9h0M701.4 327.3h0M701.1 282.3h0M700.9 385.1h0M723.6 321.8h0M722.1 330.0h0M723.6 290.6h0M723.2 318.0h0M721.8 310.1h0M720.8 318.1h0M720.8 305.5h0M723.8 285.9h0M742.5 324.2h0M741.7 273.1h0M746.0 311.6h0M746.1 301.3h0M743.9 291.1h0"/>
<path d="M894.4 159.6h0M982.4 162.6h0M897.4 171.6h0M851.4 173.5h0M807.1 198.5h0M809.4 254.7h0M810.1 266.4h0M810.3 293.6h0M833.4 192.5h0M854.4 202.3h0M701.4 253.3h0M703.5 254.1h0M723.9 239.5h0M746.5 251.4h0M744.7 258.3h0M768.0 203.5h0M766.8 243.4h0M790.6 205.4h0M767.2 275.5h0M766.7 331.4h0M638.6 281.5h0M657.9 302.5h0M677.8 280.5h0M592.3 431.3h0M593.4 423.7h0M593.7 432.8h0M593.6 433.5h0M594.5 429.4h0M594.1 432.9h0M593.2 432.9h0M593.9 431.3h0M593.6 433.8h0M593.3 419.9h0M593.4 426.5h0M593.4 431.9h0M593.6 433.8h0M594.3 428.6h0M592.9 432.8h0M592.9 422.6h0M593.9 432.3h0M593.5 414.3h0M593.9 430.8h0M593.7 433.7h0M593.0 429.3h0M593.0 378.5h0M593.9 424.3h0M593.2 432.8h0M593.3 431.0h0M593.7 433.0h0M593.7 426.2h0M592.5 425.3h0M593.7 431.9h0M593.1 416.5h0M594.2 422.5h0M592.7 431.1h0M594.2 425.3h0M593.0 406.8h0M593.9 424.3h0M593.9 433.8h0M593.7 430.6h0M593.4 418.5h0M593.8 422.4h0M593.3 433.8h0M594.0 433.1h0M593.5 433.7h0M593.1 427.7h0M594.3 419.5h0M594.5 416.5h0M593.2 414.5h0M594.3 420.0h0M594.5 401.5h0M593.6 433.4h0M592.5 403.6h0M593.3 433.0h0M594.0 421.0h0M592.8 424.7h0M592.9 397.3h0M594.2 411.1h0M593.2 433.4h0M593.4 431.3h0M593.8 433.7h0M594.2 431.9h0M594.5 427.0h0M593.5 432.7h0M593.9 433.7h0M594.1 424.4h0M594.6 431.6h0M593.3 430.0h0M593.8 413.1h0M592.8 430.5h0M593.4 433.8h0M592.5 418.0h0M593.0 415.2h0M593.9 431.3h0M593.2 360.5h0M595.2 397.1h0M594.2 426.4h0M594.5 402.2h0M593.1 432.1h0M593.8 432.7h0M594.2 428.7h0M593.7 433.8h0M594.9 431.9h0M593.1 410.9h0M594.7 403.8h0M592.8 425.4h0M593.8 425.9h0M593.4 429.2h0M593.4 425.6h0M593.3 431.7h0M592.8 374.3h0M593.7 433.7h0M593.8 426.3h0M592.2 430.5h0M593.5 424.8h0M593.4 381.6h0M593.2 400.1h0M593.1 433.3h0M593.8 418.1h0M593.4 430.9h0M593.0 430.2h0M593.2 426.7h0M593.4 433.1h0M593.5 433.6h0M593.1 419.7h0M594.4 374.9h0M593.4 432.3h0M593.7 433.5h0M593.0 423.2h0M593.8 421.9h0M593.8 428.8h0M593.4 366.8h0M592.7 427.1h0M593.3 433.7h0M594.3 396.8h0M593.8 422.7h0M593.9 422.9h0M593.5 433.5h0M593.7 432.5h0M594.3 432.3h0M593.0 433.3h0M593.4 433.6h0M594.4 409.1h0M593.7 431.9h0M593.9 394.3h0M593.5 426.7h0M593.4 424.6h0M593.5 409.3h0M593.3 430.4h0M595.3 427.0h0M593.8 419.3h0M593.4 421.8h0M592.1 425.2h0M593.5 433.7h0M594.5 427.3h0M593.2 428.4h0M593.4 413.1h0M594.0 416.4h0M592.9 432.2h0M594.2 430.0h0M593.4 401.4h0M593.1 433.6h0M593.9 424.5h0M593.5 429.7h0M593.2 421.4h0M593.1 427.2h0M593.5 433.8h0M593.8 429.8h0M593.6 433.4h0M593.8 421.6h0M615.3 415.7h0M615.2 372.0h0M615.1 377.1h0M614.0 398.3h0M616.1 418.3h0M614.1 394.9h0M614.8 421.3h0M615.3 406.2h0M614.0 415.7h0M614.1 425.2h0M614.8 380.2h0M614.8 377.2h0M615.1 429.3h0M614.8 427.2h0M615.5 430.7h0M614.3 411.5h0M615.7 425.0h0M615.0 414.1h0M615.6 367.1h0M614.8 394.4h0M616.3 432.3h0M614.2 425.5h0M613.6 428.9h0M614.8 426.5h0M614.4 392.9h0M615.2 408.9h0M614.5 421.5h0M613.6 409.8h0M614.7 420.4h0M614.2 413.7h0M615.8 414.8h0M615.9 413.8h0M616.7 424.9h0M614.3 425.7h0M614.9 382.1h0M614.6 411.2h0M615.2 352.6h0M615.3 403.5h0M614.6 431.0h0M614.7 405.6h0M614.6 403.2h0M614.8 405.8h0M614.3 398.4h0M615.1 415.7h0M614.0 379.3h0M613.5 391.4h0M614.7 407.7h0M615.1 353.6h0M614.9 390.5h0M614.6 421.8h0M613.9 424.0h0M616.8 396.0h0M615.3 408.1h0M615.3 419.4h0M636.2 408.5h0M637.7 429.7h0M636.2 420.2h0M635.2 417.1h0M635.1 423.8h0M636.6 341.8h0M636.0 379.4h0M636.2 422.0h0M635.3 370.8h0M636.5 400.6h0M638.5 397.2h0M636.3 360.5h0M636.5 408.1h0M636.2 404.3h0M637.2 390.0h0M638.1 394.0h0M638.2 378.4h0M637.3 402.4h0M637.8 408.9h0M635.9 416.9h0M635.4 341.5h0M636.9 394.9h0M636.6 402.1h0M637.9 400.3h0M635.7 402.9h0M636.5 411.3h0M636.5 404.4h0M635.4 423.8h0M636.5 426.9h0M636.4 396.8h0M636.1 420.2h0M635.5 388.4h0M635.6 385.2h0M636.7 394.3h0M636.0 364.6h0M636.5 414.2h0M659.3 355.6h0M659.0 348.4h0M657.9 398.8h0M658.7 380.9h0M657.2 369.4h0M656.4 378.0h0M656.5 349.7h0M658.0 336.1h0M658.0 398.5h0M658.6 390.4h0M659.7 362.1h0M658.9 424.2h0M658.0 322.1h0M657.9 382.1h0M659.1 402.1h0M657.5 409.0h0M660.1 341.3h0M658.4 361.2h0M657.6 384.4h0M657.4 372.3h0M658.9 384.0h0M658.4 391.4h0M657.5 382.0h0M657.9 366.6h0M677.9 319.6h0M679.9 386.3h0M679.0 394.0h0M678.9 355.9h0M678.0 363.8h0M680.5 364.2h0M679.9 345.3h0M679.7 390.4h0M677.3 345.9h0M681.0 356.3h0M680.8 380.8h0M677.2 386.2h0M680.2 418.9h0M679.2 342.9h0M680.7 368.4h0M681.7 362.3h0M704.3 313.7h0M700.4 306.8h0M702.0 279.1h0M702.2 301.1h0M701.4 322.6h0M703.9 362.0h0M702.9 313.2h0M700.7 359.4h0M701.0 321.5h0M701.7 356.6h0M702.5 332.9h0M698.3 350.5h0M702.1 324.4h0M702.1 365.0h0M700.8 362.1h0M724.9 317.0h0M725.4 341.3h0M722.9 348.7h0M726.2 290.3h0M722.9 336.9h0M721.2 363.3h0M725.9 327.8h0M744.9 314.0h0M744.4 313.9h0M745.0 303.4h0M744.4 324.4h0M742.1 333.2h0"/>
<path d="M917.4 59.6h0M852.5 143.4h0M917.4 174.6h0M785.6 89.4h0M809.7 209.5h0M810.5 223.4h0M808.9 225.9h0M807.9 241.5h0M808.9 251.6h0M829.7 215.5h0M829.4 254.7h0M830.0 267.5h0M830.9 277.4h0M851.5 187.5h0M852.5 246.4h0M896.9 232.5h0M745.7 241.4h0M784.8 234.5h0M787.6 251.4h0M788.6 294.5h0M762.4 284.6h0M764.7 302.5h0M765.6 319.5h0M764.8 350.5h0M744.2 362.4h0M702.4 405.5h0M615.7 298.8h0M613.7 339.4h0M656.4 294.5h0M680.2 262.5h0M593.0 415.4h0M592.4 427.4h0M593.9 433.7h0M592.7 415.9h0M593.2 428.4h0M593.8 433.8h0M593.4 429.2h0M592.7 431.5h0M593.3 427.4h0M592.1 416.2h0M593.9 425.9h0M593.6 424.2h0M592.7 424.5h0M593.7 433.2h0M593.7 431.8h0M593.8 433.7h0M592.3 427.9h0M593.2 432.9h0M592.9 430.7h0M593.1 433.1h0M593.3 430.1h0M594.8 420.8h0M594.4 429.8h0M593.3 432.8h0M593.0 430.7h0M593.6 433.6h0M593.3 404.0h0M593.4 416.8h0M593.3 433.6h0M594.8 419.4h0M593.0 433.3h0M593.3 423.4h0M593.4 433.8h0M594.1 422.1h0M592.7 428.8h0M594.3 401.7h0M593.4 405.6h0M594.0 432.7h0M593.7 428.2h0M594.4 432.0h0M594.2 428.4h0M593.0 420.5h0M593.6 433.5h0M593.8 425.6h0M593.8 424.6h0M594.2 415.6h0M593.6 427.1h0M593.8 433.7h0M593.6 433.4h0M593.4 433.7h0M593.7 433.3h0M593.5 433.5h0M593.3 433.5h0M593.5 433.8h0M592.7 405.9h0M593.8 433.7h0M593.1 433.2h0M593.3 429.4h0M593.7 433.8h0M593.5 430.0h0M593.9 431.2h0M593.8 432.6h0M593.4 427.8h0M593.6 429.3h0M593.1 429.5h0M593.0 432.6h0M594.8 429.1h0M592.5 433.4h0M593.3 433.1h0M592.8 430.7h0M593.5 433.8h0M594.0 427.9h0M592.7 423.2h0M593.4 433.3h0M593.8 430.6h0M593.9 415.7h0M593.2 433.8h0M593.1 432.5h0M593.1 431.8h0M593.6 433.6h0M593.2 430.0h0M593.6 433.8h0M593.0 432.0h0M593.6 432.3h0M593.1 422.8h0M594.1 432.7h0M593.4 427.4h0M594.1 433.3h0M593.8 432.3h0M594.5 430.2h0M592.9 426.8h0M592.6 429.3h0M592.8 428.7h0M593.7 433.3h0M593.4 433.7h0M593.8 431.0h0M593.6 433.6h0M593.4 391.0h0M593.3 433.7h0M593.4 433.8h0M593.7 431.0h0M594.4 411.3h0M593.4 432.4h0M594.1 432.0h0M593.3 417.2h0M594.1 420.5h0M593.5 432.4h0M593.9 407.9h0M593.4 433.5h0M593.8 424.2h0M593.0 428.6h0M593.7 433.7h0M593.4 433.8h0M593.7 433.8h0M593.4 418.3h0M593.1 417.4h0M593.1 429.5h0M594.3 431.6h0M592.9 430.8h0M592.9 426.6h0M593.5 432.4h0M592.8 426.4h0M592.9 433.4h0M615.0 426.4h0M615.0 395.8h0M615.5 399.7h0M615.1 385.2h0M616.5 428.4h0M616.6 417.8h0M615.0 407.0h0M615.9 428.6h0M614.7 390.7h0M613.9 417.6h0M614.6 420.0h0M614.7 417.3h0M615.4 425.7h0M614.6 370.3h0M614.7 414.7h0M615.6 367.0h0M615.5 428.2h0M615.2 394.2h0M614.2 426.0h0M614.8 432.0h0M614.8 423.1h0M615.2 383.6h0M615.5 406.1h0M613.8 423.2h0M615.2 410.6h0M615.0 407.1h0M615.4 392.9h0M615.5 408.1h0M615.0 408.8h0M614.6 425.5h0M616.4 415.6h0M615.7 392.9h0M614.8 346.4h0M613.7 403.0h0M615.4 365.4h0M614.6 388.6h0M615.9 425.9h0M616.1 405.0h0M613.4 428.4h0M615.2 423.6h0M615.5 384.1h0M614.7 403.2h0M613.5 411.2h0M613.8 427.3h0M615.2 427.6h0M616.0 398.8h0M615.8 380.6h0M614.3 394.4h0M614.6 403.8h0M615.5 417.7h0M615.0 415.6h0M615.1 417.5h0M614.5 371.8h0M615.6 412.9h0M637.1 393.7h0M636.8 406.8h0M636.1 347.6h0M634.3 392.7h0M635.7 357.7h0M636.6 382.9h0M634.9 360.2h0M636.0 322.9h0M636.5 348.3h0M637.9 369.0h0M635.7 415.3h0M636.0 409.9h0M635.5 397.8h0M635.9 392.4h0M637.1 403.0h0M635.0 408.2h0M636.3 374.1h0M632.8 395.5h0M635.8 386.7h0M638.3 366.9h0M636.8 391.7h0M637.2 404.8h0M635.4 335.1h0M635.8 431.8h0M637.3 401.3h0M636.2 365.9h0M636.1 356.1h0M634.1 420.8h0M636.6 354.1h0M636.8 402.1h0M636.4 402.2h0M636.1 377.8h0M634.7 413.8h0M635.9 385.6h0M636.3 410.3h0M637.2 384.9h0M636.6 376.6h0M636.6 424.3h0M636.0 408.0h0M637.1 373.4h0M657.9 391.6h0M657.6 347.5h0M658.8 394.4h0M658.3 374.8h0M659.0 399.6h0M660.1 380.6h0M659.9 355.0h0M656.3 423.0h0M657.9 357.0h0M656.7 401.3h0M657.8 401.3h0M659.0 392.9h0M658.0 403.0h0M658.3 363.0h0M658.2 401.2h0M656.8 390.9h0M656.3 390.4h0M659.0 349.9h0M657.7 396.9h0M679.7 364.3h0M680.6 358.0h0M680.3 363.2h0M675.7 385.9h0M678.7 380.2h0M679.7 364.8h0M680.6 414.0h0M678.9 332.9h0M678.5 392.6h0M679.6 351.8h0M678.3 380.0h0M679.4 380.4h0M680.3 350.0h0M682.7 384.2h0M678.0 363.6h0M681.6 391.3h0M680.0 394.4h0M681.2 292.8h0M680.4 353.3h0M701.6 336.0h0M699.8 353.3h0M702.7 312.6h0M700.3 389.5h0M702.3 325.4h0M703.2 289.1h0M700.7 368.2h0M703.4 349.5h0M700.7 296.0h0M699.6 362.7h0M700.0 338.1h0M700.9 261.1h0M700.2 303.5h0M701.4 330.7h0M722.6 330.9h0M720.8 337.6h0M719.9 304.2h0M724.0 372.2h0M722.3 338.1h0M725.0 347.1h0M722.8 311.7h0M722.8 368.7h0M720.5 316.0h0M742.7 337.1h0M744.9 324.2h0M747.0 266.8h0M745.1 297.1h0M743.1 291.4h0M743.1 321.4h0M746.6 310.0h0M745.6 305.4h0"/>
<path d="M808.3 183.4h0M808.8 270.5h0M830.4 178.2h0M830.7 183.4h0M830.6 199.3h0M831.7 256.6h0M833.0 264.5h0M831.4 267.5h0M853.3 215.5h0M897.3 180.4h0M723.8 252.3h0M720.1 255.5h0M745.0 236.4h0M744.0 242.7h0M744.1 253.3h0M767.2 260.1h0M764.8 268.5h0M767.1 275.5h0M766.1 314.5h0M765.6 338.7h0M743.4 354.4h0M746.1 358.5h0M615.8 328.5h0M614.8 338.3h0M593.3 392.3h0M593.4 433.0h0M593.8 432.1h0M594.7 431.8h0M592.7 422.1h0M593.2 409.0h0M593.3 433.1h0M593.1 427.8h0M594.2 427.7h0M594.1 432.9h0M594.2 418.8h0M592.6 427.2h0M593.7 428.1h0M593.7 433.1h0M593.5 432.2h0M592.5 431.4h0M594.7 430.2h0M593.0 433.1h0M593.3 433.7h0M593.0 424.4h0M594.2 420.3h0M592.7 425.3h0M593.4 409.0h0M594.4 415.2h0M592.5 431.7h0M594.7 368.4h0M593.1 433.1h0M592.8 412.3h0M592.8 432.2h0M593.8 433.1h0M594.3 424.0h0M593.8 421.5h0M593.4 422.7h0M593.7 421.6h0M593.4 433.7h0M594.1 433.4h0M593.4 431.7h0M592.7 431.3h0M593.8 432.6h0M592.8 416.2h0M592.9 430.1h0M593.5 433.6h0M593.9 433.2h0M593.9 433.1h0M593.2 433.6h0M594.2 429.1h0M593.7 430.7h0M593.5 423.9h0M593.6 433.6h0M593.6 427.3h0M592.8 431.8h0M593.8 422.1h0M592.7 428.5h0M592.8 432.5h0M593.2 424.1h0M593.1 425.7h0M593.2 423.6h0M593.3 433.0h0M593.6 399.0h0M593.8 433.2h0M593.6 433.7h0M593.8 384.9h0M592.6 421.8h0M593.9 433.8h0M594.4 422.7h0M593.7 433.8h0M593.1 429.2h0M593.1 430.4h0M593.8 429.1h0M592.5 431.4h0M593.4 432.5h0M593.5 433.8h0M593.8 433.4h0M594.2 431.2h0M593.9 429.6h0M593.5 432.4h0M594.2 418.3h0M594.3 427.7h0M593.1 425.3h0M592.3 404.0h0M593.5 401.2h0M592.9 430.3h0M593.3 433.8h0M594.2 428.8h0M593.4 431.6h0M594.5 392.0h0M593.6 431.5h0M593.5 433.7h0M594.9 402.2h0M593.5 433.3h0M593.2 431.9h0M593.6 433.5h0M593.9 432.9h0M593.1 408.2h0M593.5 433.5h0M593.3 433.3h0M593.4 359.0h0M593.4 433.7h0M593.4 420.6h0M593.4 428.6h0M594.9 428.5h0M593.6 431.2h0M593.6 432.6h0M593.0 433.4h0M593.4 433.8h0M594.1 426.4h0M593.4 433.8h0M593.2 430.1h0M593.3 433.8h0M593.6 423.0h0M593.6 433.7h0M593.3 433.5h0M592.5 423.6h0M593.8 432.0h0M594.0 430.8h0M592.9 427.5h0M593.1 432.7h0M593.4 433.6h0M592.5 427.8h0M592.5 431.0h0M593.8 424.6h0M593.6 383.6h0M593.6 427.2h0M593.3 433.8h0M593.2 423.8h0M593.4 433.6h0M593.5 432.8h0M593.9 431.2h0M594.0 413.9h0M593.5 429.4h0M594.8 386.9h0M593.1 414.8h0M593.4 433.6h0M593.1 432.0h0M595.7 409.1h0M593.5 392.1h0M593.3 433.8h0M593.6 431.2h0M593.3 433.8h0M594.0 416.0h0M593.7 433.0h0M593.8 421.1h0M594.1 408.0h0M594.3 391.6h0M593.4 428.0h0M594.0 433.1h0M593.8 424.2h0M614.2 424.1h0M615.4 429.3h0M615.3 418.8h0M615.7 362.2h0M616.1 416.0h0M614.5 411.8h0M614.5 430.5h0M615.7 406.7h0M616.1 373.8h0M613.6 418.9h0M614.5 390.9h0M615.2 431.5h0M615.2 405.3h0M615.6 429.3h0M615.5 417.4h0M615.5 423.2h0M614.9 417.5h0M615.4 404.7h0M615.5 361.8h0M615.6 415.4h0M614.8 408.3h0M615.4 410.2h0M614.3 432.6h0M615.1 371.8h0M614.2 401.2h0M613.9 392.5h0M614.9 361.9h0M614.5 415.5h0M613.7 428.4h0M614.5 414.3h0M614.5 415.9h0M615.2 401.6h0M615.0 415.2h0M614.2 418.1h0M614.9 406.3h0M615.1 429.7h0M615.6 414.3h0M615.1 427.1h0M616.0 396.9h0M613.9 413.6h0M616.2 422.6h0M614.5 418.6h0M615.4 399.1h0M615.5 390.8h0M615.0 402.0h0M614.4 378.1h0M614.8 423.9h0M615.2 427.5h0M614.6 426.2h0M615.3 408.6h0M614.6 430.0h0M615.5 423.0h0M614.7 389.0h0M615.4 421.2h0M614.1 388.0h0M614.8 352.2h0M614.7 427.6h0M615.3 394.7h0M615.2 429.8h0M614.8 401.8h0M637.4 395.2h0M635.7 414.1h0M637.5 396.8h0M637.3 400.9h0M637.3 390.5h0M635.4 419.7h0M637.4 425.7h0M636.9 391.6h0M637.1 372.7h0M636.6 380.5h0M635.7 360.9h0M635.7 363.5h0M637.2 343.1h0M636.2 383.0h0M637.4 415.9h0M637.4 418.7h0M636.7 381.7h0M637.2 394.9h0M636.1 393.4h0M634.3 396.9h0M636.8 364.6h0M637.3 400.7h0M636.7 413.0h0M635.6 378.8h0M638.2 402.8h0M636.1 332.4h0M637.8 418.3h0M637.1 382.5h0M637.0 429.2h0M637.1 364.4h0M636.3 340.5h0M637.4 368.3h0M636.1 362.0h0M637.1 400.6h0M636.1 404.2h0M636.4 426.8h0M637.3 408.5h0M638.9 382.2h0M659.3 400.0h0M658.9 327.9h0M660.1 372.7h0M658.7 372.8h0M656.6 360.7h0M657.2 416.9h0M659.4 403.5h0M658.5 373.9h0M657.6 368.2h0M658.9 407.1h0M657.9 362.3h0M657.8 390.9h0M658.0 390.4h0M658.3 399.3h0M657.0 385.6h0M657.1 390.8h0M680.7 337.5h0M679.6 361.2h0M679.5 367.3h0M680.0 370.8h0M679.9 365.3h0M681.6 368.1h0M678.8 368.0h0M679.0 369.1h0M678.1 346.8h0M680.7 358.9h0M681.2 392.9h0M681.5 399.5h0M676.1 369.7h0M679.3 377.3h0M680.2 376.2h0M679.8 385.4h0M680.0 336.7h0M680.2 340.0h0M679.1 332.6h0M681.3 363.3h0M679.2 348.7h0M681.7 357.5h0M681.2 348.7h0M699.2 320.8h0M699.4 347.9h0M701.5 382.8h0M700.5 303.0h0M702.3 334.1h0M699.1 387.1h0M702.1 340.9h0M702.0 325.0h0M703.6 368.6h0M699.9 325.6h0M701.4 303.3h0M700.3 287.9h0M699.5 319.9h0M701.0 362.0h0M701.5 311.7h0M702.1 334.1h0M724.2 346.0h0M722.3 307.9h0M721.4 308.5h0M721.5 299.3h0M745.4 278.5h0M744.4 329.2h0M743.7 263.4h0M742.7 270.4h0M745.3 339.7h0"/>
<path d="M807.6 153.5h0M788.0 155.5h0M808.6 305.3h0M831.5 246.4h0M852.4 219.3h0M851.1 236.6h0M855.1 238.5h0M786.0 226.5h0M788.5 237.5h0M789.6 281.4h0M788.6 310.6h0M764.8 303.1h0M766.0 338.0h0M764.7 360.5h0M742.8 344.5h0M744.5 354.4h0M722.2 379.5h0M616.0 318.4h0M635.0 308.4h0M658.7 292.4h0M593.8 406.8h0M593.7 432.6h0M593.3 411.2h0M593.3 424.4h0M593.4 429.7h0M593.6 433.7h0M593.4 384.7h0M594.1 432.7h0M593.8 423.0h0M593.0 424.8h0M594.6 381.9h0M592.6 428.3h0M594.1 433.7h0M593.3 432.3h0M594.5 426.2h0M593.1 429.2h0M594.6 428.7h0M593.4 418.4h0M593.2 433.3h0M594.4 392.3h0M593.3 397.0h0M592.0 430.3h0M593.2 431.3h0M594.2 432.0h0M593.4 432.7h0M592.8 429.0h0M593.1 433.1h0M593.1 433.1h0M593.0 431.1h0M594.0 430.1h0M594.7 406.3h0M593.3 419.0h0M594.1 406.8h0M593.3 412.1h0M593.2 433.8h0M593.2 433.1h0M592.5 427.9h0M592.4 432.5h0M593.9 420.9h0M592.6 410.0h0M593.8 422.4h0M593.8 403.6h0M593.8 433.2h0M592.2 410.1h0M592.5 427.1h0M594.0 406.2h0M593.3 431.3h0M593.3 431.8h0M593.9 431.1h0M593.5 430.3h0M594.7 427.4h0M592.8 423.9h0M592.1 430.2h0M593.0 413.0h0M593.3 433.7h0M592.5 427.6h0M593.0 429.6h0M594.3 418.0h0M593.4 432.5h0M593.7 424.0h0M593.9 433.1h0M593.4 433.5h0M593.1 397.3h0M592.9 427.0h0M594.3 429.0h0M593.7 404.0h0M593.7 432.1h0M592.8 431.7h0M594.6 432.1h0M593.1 423.7h0M593.1 420.6h0M593.3 426.4h0M593.8 408.8h0M592.4 430.6h0M593.9 419.5h0M594.2 432.1h0M593.4 424.5h0M594.2 432.9h0M593.7 432.6h0M592.9 406.2h0M592.4 421.4h0M593.7 432.6h0M592.7 431.8h0M593.4 424.4h0M593.5 433.8h0M594.5 428.7h0M593.7 433.4h0M593.5 424.7h0M593.7 433.4h0M592.8 410.2h0M593.1 403.8h0M592.9 431.6h0M593.7 433.3h0M592.9 431.8h0M593.3 433.5h0M592.8 430.8h0M593.4 399.5h0M593.5 417.4h0M593.5 432.2h0M592.7 423.9h0M593.3 433.5h0M593.7 428.2h0M593.8 412.2h0M592.7 418.2h0M593.4 432.6h0M592.3 426.0h0M593.3 433.7h0M593.6 420.0h0M593.3 433.4h0M594.2 397.9h0M592.9 431.1h0M592.3 422.8h0M593.0 433.5h0M593.4 365.1h0M593.9 433.2h0M593.8 433.4h0M593.7 406.2h0M594.3 428.3h0M593.4 433.8h0M593.6 433.7h0M594.1 433.0h0M593.4 433.8h0M593.5 433.8h0M593.1 424.9h0M615.4 408.3h0M615.5 346.9h0M614.8 430.0h0M614.9 421.1h0M615.1 423.2h0M615.3 402.9h0M614.0 420.8h0M614.0 391.9h0M615.0 380.7h0M614.9 408.7h0M614.7 422.1h0M614.1 420.4h0M614.2 426.1h0M614.6 418.9h0M614.6 406.8h0M615.0 407.8h0M614.9 421.9h0M616.2 362.5h0M614.7 426.2h0M614.6 403.3h0M614.7 388.5h0M615.3 405.9h0M616.8 423.7h0M615.3 426.4h0M615.6 417.4h0M614.5 408.3h0M614.3 421.1h0M615.0 419.2h0M615.1 382.7h0M614.4 413.1h0M614.9 362.1h0M615.7 414.2h0M614.2 416.3h0M617.0 385.9h0M615.0 401.5h0M614.1 423.4h0M613.8 378.7h0M614.9 392.3h0M615.7 414.2h0M615.5 415.5h0M635.3 395.9h0M636.2 354.6h0M637.4 336.6h0M634.2 387.0h0M637.4 365.8h0M636.3 412.2h0M637.1 417.8h0M635.9 398.5h0M637.2 409.9h0M636.2 378.5h0M637.6 353.9h0M636.6 388.3h0M636.5 410.2h0M636.5 417.3h0M635.8 403.1h0M637.0 391.2h0M635.6 360.2h0M634.7 392.1h0M635.4 341.6h0M637.2 411.2h0M636.2 417.5h0M634.7 343.6h0M637.0 327.4h0M636.8 420.4h0M638.0 414.5h0M637.0 376.1h0M635.3 430.4h0M636.4 401.2h0M637.2 404.7h0M636.6 395.9h0M636.4 384.2h0M636.5 400.1h0M636.0 404.0h0M636.9 337.6h0M636.4 379.3h0M635.8 392.0h0M638.0 386.7h0M636.0 341.6h0M638.2 386.6h0M635.5 386.1h0M635.1 405.1h0M657.6 382.4h0M660.0 356.2h0M657.6 388.9h0M658.9 414.4h0M655.7 336.0h0M658.6 398.4h0M657.1 345.4h0M656.2 398.0h0M657.4 397.5h0M657.8 363.9h0M660.6 391.5h0M658.8 393.4h0M659.9 350.5h0M657.8 414.5h0M658.3 393.7h0M656.7 382.8h0M658.7 337.3h0M657.1 349.1h0M657.9 358.5h0M658.0 425.1h0M658.1 368.7h0M656.8 379.4h0M660.3 347.0h0M680.1 369.7h0M679.6 338.2h0M677.1 386.6h0M678.5 406.9h0M677.6 344.6h0M679.9 384.0h0M683.6 342.1h0M680.3 368.8h0M679.1 353.1h0M677.7 402.9h0M680.4 337.9h0M679.2 369.8h0M679.9 347.9h0M679.5 294.1h0M678.6 372.2h0M678.8 358.2h0M679.8 402.4h0M679.0 341.5h0M702.9 303.6h0M703.7 269.3h0M697.9 332.9h0M701.0 359.4h0M701.8 330.0h0M703.7 295.2h0M703.3 330.6h0M702.4 329.4h0M701.3 368.4h0M701.5 295.9h0M720.1 280.4h0M721.1 376.4h0M722.1 345.3h0M723.5 320.0h0M725.5 295.4h0M721.9 288.4h0M723.0 314.2h0M721.8 278.5h0M724.6 276.0h0M725.1 299.4h0M720.1 287.4h0M743.1 333.8h0M745.6 283.8h0M745.5 274.1h0M743.0 316.6h0M744.0 332.2h0M742.6 303.4h0"/>
<path d="M982.4 64.5h0M853.3 142.6h0M807.0 184.2h0M853.6 205.3h0M721.9 260.1h0M743.9 199.6h0M743.7 254.4h0M764.8 198.5h0M771.1 232.5h0M767.6 233.4h0M764.6 249.4h0M767.8 250.5h0M787.9 246.9h0M786.9 254.4h0M785.3 270.5h0M765.0 325.5h0M744.0 349.4h0M594.0 324.5h0M614.8 333.4h0M614.6 336.4h0M636.2 312.5h0M635.7 319.5h0M680.9 278.2h0M593.4 424.4h0M594.1 386.8h0M593.9 426.6h0M593.7 431.5h0M594.0 411.2h0M594.0 420.4h0M593.4 424.1h0M593.6 428.2h0M593.1 432.7h0M593.2 430.1h0M593.1 429.0h0M592.4 408.5h0M593.5 433.8h0M593.3 433.7h0M593.7 425.1h0M592.8 429.6h0M593.4 433.3h0M593.6 432.0h0M593.5 433.7h0M593.8 433.7h0M593.5 433.5h0M593.9 407.2h0M593.4 433.6h0M593.5 422.8h0M593.3 433.4h0M593.4 433.7h0M594.3 421.0h0M593.4 431.4h0M593.2 425.6h0M593.9 363.4h0M592.9 429.1h0M593.8 431.0h0M593.9 430.5h0M593.6 432.7h0M593.4 391.3h0M593.7 432.6h0M594.0 421.5h0M593.7 433.3h0M593.4 429.5h0M593.1 433.1h0M593.4 433.0h0M593.3 432.2h0M593.6 433.8h0M593.8 417.4h0M595.1 411.4h0M592.7 430.7h0M593.8 433.7h0M594.1 421.1h0M593.5 432.7h0M592.5 409.7h0M592.4 429.6h0M593.4 430.0h0M593.5 433.7h0M593.4 428.1h0M593.2 432.5h0M593.8 429.3h0M594.0 388.6h0M594.1 412.0h0M592.6 422.6h0M592.9 429.7h0M593.2 433.8h0M593.5 430.4h0M592.9 424.8h0M593.1 432.9h0M593.0 430.2h0M593.4 433.8h0M593.7 431.1h0M592.7 407.8h0M594.4 424.0h0M594.3 426.5h0M593.1 432.7h0M593.7 432.4h0M593.5 413.3h0M593.1 426.2h0M593.5 427.3h0M593.4 433.6h0M593.4 432.5h0M593.5 410.3h0M594.1 430.4h0M593.8 417.4h0M593.8 427.7h0M594.4 427.6h0M593.4 409.0h0M593.4 425.5h0M593.8 431.1h0M594.0 424.7h0M593.4 433.7h0M594.6 403.7h0M594.6 430.7h0M594.4 352.9h0M593.3 409.3h0M594.2 421.5h0M594.4 427.9h0M592.6 430.7h0M593.5 433.6h0M594.5 421.4h0M593.5 422.0h0M593.8 430.5h0M593.7 432.6h0M592.8 382.7h0M593.1 433.0h0M593.5 433.4h0M594.0 422.0h0M593.3 433.8h0M592.8 418.4h0M593.4 431.9h0M593.3 396.9h0M593.4 422.5h0M594.3 432.3h0M593.6 433.7h0M593.7 427.8h0M593.3 428.1h0M593.7 418.8h0M592.8 426.8h0M593.2 430.5h0M593.9 431.8h0M593.3 428.4h0M593.7 432.7h0M593.6 433.6h0M593.2 379.8h0M593.7 381.0h0M615.4 405.3h0M614.9 392.4h0M614.9 412.0h0M614.1 361.9h0M614.0 394.3h0M616.3 395.5h0M614.5 424.5h0M614.3 427.4h0M614.7 415.9h0M615.5 431.0h0M614.0 421.2h0M614.0 411.4h0M614.6 431.1h0M616.4 420.6h0M615.3 395.2h0M615.1 401.8h0M615.3 412.4h0M617.0 384.1h0M614.2 409.7h0M615.7 412.2h0M616.1 373.4h0M613.4 418.3h0M615.7 349.1h0M615.0 381.6h0M615.1 419.6h0M614.6 404.2h0M614.8 398.6h0M614.0 412.9h0M615.2 406.3h0M615.0 416.9h0M614.9 420.5h0M613.9 365.5h0M614.1 425.0h0M615.6 429.9h0M616.6 432.9h0M615.1 425.6h0M614.4 415.2h0M614.1 422.4h0M615.2 417.0h0M615.3 426.4h0M615.0 432.2h0M614.0 365.7h0M614.2 423.3h0M616.2 363.7h0M614.3 372.5h0M615.8 417.7h0M614.7 399.6h0M614.8 405.3h0M614.5 410.3h0M614.4 426.1h0M635.9 360.0h0M635.6 368.5h0M636.7 417.0h0M633.9 375.7h0M637.2 412.1h0M637.6 416.4h0M637.0 403.9h0M636.4 375.4h0M636.6 406.6h0M635.1 387.3h0M638.6 409.0h0M636.5 392.1h0M636.0 352.3h0M636.2 392.0h0M635.6 374.5h0M636.3 364.0h0M637.3 383.9h0M636.6 425.5h0M637.1 361.5h0M637.7 418.5h0M635.6 358.4h0M635.0 399.1h0M636.9 374.0h0M636.5 396.6h0M636.3 375.9h0M637.7 347.8h0M636.3 368.7h0M637.8 418.3h0M636.1 393.4h0M635.9 384.6h0M635.7 400.1h0M635.5 425.5h0M635.4 395.4h0M637.2 425.1h0M636.5 399.0h0M658.8 409.3h0M659.6 330.8h0M658.2 402.5h0M658.6 381.2h0M658.8 393.0h0M658.5 324.7h0M657.5 409.9h0M657.8 368.3h0M658.5 366.2h0M657.9 409.6h0M659.0 412.9h0M658.2 362.1h0M658.9 382.3h0M658.7 379.1h0M657.2 391.5h0M657.9 397.8h0M659.1 355.0h0M659.1 347.2h0M658.4 378.8h0M658.3 400.8h0M658.3 374.7h0M658.6 393.9h0M660.4 361.3h0M658.6 369.6h0M680.2 379.5h0M679.8 331.2h0M677.6 397.3h0M679.5 346.3h0M680.7 303.4h0M681.5 397.3h0M682.0 367.7h0M678.2 367.2h0M678.9 391.5h0M680.0 407.0h0M680.0 387.1h0M678.9 364.9h0M681.0 339.7h0M677.7 388.5h0M677.9 345.0h0M678.8 383.1h0M678.0 374.2h0M680.2 362.8h0M680.5 365.9h0M679.8 361.3h0M678.0 323.1h0M681.2 361.6h0M700.3 345.4h0M702.9 308.3h0M699.9 350.8h0M699.7 365.7h0M700.5 342.8h0M699.5 343.2h0M701.1 273.1h0M702.0 347.8h0M702.3 332.1h0M700.8 300.7h0M702.6 355.0h0M698.8 344.4h0M700.5 359.5h0M702.0 315.0h0M701.7 342.9h0M701.0 343.3h0M701.1 350.2h0M723.1 327.7h0M723.5 277.0h0M722.5 289.3h0M724.3 318.5h0M723.1 306.5h0M724.7 332.2h0M724.3 360.1h0M722.0 303.3h0M721.8 315.2h0M723.8 337.2h0M744.3 275.3h0M741.6 291.9h0M744.9 320.7h0M746.6 311.3h0M744.3 281.7h0M744.6 265.6h0M744.9 334.7h0"/>
<path d="M812.9 227.5h0M808.6 237.4h0M807.3 243.4h0M809.4 285.3h0M831.6 177.4h0M831.0 275.5h0M855.8 256.6h0M894.8 235.5h0M915.3 241.5h0M676.3 244.4h0M702.7 234.5h0M722.1 235.5h0M744.5 229.5h0M742.3 248.4h0M787.7 281.4h0M788.4 282.6h0M789.4 297.0h0M764.7 298.6h0M766.5 344.4h0M614.2 343.3h0M592.9 425.2h0M593.4 432.9h0M593.5 433.7h0M593.3 418.9h0M593.6 433.3h0M593.2 424.1h0M593.8 433.6h0M593.2 402.9h0M593.5 432.1h0M592.6 424.8h0M593.3 432.6h0M593.5 426.8h0M593.8 432.9h0M594.9 395.4h0M594.2 432.9h0M593.5 433.8h0M593.2 433.8h0M593.3 432.2h0M594.5 428.9h0M593.5 433.7h0M594.1 433.1h0M593.2 432.2h0M593.6 428.4h0M593.7 429.9h0M593.6 422.8h0M593.3 433.4h0M593.6 433.0h0M593.6 432.1h0M593.5 429.6h0M593.6 408.5h0M593.7 425.3h0M593.2 433.5h0M593.5 433.7h0M593.4 433.3h0M593.9 428.8h0M593.3 433.4h0M593.5 432.9h0M593.7 427.0h0M592.2 432.7h0M593.5 420.2h0M593.1 406.2h0M593.1 404.7h0M593.1 419.3h0M594.1 428.0h0M593.2 427.6h0M593.5 430.9h0M593.7 423.8h0M593.5 427.7h0M593.9 420.8h0M593.3 433.7h0M593.7 432.9h0M593.2 430.9h0M594.6 431.8h0M593.5 419.7h0M592.9 427.6h0M593.3 426.8h0M593.7 430.0h0M593.8 429.0h0M593.2 425.0h0M593.1 433.7h0M594.4 429.7h0M593.8 431.7h0M593.1 433.2h0M593.8 424.1h0M593.0 406.1h0M593.5 433.8h0M592.6 431.3h0M593.7 433.6h0M592.6 424.8h0M594.3 421.3h0M592.8 412.8h0M593.7 433.8h0M593.3 429.9h0M591.9 420.3h0M593.0 427.6h0M593.3 405.8h0M593.4 425.1h0M593.5 426.8h0M593.6 433.4h0M593.5 409.0h0M592.9 431.7h0M593.9 430.8h0M593.3 378.3h0M592.9 417.9h0M593.3 431.7h0M593.3 377.7h0M593.7 433.8h0M593.8 399.0h0M594.0 431.5h0M594.6 429.5h0M592.9 432.1h0M593.0 410.1h0M593.2 423.9h0M593.5 428.2h0M593.2 430.6h0M593.4 433.8h0M592.5 402.2h0M593.8 432.6h0M593.2 408.6h0M593.1 405.6h0M593.6 431.1h0M593.5 428.6h0M593.8 423.3h0M593.4 433.8h0M593.8 428.5h0M593.9 428.7h0M594.2 429.9h0M593.7 416.3h0M593.6 415.3h0M593.0 426.9h0M594.0 429.0h0M593.5 420.8h0M593.5 430.9h0M593.5 433.8h0M593.7 433.1h0M593.4 428.3h0M593.2 433.8h0M593.2 433.4h0M594.8 429.8h0M594.3 422.2h0M594.3 413.4h0M593.8 433.2h0M593.7 433.2h0M594.1 423.9h0M594.1 433.1h0M594.7 427.2h0M593.8 433.5h0M593.7 409.8h0M593.1 431.7h0M592.7 415.0h0M593.4 428.1h0M593.0 421.6h0M616.1 346.6h0M614.6 388.3h0M615.1 425.2h0M614.4 429.9h0M615.3 417.4h0M615.2 413.1h0M615.1 426.4h0M614.1 420.5h0M615.2 430.6h0M616.3 394.4h0M615.3 403.2h0M614.1 414.7h0M615.1 431.6h0M614.9 402.2h0M614.6 402.5h0M615.8 408.5h0M614.9 410.6h0M614.2 426.0h0M616.2 419.7h0M615.3 397.7h0M613.6 420.4h0M614.0 425.3h0M616.1 363.1h0M616.3 426.2h0M613.6 412.2h0M614.7 406.5h0M614.8 417.3h0M615.3 393.4h0M614.6 401.7h0M616.6 419.7h0M615.0 417.1h0M615.1 429.9h0M615.0 429.2h0M614.1 381.0h0M614.8 384.6h0M615.1 354.9h0M614.1 404.5h0M613.9 379.1h0M615.8 419.9h0M613.7 397.8h0M615.4 418.5h0M615.8 429.0h0M615.1 388.0h0M615.8 359.0h0M616.2 428.0h0M616.1 395.8h0M614.7 417.4h0M614.1 396.1h0M636.0 386.8h0M638.6 341.2h0M637.1 399.9h0M636.3 408.3h0M636.0 421.1h0M637.3 413.5h0M637.7 408.5h0M636.5 414.1h0M637.4 383.2h0M636.5 365.8h0M636.6 396.6h0M635.9 390.6h0M635.9 401.0h0M637.7 419.5h0M637.9 409.8h0M636.7 409.1h0M638.2 408.8h0M637.0 398.3h0M635.3 390.8h0M637.3 372.1h0M637.2 412.7h0M636.3 355.5h0M637.7 426.6h0M638.3 401.8h0M637.8 398.0h0M636.7 423.5h0M635.4 415.5h0M636.4 417.8h0M636.4 406.9h0M636.7 377.9h0M634.9 356.8h0M637.6 341.2h0M638.2 403.4h0M636.2 410.2h0M637.0 419.8h0M637.1 411.4h0M636.5 329.0h0M637.6 401.5h0M656.7 388.6h0M656.8 382.6h0M658.0 383.8h0M659.8 417.1h0M657.8 396.2h0M657.7 364.7h0M656.0 359.5h0M657.2 373.3h0M657.7 359.4h0M657.3 375.4h0M658.7 362.4h0M658.1 405.7h0M659.7 343.8h0M658.4 393.4h0M659.8 371.6h0M656.3 394.3h0M659.7 374.5h0M658.3 372.4h0M659.7 376.7h0M679.6 333.1h0M683.4 301.8h0M680.2 379.6h0M679.2 319.9h0M681.3 325.9h0M677.3 373.0h0M680.7 393.3h0M679.4 364.5h0M679.2 379.2h0M679.0 346.6h0M678.5 397.0h0M703.2 361.9h0M702.3 316.1h0M701.5 343.6h0M701.7 359.0h0M700.0 307.1h0M700.0 311.7h0M702.1 283.0h0M701.3 358.2h0M702.5 302.8h0M703.0 264.4h0M701.6 363.9h0M723.6 343.2h0M720.6 342.7h0M721.7 312.1h0M720.8 373.1h0M722.7 304.1h0M721.9 303.4h0M725.2 281.0h0M721.7 306.8h0M720.0 356.9h0M744.0 265.5h0M745.6 319.3h0M744.9 335.4h0M747.0 322.6h0M746.5 288.9h0M744.9 266.3h0"/>
<path d="M809.2 242.6h0M806.3 258.5h0M809.0 290.5h0M832.1 224.5h0M850.6 188.4h0M854.8 228.4h0M853.4 247.5h0M897.6 251.6h0M702.4 202.4h0M766.2 214.5h0M786.4 190.5h0M789.5 245.5h0M789.3 286.5h0M766.2 316.4h0M765.4 321.4h0M764.0 323.6h0M614.8 329.4h0M614.3 341.4h0M636.3 305.6h0M659.2 277.4h0M593.7 431.6h0M593.7 411.1h0M591.5 381.5h0M593.3 433.1h0M593.7 430.7h0M592.7 432.3h0M593.5 432.2h0M592.5 429.2h0M593.3 359.3h0M593.6 432.5h0M594.3 423.5h0M594.1 429.4h0M594.2 402.9h0M593.3 432.3h0M592.9 388.3h0M593.4 416.4h0M593.5 433.7h0M593.8 433.5h0M593.8 418.3h0M593.3 433.4h0M593.4 433.5h0M593.7 433.8h0M593.0 430.3h0M593.2 429.9h0M592.7 414.2h0M593.5 433.7h0M593.7 423.4h0M593.2 409.7h0M593.4 421.8h0M594.7 428.8h0M593.3 433.6h0M594.2 410.2h0M593.3 430.4h0M593.9 426.9h0M593.5 427.2h0M593.9 423.1h0M593.4 394.3h0M593.5 413.6h0M593.4 427.1h0M593.5 428.3h0M593.5 433.8h0M593.6 417.4h0M594.2 419.2h0M592.5 431.3h0M593.6 433.1h0M592.6 431.8h0M594.0 426.9h0M593.4 432.8h0M593.6 419.9h0M594.1 429.9h0M592.8 428.4h0M592.6 429.6h0M593.2 422.6h0M593.5 433.8h0M593.4 433.0h0M592.5 424.4h0M593.7 430.5h0M593.4 433.8h0M592.9 427.7h0M594.0 430.8h0M593.8 429.0h0M594.7 404.4h0M593.7 423.9h0M593.5 433.6h0M593.6 433.1h0M592.6 428.2h0M594.2 431.5h0M592.9 393.4h0M594.2 416.2h0M592.7 410.7h0M593.4 430.8h0M594.1 410.2h0M594.2 430.4h0M593.5 433.2h0M593.7 433.1h0M593.5 430.1h0M593.4 433.1h0M594.9 424.5h0M593.2 432.6h0M593.3 419.0h0M593.8 423.1h0M593.5 433.6h0M594.0 420.3h0M593.2 414.4h0M593.5 425.8h0M594.0 433.0h0M593.9 433.8h0M594.0 400.8h0M593.1 433.7h0M593.7 430.8h0M593.3 432.8h0M593.4 433.7h0M592.9 429.7h0M593.6 429.4h0M593.9 416.4h0M593.7 429.5h0M594.3 422.6h0M592.7 412.4h0M594.1 433.4h0M593.5 433.6h0M594.6 422.5h0M594.2 375.9h0M593.3 433.7h0M592.8 424.8h0M593.5 429.1h0M592.5 413.5h0M593.9 414.9h0M592.6 432.9h0M593.9 433.2h0M593.9 428.8h0M593.8 431.5h0M593.7 432.1h0M594.4 428.1h0M592.6 428.7h0M594.2 425.5h0M615.2 410.1h0M614.9 424.8h0M615.2 423.8h0M615.3 404.6h0M615.3 384.1h0M615.8 399.0h0M614.0 377.7h0M615.4 417.6h0M614.8 420.8h0M614.7 402.4h0M616.0 390.2h0M615.2 376.0h0M616.3 404.7h0M614.8 372.2h0M615.3 419.3h0M614.0 423.9h0M614.7 377.6h0M616.6 365.2h0M616.1 409.9h0M614.7 426.0h0M615.2 420.4h0M614.6 431.3h0M615.1 428.1h0M614.3 390.4h0M614.5 420.1h0M615.0 421.8h0M614.7 426.3h0M615.0 396.0h0M615.5 404.4h0M614.7 415.8h0M614.1 423.6h0M614.3 430.5h0M614.3 429.8h0M614.7 421.5h0M615.9 428.6h0M615.0 416.0h0M615.0 383.6h0M614.7 397.3h0M615.7 417.4h0M614.7 415.2h0M614.5 413.0h0M615.0 413.4h0M616.2 420.7h0M615.0 431.0h0M615.5 392.5h0M615.7 404.4h0M614.7 386.3h0M615.0 400.0h0M614.9 425.7h0M613.8 407.1h0M615.9 415.7h0M613.6 396.3h0M613.9 410.5h0M615.9 416.4h0M615.5 387.2h0M614.7 415.6h0M613.7 398.9h0M636.1 397.3h0M637.7 368.2h0M638.3 380.3h0M637.0 404.8h0M636.9 406.1h0M636.8 407.7h0M637.3 389.6h0M637.3 401.4h0M638.9 368.0h0M636.3 407.2h0M637.8 405.1h0M636.7 364.3h0M637.1 402.2h0M635.5 425.4h0M636.6 337.8h0M637.7 346.5h0M637.8 407.8h0M635.8 364.3h0M637.0 416.6h0M636.3 379.8h0M636.9 425.6h0M636.6 383.3h0M635.5 354.0h0M638.1 362.2h0M636.4 366.9h0M638.2 396.5h0M657.3 353.7h0M658.5 337.3h0M659.3 373.4h0M659.5 414.9h0M655.9 351.1h0M658.7 373.6h0M658.6 410.4h0M659.6 369.4h0M657.5 402.0h0M659.5 360.7h0M660.1 347.9h0M657.3 408.3h0M657.4 390.3h0M656.9 373.2h0M656.4 347.8h0M657.9 396.3h0M658.0 383.5h0M656.8 400.2h0M658.7 327.3h0M659.4 378.7h0M658.6 413.5h0M657.7 375.0h0M658.7 327.4h0M657.9 411.2h0M660.2 393.0h0M658.6 390.3h0M657.9 335.4h0M680.1 354.3h0M680.2 372.0h0M680.7 355.3h0M677.4 368.1h0M679.9 334.5h0M681.2 363.3h0M680.4 314.3h0M681.3 381.2h0M680.1 322.6h0M681.9 372.5h0M680.5 416.5h0M679.7 411.4h0M678.6 370.1h0M679.6 380.5h0M680.3 313.2h0M679.8 375.7h0M681.7 312.5h0M681.6 343.0h0M676.8 367.7h0M679.3 316.5h0M680.1 385.2h0M681.5 379.6h0M701.6 351.1h0M700.3 352.7h0M704.3 356.6h0M701.1 325.1h0M702.8 309.6h0M718.6 360.6h0M722.7 374.7h0M722.8 339.1h0M722.5 318.8h0M724.3 316.5h0M723.4 302.0h0M721.6 318.9h0M722.4 341.7h0M723.8 339.5h0M721.5 292.8h0M722.6 314.0h0M723.6 307.3h0M743.3 332.5h0M747.5 280.1h0M746.7 323.5h0M742.2 301.2h0M742.0 326.2h0M745.2 323.8h0M745.7 312.2h0M744.8 279.4h0M743.9 321.5h0"/>
<path d="M851.4 108.6h0M807.2 196.6h0M806.9 269.5h0M874.8 226.4h0M893.9 242.6h0M809.0 315.2h0M700.7 244.4h0M745.2 191.5h0M743.7 241.9h0M742.5 254.1h0M763.5 216.5h0M786.0 189.4h0M788.5 204.5h0M784.9 263.4h0M786.4 296.5h0M765.3 272.5h0M764.8 291.2h0M766.3 290.4h0M720.7 395.6h0M703.4 401.4h0M613.9 290.4h0M658.2 304.5h0M657.8 312.5h0M593.7 433.1h0M593.3 433.6h0M593.4 433.6h0M594.4 422.8h0M592.9 429.3h0M593.4 433.8h0M594.0 424.0h0M593.4 408.2h0M594.6 427.1h0M593.8 431.1h0M593.3 414.1h0M593.9 433.7h0M594.3 416.4h0M593.3 431.9h0M593.8 427.8h0M593.1 432.3h0M594.3 411.6h0M594.6 432.1h0M593.7 431.3h0M592.9 424.9h0M593.5 433.7h0M593.5 427.8h0M593.2 433.5h0M592.5 414.8h0M593.7 422.3h0M592.7 417.4h0M593.2 432.4h0M593.7 432.6h0M594.8 426.0h0M593.5 433.8h0M593.1 427.0h0M593.6 425.9h0M593.3 413.3h0M594.1 426.0h0M594.1 430.2h0M592.3 416.3h0M593.2 433.4h0M593.4 420.6h0M592.7 427.8h0M593.8 424.7h0M592.3 428.3h0M593.5 433.4h0M593.4 431.4h0M594.4 410.9h0M593.8 422.2h0M592.1 432.3h0M593.6 424.3h0M593.7 432.3h0M593.7 433.7h0M593.1 433.8h0M593.7 433.8h0M594.2 425.4h0M593.0 433.0h0M592.8 429.9h0M593.5 431.8h0M592.6 425.0h0M594.1 411.5h0M593.1 425.6h0M593.5 425.0h0M593.7 429.4h0M593.6 428.1h0M593.0 425.7h0M593.3 433.0h0M594.4 391.2h0M593.2 407.6h0M592.0 419.9h0M593.7 431.6h0M593.6 418.0h0M593.9 431.5h0M593.4 433.7h0M593.9 430.3h0M594.0 427.2h0M593.7 433.4h0M593.9 432.3h0M594.1 433.4h0M592.9 413.9h0M593.4 426.2h0M593.4 432.0h0M594.2 432.8h0M593.8 433.5h0M593.4 433.3h0M595.1 427.5h0M593.5 420.4h0M593.7 429.1h0M594.3 419.0h0M594.2 417.0h0M594.0 428.4h0M593.1 432.2h0M593.4 433.2h0M593.6 433.1h0M593.4 433.7h0M593.5 433.7h0M593.7 411.3h0M592.9 425.0h0M593.9 390.6h0M593.4 431.3h0M594.3 432.3h0M594.2 425.3h0M593.8 370.4h0M592.9 403.6h0M593.8 424.3h0M593.1 411.8h0M593.3 410.0h0M593.1 423.5h0M592.6 429.3h0M593.3 406.5h0M593.3 429.1h0M593.2 433.8h0M593.5 433.4h0M594.2 432.3h0M592.8 427.9h0M593.5 433.8h0M593.0 429.7h0M593.6 433.8h0M593.6 433.8h0M593.4 433.0h0M593.8 433.7h0M593.4 433.5h0M593.6 433.8h0M593.3 432.6h0M593.1 432.3h0M593.6 429.6h0M593.0 427.1h0M592.8 432.6h0M593.7 422.0h0M594.1 430.9h0M593.7 433.3h0M594.0 433.0h0M593.6 429.6h0M593.5 430.6h0M593.7 433.5h0M593.1 422.4h0M593.2 433.3h0M593.5 431.2h0M594.6 432.6h0M594.2 423.6h0M615.2 409.4h0M615.2 426.0h0M616.4 415.1h0M614.9 372.8h0M614.6 397.1h0M614.3 425.2h0M615.4 373.1h0M616.2 402.4h0M615.3 419.7h0M615.1 417.8h0M615.8 408.4h0M614.7 415.7h0M614.8 418.7h0M615.3 428.3h0M614.5 423.6h0M615.0 374.8h0M615.4 431.2h0M614.9 421.6h0M614.4 387.9h0M614.9 401.5h0M615.3 425.9h0M615.2 413.9h0M613.0 406.5h0M615.1 382.3h0M615.9 374.3h0M614.4 428.2h0M615.6 369.1h0M615.2 404.1h0M615.4 393.3h0M615.9 420.6h0M615.5 373.8h0M614.0 429.7h0M615.0 423.5h0M615.1 420.6h0M614.1 414.8h0M614.5 418.6h0M614.3 401.2h0M614.2 415.7h0M615.7 426.3h0M613.0 425.9h0M616.1 400.7h0M616.1 375.1h0M615.8 404.0h0M614.6 413.3h0M614.4 404.5h0M615.1 429.3h0M614.5 414.2h0M615.8 404.0h0M615.6 412.9h0M615.1 423.5h0M614.8 421.2h0M615.1 389.8h0M635.3 353.3h0M637.0 407.4h0M635.1 409.4h0M634.6 393.5h0M636.1 382.4h0M635.5 381.2h0M634.8 370.8h0M637.2 419.3h0M634.0 354.2h0M637.0 411.5h0M635.6 386.1h0M637.2 389.0h0M637.1 370.7h0M634.8 388.2h0M637.1 385.7h0M635.9 399.5h0M636.3 389.7h0M636.4 406.9h0M637.6 374.1h0M635.4 429.6h0M636.2 390.8h0M635.6 387.5h0M637.3 413.6h0M635.4 373.9h0M635.5 339.3h0M636.3 432.0h0M637.6 383.8h0M634.8 370.9h0M637.2 392.3h0M635.4 411.1h0M637.5 327.8h0M636.8 385.7h0M636.1 381.4h0M637.3 412.4h0M638.0 388.4h0M636.0 385.1h0M634.9 394.5h0M637.1 387.6h0M635.7 341.5h0M637.0 404.5h0M634.5 413.8h0M636.8 373.6h0M636.6 408.5h0M637.3 395.8h0M636.7 383.3h0M637.1 343.8h0M658.1 365.8h0M659.4 392.8h0M659.2 417.0h0M656.9 398.3h0M658.1 407.1h0M659.6 329.2h0M656.4 370.2h0M658.8 325.0h0M657.3 328.9h0M658.1 369.3h0M655.8 388.0h0M657.1 384.9h0M658.9 393.2h0M657.5 330.3h0M657.6 362.1h0M658.0 412.3h0M658.4 411.3h0M659.1 402.8h0M658.0 385.3h0M660.8 393.0h0M656.1 347.7h0M657.0 374.1h0M658.1 329.2h0M657.0 352.4h0M681.0 372.5h0M677.2 416.8h0M682.4 330.1h0M679.9 396.5h0M681.0 314.5h0M679.0 371.4h0M679.4 347.0h0M679.4 340.5h0M678.9 399.9h0M679.3 326.7h0M680.1 380.6h0M679.5 388.5h0M680.4 370.8h0M704.3 372.8h0M698.5 376.0h0M700.5 309.2h0M700.1 330.0h0M700.9 331.5h0M699.9 294.7h0M699.9 331.1h0M703.6 343.8h0M701.6 371.8h0M700.7 342.8h0M701.5 304.2h0M700.3 351.0h0M700.5 325.7h0M699.7 299.7h0M704.0 278.1h0M721.8 319.3h0M722.0 343.7h0M721.6 341.3h0M720.6 346.3h0M723.0 275.2h0M723.2 362.6h0M723.9 299.9h0M720.4 269.7h0M720.6 301.6h0M723.9 345.4h0M722.5 288.6h0M722.1 275.6h0M723.1 371.4h0M745.7 312.0h0M743.4 267.3h0M744.9 308.0h0M745.1 326.3h0"/>
</g>
<text transform="translate(139.75 27.60) scale(1.0108 1)" x="-2.81 9.71 24.84 33.86 41.97 47.13 61.64" y="0" font-size="23">Partial</text>
<text transform="translate(139.75 27.60) scale(1.0108 1)" x="74.34 86.80 100.60 114.28 120.64 134.57 147.66 162.73 170.76" y="0" font-size="23">conjugate</text>
<text transform="translate(139.75 27.60) scale(1.0108 1)" x="191.09 201.98 217.21 238.25 252.03 258.18 264.45 278.28" y="0" font-size="23">sampling</text>
<text transform="translate(735.60 27.60) scale(0.9579 1)" x="-2.60 10.87 25.44 31.94" y="0" font-size="23">Full</text>
<text transform="translate(735.60 27.60) scale(0.9579 1)" x="45.65 62.99 80.00 94.06" y="0" font-size="23">NUTS</text>
<text transform="translate(227.07 497.90) scale(1.0261 1)" x="-0.29 10.49 18.29 31.08" y="0" font-size="21.5">True</text>
<text transform="translate(227.07 497.90) scale(1.0261 1)" x="50.39 61.27 74.69 80.33 93.12 105.39" y="0" font-size="21.5">values</text>
<text transform="translate(728.07 497.90) scale(1.0261 1)" x="-0.29 10.49 18.29 31.08" y="0" font-size="21.5">True</text>
<text transform="translate(728.07 497.90) scale(1.0261 1)" x="50.39 61.27 74.69 80.33 93.12 105.39" y="0" font-size="21.5">values</text>
<text transform="translate(24.90 344.00) rotate(-90) scale(1.0396 1)" x="-2.77 9.55 21.63 32.96 40.15 53.16 60.89 66.20 79.21" y="0" font-size="21.5">Posterior</text>
<text transform="translate(24.90 344.00) rotate(-90) scale(1.0396 1)" x="93.12 105.20 116.53 123.90 129.91 147.96 161.72 168.91 180.99" y="0" font-size="21.5">estimates</text>
<text transform="translate(525.90 344.00) rotate(-90) scale(1.0396 1)" x="-2.77 9.55 21.63 32.96 40.15 53.16 60.89 66.20 79.21" y="0" font-size="21.5">Posterior</text>
<text transform="translate(525.90 344.00) rotate(-90) scale(1.0396 1)" x="93.12 105.20 116.53 123.90 129.91 147.96 161.72 168.91 180.99" y="0" font-size="21.5">estimates</text>
<text transform="translate(66.68 472.20) scale(1.0514 1)" x="-0.78 10.79 16.92" y="0" font-size="19.6">0.0</text>
<text transform="translate(176.33 472.20) scale(1.0347 1)" x="-0.70 11.01 17.03" y="0" font-size="19.6">0.2</text>
<text transform="translate(285.22 472.20) scale(1.0514 1)" x="-0.78 10.79 16.92" y="0" font-size="19.6">0.4</text>
<text transform="translate(394.61 472.20) scale(1.0678 1)" x="-0.85 10.59 16.58" y="0" font-size="19.6">0.6</text>
<text transform="translate(36.66 441.10) scale(1.0514 1)" x="-0.78 10.79 16.92" y="0" font-size="19.6">0.0</text>
<text transform="translate(37.32 351.10) scale(1.0347 1)" x="-0.70 11.01 17.03" y="0" font-size="19.6">0.2</text>
<text transform="translate(36.46 261.10) scale(1.0514 1)" x="-0.78 10.79 16.92" y="0" font-size="19.6">0.4</text>
<text transform="translate(36.60 171.10) scale(1.0678 1)" x="-0.85 10.59 16.58" y="0" font-size="19.6">0.6</text>
<text transform="translate(36.70 81.10) scale(1.0566 1)" x="-0.80 10.73 16.81" y="0" font-size="19.6">0.8</text>
<text transform="translate(567.28 472.20) scale(1.0514 1)" x="-0.78 10.79 16.92" y="0" font-size="19.6">0.0</text>
<text transform="translate(676.07 472.20) scale(1.0347 1)" x="-0.70 11.01 17.03" y="0" font-size="19.6">0.2</text>
<text transform="translate(784.10 472.20) scale(1.0514 1)" x="-0.78 10.79 16.92" y="0" font-size="19.6">0.4</text>
<text transform="translate(892.63 472.20) scale(1.0678 1)" x="-0.85 10.59 16.58" y="0" font-size="19.6">0.6</text>
<text transform="translate(537.66 441.10) scale(1.0514 1)" x="-0.78 10.79 16.92" y="0" font-size="19.6">0.0</text>
<text transform="translate(538.32 351.10) scale(1.0347 1)" x="-0.70 11.01 17.03" y="0" font-size="19.6">0.2</text>
<text transform="translate(537.46 261.10) scale(1.0514 1)" x="-0.78 10.79 16.92" y="0" font-size="19.6">0.4</text>
<text transform="translate(537.60 171.10) scale(1.0678 1)" x="-0.85 10.59 16.58" y="0" font-size="19.6">0.6</text>
<text transform="translate(537.70 81.10) scale(1.0566 1)" x="-0.80 10.73 16.81" y="0" font-size="19.6">0.8</text>
</svg>
</body></html>
